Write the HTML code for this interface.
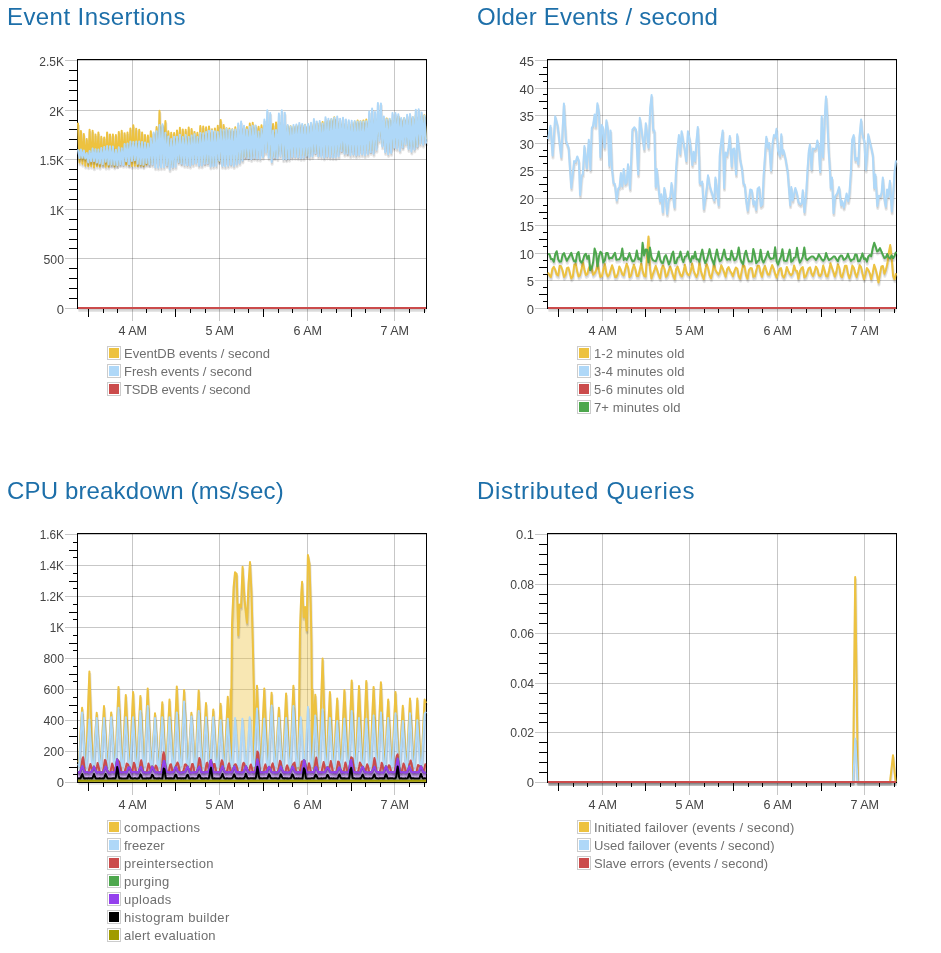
<!DOCTYPE html>
<html lang="en">
<head>
<meta charset="utf-8">
<title>Dashboard</title>
<style>
html,body{margin:0;padding:0;background:#fff}
body{position:relative;width:941px;height:953px;overflow:hidden;font-family:"Liberation Sans",sans-serif}
.panel{position:absolute;width:470px;height:474px;will-change:transform}
h2{position:absolute;left:7px;top:0;margin:0;font-weight:normal;font-size:24px;line-height:33px;color:#1d6fa9;white-space:nowrap}
svg.plot{position:absolute;left:0;top:0;overflow:visible}
svg.plot text{font-family:"Liberation Sans",sans-serif;font-size:13px;fill:#444}
.legend{position:absolute;left:107px;top:346px;font-size:13px;color:#6f6f6f}
.lr{height:18px;white-space:nowrap;position:relative}
.sw{position:absolute;left:0;top:0;width:10px;height:10px;padding:1px;border:1px solid #ccc;background:#fff}
.sw i{display:block;width:10px;height:10px}
.ll{position:absolute;left:17px;top:0;line-height:16px}
</style>
</head>
<body>
<section class="panel" style="left:0px;top:0px">
<h2 style="letter-spacing:0.42px">Event Insertions</h2>
<svg class="plot" width="470" height="345" viewBox="0 0 470 345">
<g shape-rendering="crispEdges" fill="none">
<path d="M65 308.5 H426" stroke="#000" stroke-opacity="0.22"/>
<path d="M65 258.5 H426" stroke="#000" stroke-opacity="0.22"/>
<path d="M65 209.5 H426" stroke="#000" stroke-opacity="0.22"/>
<path d="M65 159.5 H426" stroke="#000" stroke-opacity="0.22"/>
<path d="M65 110.5 H426" stroke="#000" stroke-opacity="0.22"/>
<path d="M65 60.5 H426" stroke="#000" stroke-opacity="0.22"/>
<path d="M132.5 60 V321" stroke="#000" stroke-opacity="0.22"/>
<path d="M219.5 60 V321" stroke="#000" stroke-opacity="0.22"/>
<path d="M307.5 60 V321" stroke="#000" stroke-opacity="0.22"/>
<path d="M394.5 60 V321" stroke="#000" stroke-opacity="0.22"/>
<rect x="77.5" y="59.5" width="349" height="249" stroke="#000"/>
<path d="M69 298.5 H77" stroke="#000"/>
<path d="M69 288.5 H77" stroke="#000"/>
<path d="M69 278.5 H77" stroke="#000"/>
<path d="M69 268.5 H77" stroke="#000"/>
<path d="M69 248.5 H77" stroke="#000"/>
<path d="M69 239.5 H77" stroke="#000"/>
<path d="M69 229.5 H77" stroke="#000"/>
<path d="M69 219.5 H77" stroke="#000"/>
<path d="M69 199.5 H77" stroke="#000"/>
<path d="M69 189.5 H77" stroke="#000"/>
<path d="M69 179.5 H77" stroke="#000"/>
<path d="M69 169.5 H77" stroke="#000"/>
<path d="M69 149.5 H77" stroke="#000"/>
<path d="M69 139.5 H77" stroke="#000"/>
<path d="M69 129.5 H77" stroke="#000"/>
<path d="M69 120.5 H77" stroke="#000"/>
<path d="M69 100.5 H77" stroke="#000"/>
<path d="M69 90.5 H77" stroke="#000"/>
<path d="M69 80.5 H77" stroke="#000"/>
<path d="M69 70.5 H77" stroke="#000"/>
<path d="M88.5 309 V317" stroke="#000"/>
<path d="M103.5 309 V313" stroke="#000"/>
<path d="M117.5 309 V313" stroke="#000"/>
<path d="M146.5 309 V313" stroke="#000"/>
<path d="M161.5 309 V313" stroke="#000"/>
<path d="M175.5 309 V317" stroke="#000"/>
<path d="M190.5 309 V313" stroke="#000"/>
<path d="M205.5 309 V313" stroke="#000"/>
<path d="M234.5 309 V313" stroke="#000"/>
<path d="M248.5 309 V313" stroke="#000"/>
<path d="M263.5 309 V317" stroke="#000"/>
<path d="M278.5 309 V313" stroke="#000"/>
<path d="M292.5 309 V313" stroke="#000"/>
<path d="M321.5 309 V313" stroke="#000"/>
<path d="M336.5 309 V313" stroke="#000"/>
<path d="M351.5 309 V317" stroke="#000"/>
<path d="M365.5 309 V313" stroke="#000"/>
<path d="M380.5 309 V313" stroke="#000"/>
<path d="M409.5 309 V313" stroke="#000"/>
<path d="M424.5 309 V313" stroke="#000"/>
</g>
<g fill="none" stroke-linejoin="round" stroke-linecap="butt">
<path d="M78 122.7L79.5 162.5L80.9 130.9L82.4 163.8L83.8 134L85.3 165.7L86.7 138.9L88.2 166.3L89.6 129.8L91.1 165.9L92.6 130.8L94 167.4L95.5 134.5L96.9 165.9L98.4 132.6L99.8 166.7L101.3 136.7L102.8 164.9L104.2 137.4L105.7 166.8L107.1 132.4L108.6 166.6L110 134.4L111.5 164.8L112.9 134.6L114.4 166.5L115.9 135.1L117.3 165.4L118.8 131.9L120.2 163.5L121.7 130.8L123.1 163.1L124.6 133.2L126.1 164.7L127.5 132.6L129 165.2L130.4 128.4L131.9 166L133.3 125.2L134.8 165.7L136.2 128.8L137.7 166.1L139.2 129.7L140.6 165.5L142.1 132.6L143.5 166.3L145 135.1L146.4 164.5L147.9 135.6L149.3 164.3L150.8 131.2L152.3 162.1L153.7 134.2L155.2 160.7L156.6 127L158.1 163L159.5 110.8L161 160.2L162.5 125.5L163.9 162.5L165.4 121.1L166.8 163.8L168.3 131.2L169.7 164.3L171.2 132.8L172.6 164.8L174.1 133.1L175.6 159.4L177 130.4L178.5 160.6L179.9 127.8L181.4 162.1L182.8 129.5L184.3 160.4L185.7 129.7L187.2 162.5L188.7 127.5L190.1 162.4L191.6 129.1L193 161.1L194.5 131.9L195.9 159.8L197.4 132.7L198.9 162.8L200.3 126L201.8 162.2L203.2 126.5L204.7 162.3L206.1 127.2L207.6 161.2L209 126.4L210.5 162.9L212 129.3L213.4 162.7L214.9 128.4L216.3 158.9L217.8 125.8L219.2 161.3L220.7 120.1L222.2 162.3L223.6 124.9L225.1 161.3L226.5 128.2L228 162.2L229.4 128.6L230.9 162.3L232.3 129.3L233.8 161.9L235.3 127.3L236.7 161L238.2 129.2L239.6 159.5L241.1 126.7L242.5 157.7L244 127.5L245.4 156.1L246.9 127.1L248.4 156.4L249.8 123.6L251.3 156.3L252.7 122.7L254.2 155.4L255.6 126L257.1 155.3L258.6 126.8L260 152.7L261.5 125.3L262.9 153.6L264.4 125.7L265.8 145.5L267.3 124.8L268.7 152.5L270.2 126.5L271.7 158.1L273.1 124L274.6 156.1L276 122.4L277.5 153.7L278.9 120.7L280.4 150.9L281.8 122.3L283.3 156.1L284.8 126.7L286.2 157.8L287.7 125.8L289.1 156.3L290.6 126.2L292 154.8L293.5 126.9L295 154.1L296.4 125.9L297.9 155L299.3 125.8L300.8 155.1L302.2 125.5L303.7 155.2L305.1 124.7L306.6 155.2L308.1 124.8L309.5 153.2L311 124.5L312.4 151.8L313.9 122.9L315.3 151.2L316.8 123.4L318.3 153.1L319.7 123L321.2 152.5L322.6 122L324.1 154.8L325.5 121.9L327 153.9L328.4 121.1L329.9 154.6L331.4 119.3L332.8 154.6L334.3 117.2L335.7 153.2L337.2 121.3L338.6 151.6L340.1 122.4L341.5 149.3L343 121.8L344.5 150.6L345.9 124.8L347.4 152.2L348.8 124.4L350.3 149.5L351.7 124.4L353.2 151.5L354.7 121.7L356.1 153L357.6 120.5L359 150.2L360.5 121.3L361.9 150.9L363.4 120.4L364.8 150.5L366.3 119.6L367.8 150.8L369.2 120L370.7 150.3L372.1 118.4L373.6 150.1L375 118.2L376.5 145L377.9 118.2L379.4 135.9L380.9 119.7L382.3 142.6L383.8 120.6L385.2 148.8L386.7 118.6L388.1 149.7L389.6 119L391.1 149.1L392.5 120.8L394 145.7L395.4 118.3L396.9 144.1L398.3 116.8L399.8 145.5L401.2 119.3L402.7 145.5L404.2 118.2L405.6 139.8L407.1 119L408.5 145.3L410 116.3L411.4 146L412.9 117.6L414.4 146.6L415.8 115.1L417.3 144.5L418.7 117.2L420.2 140.1L421.6 116.2L423.1 141.5L424.5 115.2L426 139.4" transform="translate(0.43,2.46)" stroke="#000" stroke-opacity="0.1" stroke-width="3"/>
<path d="M78 122.7L79.5 162.5L80.9 130.9L82.4 163.8L83.8 134L85.3 165.7L86.7 138.9L88.2 166.3L89.6 129.8L91.1 165.9L92.6 130.8L94 167.4L95.5 134.5L96.9 165.9L98.4 132.6L99.8 166.7L101.3 136.7L102.8 164.9L104.2 137.4L105.7 166.8L107.1 132.4L108.6 166.6L110 134.4L111.5 164.8L112.9 134.6L114.4 166.5L115.9 135.1L117.3 165.4L118.8 131.9L120.2 163.5L121.7 130.8L123.1 163.1L124.6 133.2L126.1 164.7L127.5 132.6L129 165.2L130.4 128.4L131.9 166L133.3 125.2L134.8 165.7L136.2 128.8L137.7 166.1L139.2 129.7L140.6 165.5L142.1 132.6L143.5 166.3L145 135.1L146.4 164.5L147.9 135.6L149.3 164.3L150.8 131.2L152.3 162.1L153.7 134.2L155.2 160.7L156.6 127L158.1 163L159.5 110.8L161 160.2L162.5 125.5L163.9 162.5L165.4 121.1L166.8 163.8L168.3 131.2L169.7 164.3L171.2 132.8L172.6 164.8L174.1 133.1L175.6 159.4L177 130.4L178.5 160.6L179.9 127.8L181.4 162.1L182.8 129.5L184.3 160.4L185.7 129.7L187.2 162.5L188.7 127.5L190.1 162.4L191.6 129.1L193 161.1L194.5 131.9L195.9 159.8L197.4 132.7L198.9 162.8L200.3 126L201.8 162.2L203.2 126.5L204.7 162.3L206.1 127.2L207.6 161.2L209 126.4L210.5 162.9L212 129.3L213.4 162.7L214.9 128.4L216.3 158.9L217.8 125.8L219.2 161.3L220.7 120.1L222.2 162.3L223.6 124.9L225.1 161.3L226.5 128.2L228 162.2L229.4 128.6L230.9 162.3L232.3 129.3L233.8 161.9L235.3 127.3L236.7 161L238.2 129.2L239.6 159.5L241.1 126.7L242.5 157.7L244 127.5L245.4 156.1L246.9 127.1L248.4 156.4L249.8 123.6L251.3 156.3L252.7 122.7L254.2 155.4L255.6 126L257.1 155.3L258.6 126.8L260 152.7L261.5 125.3L262.9 153.6L264.4 125.7L265.8 145.5L267.3 124.8L268.7 152.5L270.2 126.5L271.7 158.1L273.1 124L274.6 156.1L276 122.4L277.5 153.7L278.9 120.7L280.4 150.9L281.8 122.3L283.3 156.1L284.8 126.7L286.2 157.8L287.7 125.8L289.1 156.3L290.6 126.2L292 154.8L293.5 126.9L295 154.1L296.4 125.9L297.9 155L299.3 125.8L300.8 155.1L302.2 125.5L303.7 155.2L305.1 124.7L306.6 155.2L308.1 124.8L309.5 153.2L311 124.5L312.4 151.8L313.9 122.9L315.3 151.2L316.8 123.4L318.3 153.1L319.7 123L321.2 152.5L322.6 122L324.1 154.8L325.5 121.9L327 153.9L328.4 121.1L329.9 154.6L331.4 119.3L332.8 154.6L334.3 117.2L335.7 153.2L337.2 121.3L338.6 151.6L340.1 122.4L341.5 149.3L343 121.8L344.5 150.6L345.9 124.8L347.4 152.2L348.8 124.4L350.3 149.5L351.7 124.4L353.2 151.5L354.7 121.7L356.1 153L357.6 120.5L359 150.2L360.5 121.3L361.9 150.9L363.4 120.4L364.8 150.5L366.3 119.6L367.8 150.8L369.2 120L370.7 150.3L372.1 118.4L373.6 150.1L375 118.2L376.5 145L377.9 118.2L379.4 135.9L380.9 119.7L382.3 142.6L383.8 120.6L385.2 148.8L386.7 118.6L388.1 149.7L389.6 119L391.1 149.1L392.5 120.8L394 145.7L395.4 118.3L396.9 144.1L398.3 116.8L399.8 145.5L401.2 119.3L402.7 145.5L404.2 118.2L405.6 139.8L407.1 119L408.5 145.3L410 116.3L411.4 146L412.9 117.6L414.4 146.6L415.8 115.1L417.3 144.5L418.7 117.2L420.2 140.1L421.6 116.2L423.1 141.5L424.5 115.2L426 139.4" transform="translate(0.3,1.72)" stroke="#000" stroke-opacity="0.1" stroke-width="1.5"/>
<path d="M78 122.7L79.5 162.5L80.9 130.9L82.4 163.8L83.8 134L85.3 165.7L86.7 138.9L88.2 166.3L89.6 129.8L91.1 165.9L92.6 130.8L94 167.4L95.5 134.5L96.9 165.9L98.4 132.6L99.8 166.7L101.3 136.7L102.8 164.9L104.2 137.4L105.7 166.8L107.1 132.4L108.6 166.6L110 134.4L111.5 164.8L112.9 134.6L114.4 166.5L115.9 135.1L117.3 165.4L118.8 131.9L120.2 163.5L121.7 130.8L123.1 163.1L124.6 133.2L126.1 164.7L127.5 132.6L129 165.2L130.4 128.4L131.9 166L133.3 125.2L134.8 165.7L136.2 128.8L137.7 166.1L139.2 129.7L140.6 165.5L142.1 132.6L143.5 166.3L145 135.1L146.4 164.5L147.9 135.6L149.3 164.3L150.8 131.2L152.3 162.1L153.7 134.2L155.2 160.7L156.6 127L158.1 163L159.5 110.8L161 160.2L162.5 125.5L163.9 162.5L165.4 121.1L166.8 163.8L168.3 131.2L169.7 164.3L171.2 132.8L172.6 164.8L174.1 133.1L175.6 159.4L177 130.4L178.5 160.6L179.9 127.8L181.4 162.1L182.8 129.5L184.3 160.4L185.7 129.7L187.2 162.5L188.7 127.5L190.1 162.4L191.6 129.1L193 161.1L194.5 131.9L195.9 159.8L197.4 132.7L198.9 162.8L200.3 126L201.8 162.2L203.2 126.5L204.7 162.3L206.1 127.2L207.6 161.2L209 126.4L210.5 162.9L212 129.3L213.4 162.7L214.9 128.4L216.3 158.9L217.8 125.8L219.2 161.3L220.7 120.1L222.2 162.3L223.6 124.9L225.1 161.3L226.5 128.2L228 162.2L229.4 128.6L230.9 162.3L232.3 129.3L233.8 161.9L235.3 127.3L236.7 161L238.2 129.2L239.6 159.5L241.1 126.7L242.5 157.7L244 127.5L245.4 156.1L246.9 127.1L248.4 156.4L249.8 123.6L251.3 156.3L252.7 122.7L254.2 155.4L255.6 126L257.1 155.3L258.6 126.8L260 152.7L261.5 125.3L262.9 153.6L264.4 125.7L265.8 145.5L267.3 124.8L268.7 152.5L270.2 126.5L271.7 158.1L273.1 124L274.6 156.1L276 122.4L277.5 153.7L278.9 120.7L280.4 150.9L281.8 122.3L283.3 156.1L284.8 126.7L286.2 157.8L287.7 125.8L289.1 156.3L290.6 126.2L292 154.8L293.5 126.9L295 154.1L296.4 125.9L297.9 155L299.3 125.8L300.8 155.1L302.2 125.5L303.7 155.2L305.1 124.7L306.6 155.2L308.1 124.8L309.5 153.2L311 124.5L312.4 151.8L313.9 122.9L315.3 151.2L316.8 123.4L318.3 153.1L319.7 123L321.2 152.5L322.6 122L324.1 154.8L325.5 121.9L327 153.9L328.4 121.1L329.9 154.6L331.4 119.3L332.8 154.6L334.3 117.2L335.7 153.2L337.2 121.3L338.6 151.6L340.1 122.4L341.5 149.3L343 121.8L344.5 150.6L345.9 124.8L347.4 152.2L348.8 124.4L350.3 149.5L351.7 124.4L353.2 151.5L354.7 121.7L356.1 153L357.6 120.5L359 150.2L360.5 121.3L361.9 150.9L363.4 120.4L364.8 150.5L366.3 119.6L367.8 150.8L369.2 120L370.7 150.3L372.1 118.4L373.6 150.1L375 118.2L376.5 145L377.9 118.2L379.4 135.9L380.9 119.7L382.3 142.6L383.8 120.6L385.2 148.8L386.7 118.6L388.1 149.7L389.6 119L391.1 149.1L392.5 120.8L394 145.7L395.4 118.3L396.9 144.1L398.3 116.8L399.8 145.5L401.2 119.3L402.7 145.5L404.2 118.2L405.6 139.8L407.1 119L408.5 145.3L410 116.3L411.4 146L412.9 117.6L414.4 146.6L415.8 115.1L417.3 144.5L418.7 117.2L420.2 140.1L421.6 116.2L423.1 141.5L424.5 115.2L426 139.4" stroke="#edc240" stroke-width="2"/>
<path d="M78 149.3L79.5 158L80.9 149.4L82.4 157.8L83.8 150.4L85.3 158.6L86.7 153L88.2 162.4L89.6 151L91.1 161.3L92.6 148.6L94 161.2L95.5 149.2L96.9 162.6L98.4 149.5L99.8 163.4L101.3 148L102.8 164.5L104.2 147.1L105.7 161.7L107.1 146.1L108.6 164.4L110 146.3L111.5 164.5L112.9 146.6L114.4 164.7L115.9 149.7L117.3 165.3L118.8 147.3L120.2 164.2L121.7 148.2L123.1 164.9L124.6 144L126.1 161.3L127.5 143.4L129 164.4L130.4 141.5L131.9 160.9L133.3 141.9L134.8 160.2L136.2 141.5L137.7 163.7L139.2 141.6L140.6 164.2L142.1 142L143.5 164.8L145 142.5L146.4 162.9L147.9 143.5L149.3 164.4L150.8 138.3L152.3 164.5L153.7 132.4L155.2 167.2L156.6 131.3L158.1 167.6L159.5 125L161 167.3L162.5 124.3L163.9 167.1L165.4 132.8L166.8 165.3L168.3 136.4L169.7 169.3L171.2 139.1L172.6 167.3L174.1 136.8L175.6 166.8L177 136.7L178.5 162L179.9 134.7L181.4 163.6L182.8 137L184.3 164.9L185.7 135L187.2 165.1L188.7 136.9L190.1 165.8L191.6 135.6L193 164.3L194.5 134.3L195.9 163.3L197.4 137L198.9 165.6L200.3 132.9L201.8 165.5L203.2 133.3L204.7 163.8L206.1 131.9L207.6 163.2L209 130.8L210.5 166.6L212 130.4L213.4 166.1L214.9 131.3L216.3 165.7L217.8 131.9L219.2 160.7L220.7 129.2L222.2 165.9L223.6 130.1L225.1 166.3L226.5 128.7L228 165.8L229.4 130.1L230.9 164.8L232.3 129.6L233.8 166L235.3 129.5L236.7 164.6L238.2 123.4L239.6 162.9L241.1 121.6L242.5 160.5L244 125.7L245.4 156.8L246.9 129.4L248.4 158.1L249.8 126.8L251.3 159.1L252.7 125.8L254.2 157.7L255.6 125.6L257.1 158.5L258.6 131.5L260 158.7L261.5 129.1L262.9 156.9L264.4 119.6L265.8 152.5L267.3 110.3L268.7 157.6L270.2 112.9L271.7 161.9L273.1 130.6L274.6 157.3L276 130.1L277.5 158.3L278.9 113.6L280.4 155.9L281.8 110.2L283.3 159.3L284.8 112.8L286.2 159.3L287.7 125L289.1 158.7L290.6 126.5L292 157L293.5 125L295 156.9L296.4 124.4L297.9 157.3L299.3 122.9L300.8 158.1L302.2 123.9L303.7 157.7L305.1 124.9L306.6 155.8L308.1 124L309.5 157L311 122.8L312.4 156.3L313.9 119L315.3 153.1L316.8 121.6L318.3 156.1L319.7 121.1L321.2 156.6L322.6 123.6L324.1 157.6L325.5 117.3L327 156.5L328.4 118.7L329.9 157L331.4 119L332.8 157.3L334.3 117.8L335.7 157.3L337.2 116.6L338.6 156.2L340.1 118.8L341.5 150.9L343 117.8L344.5 153.8L345.9 119.4L347.4 153.5L348.8 120.2L350.3 155.2L351.7 120.8L353.2 154.5L354.7 121L356.1 155.5L357.6 121.5L359 154.8L360.5 121.4L361.9 154.2L363.4 121.4L364.8 155.3L366.3 121.3L367.8 154L369.2 111.5L370.7 152.1L372.1 108.5L373.6 153.7L375 112.1L376.5 149.7L377.9 103L379.4 140.7L380.9 103.4L382.3 146.4L383.8 116.4L385.2 152.1L386.7 119.3L388.1 154.1L389.6 118.8L391.1 152.9L392.5 113.1L394 147.7L395.4 113.1L396.9 148.5L398.3 114.2L399.8 150.6L401.2 118.1L402.7 147.4L404.2 118.1L405.6 143.9L407.1 114.7L408.5 149L410 114L411.4 151.6L412.9 117.1L414.4 149.5L415.8 109.7L417.3 146.6L418.7 109.3L420.2 143.8L421.6 112.4L423.1 144.7L424.5 115.8L426 143.6" transform="translate(0.43,2.46)" stroke="#000" stroke-opacity="0.1" stroke-width="3"/>
<path d="M78 149.3L79.5 158L80.9 149.4L82.4 157.8L83.8 150.4L85.3 158.6L86.7 153L88.2 162.4L89.6 151L91.1 161.3L92.6 148.6L94 161.2L95.5 149.2L96.9 162.6L98.4 149.5L99.8 163.4L101.3 148L102.8 164.5L104.2 147.1L105.7 161.7L107.1 146.1L108.6 164.4L110 146.3L111.5 164.5L112.9 146.6L114.4 164.7L115.9 149.7L117.3 165.3L118.8 147.3L120.2 164.2L121.7 148.2L123.1 164.9L124.6 144L126.1 161.3L127.5 143.4L129 164.4L130.4 141.5L131.9 160.9L133.3 141.9L134.8 160.2L136.2 141.5L137.7 163.7L139.2 141.6L140.6 164.2L142.1 142L143.5 164.8L145 142.5L146.4 162.9L147.9 143.5L149.3 164.4L150.8 138.3L152.3 164.5L153.7 132.4L155.2 167.2L156.6 131.3L158.1 167.6L159.5 125L161 167.3L162.5 124.3L163.9 167.1L165.4 132.8L166.8 165.3L168.3 136.4L169.7 169.3L171.2 139.1L172.6 167.3L174.1 136.8L175.6 166.8L177 136.7L178.5 162L179.9 134.7L181.4 163.6L182.8 137L184.3 164.9L185.7 135L187.2 165.1L188.7 136.9L190.1 165.8L191.6 135.6L193 164.3L194.5 134.3L195.9 163.3L197.4 137L198.9 165.6L200.3 132.9L201.8 165.5L203.2 133.3L204.7 163.8L206.1 131.9L207.6 163.2L209 130.8L210.5 166.6L212 130.4L213.4 166.1L214.9 131.3L216.3 165.7L217.8 131.9L219.2 160.7L220.7 129.2L222.2 165.9L223.6 130.1L225.1 166.3L226.5 128.7L228 165.8L229.4 130.1L230.9 164.8L232.3 129.6L233.8 166L235.3 129.5L236.7 164.6L238.2 123.4L239.6 162.9L241.1 121.6L242.5 160.5L244 125.7L245.4 156.8L246.9 129.4L248.4 158.1L249.8 126.8L251.3 159.1L252.7 125.8L254.2 157.7L255.6 125.6L257.1 158.5L258.6 131.5L260 158.7L261.5 129.1L262.9 156.9L264.4 119.6L265.8 152.5L267.3 110.3L268.7 157.6L270.2 112.9L271.7 161.9L273.1 130.6L274.6 157.3L276 130.1L277.5 158.3L278.9 113.6L280.4 155.9L281.8 110.2L283.3 159.3L284.8 112.8L286.2 159.3L287.7 125L289.1 158.7L290.6 126.5L292 157L293.5 125L295 156.9L296.4 124.4L297.9 157.3L299.3 122.9L300.8 158.1L302.2 123.9L303.7 157.7L305.1 124.9L306.6 155.8L308.1 124L309.5 157L311 122.8L312.4 156.3L313.9 119L315.3 153.1L316.8 121.6L318.3 156.1L319.7 121.1L321.2 156.6L322.6 123.6L324.1 157.6L325.5 117.3L327 156.5L328.4 118.7L329.9 157L331.4 119L332.8 157.3L334.3 117.8L335.7 157.3L337.2 116.6L338.6 156.2L340.1 118.8L341.5 150.9L343 117.8L344.5 153.8L345.9 119.4L347.4 153.5L348.8 120.2L350.3 155.2L351.7 120.8L353.2 154.5L354.7 121L356.1 155.5L357.6 121.5L359 154.8L360.5 121.4L361.9 154.2L363.4 121.4L364.8 155.3L366.3 121.3L367.8 154L369.2 111.5L370.7 152.1L372.1 108.5L373.6 153.7L375 112.1L376.5 149.7L377.9 103L379.4 140.7L380.9 103.4L382.3 146.4L383.8 116.4L385.2 152.1L386.7 119.3L388.1 154.1L389.6 118.8L391.1 152.9L392.5 113.1L394 147.7L395.4 113.1L396.9 148.5L398.3 114.2L399.8 150.6L401.2 118.1L402.7 147.4L404.2 118.1L405.6 143.9L407.1 114.7L408.5 149L410 114L411.4 151.6L412.9 117.1L414.4 149.5L415.8 109.7L417.3 146.6L418.7 109.3L420.2 143.8L421.6 112.4L423.1 144.7L424.5 115.8L426 143.6" transform="translate(0.3,1.72)" stroke="#000" stroke-opacity="0.1" stroke-width="1.5"/>
<path d="M78 149.3L79.5 158L80.9 149.4L82.4 157.8L83.8 150.4L85.3 158.6L86.7 153L88.2 162.4L89.6 151L91.1 161.3L92.6 148.6L94 161.2L95.5 149.2L96.9 162.6L98.4 149.5L99.8 163.4L101.3 148L102.8 164.5L104.2 147.1L105.7 161.7L107.1 146.1L108.6 164.4L110 146.3L111.5 164.5L112.9 146.6L114.4 164.7L115.9 149.7L117.3 165.3L118.8 147.3L120.2 164.2L121.7 148.2L123.1 164.9L124.6 144L126.1 161.3L127.5 143.4L129 164.4L130.4 141.5L131.9 160.9L133.3 141.9L134.8 160.2L136.2 141.5L137.7 163.7L139.2 141.6L140.6 164.2L142.1 142L143.5 164.8L145 142.5L146.4 162.9L147.9 143.5L149.3 164.4L150.8 138.3L152.3 164.5L153.7 132.4L155.2 167.2L156.6 131.3L158.1 167.6L159.5 125L161 167.3L162.5 124.3L163.9 167.1L165.4 132.8L166.8 165.3L168.3 136.4L169.7 169.3L171.2 139.1L172.6 167.3L174.1 136.8L175.6 166.8L177 136.7L178.5 162L179.9 134.7L181.4 163.6L182.8 137L184.3 164.9L185.7 135L187.2 165.1L188.7 136.9L190.1 165.8L191.6 135.6L193 164.3L194.5 134.3L195.9 163.3L197.4 137L198.9 165.6L200.3 132.9L201.8 165.5L203.2 133.3L204.7 163.8L206.1 131.9L207.6 163.2L209 130.8L210.5 166.6L212 130.4L213.4 166.1L214.9 131.3L216.3 165.7L217.8 131.9L219.2 160.7L220.7 129.2L222.2 165.9L223.6 130.1L225.1 166.3L226.5 128.7L228 165.8L229.4 130.1L230.9 164.8L232.3 129.6L233.8 166L235.3 129.5L236.7 164.6L238.2 123.4L239.6 162.9L241.1 121.6L242.5 160.5L244 125.7L245.4 156.8L246.9 129.4L248.4 158.1L249.8 126.8L251.3 159.1L252.7 125.8L254.2 157.7L255.6 125.6L257.1 158.5L258.6 131.5L260 158.7L261.5 129.1L262.9 156.9L264.4 119.6L265.8 152.5L267.3 110.3L268.7 157.6L270.2 112.9L271.7 161.9L273.1 130.6L274.6 157.3L276 130.1L277.5 158.3L278.9 113.6L280.4 155.9L281.8 110.2L283.3 159.3L284.8 112.8L286.2 159.3L287.7 125L289.1 158.7L290.6 126.5L292 157L293.5 125L295 156.9L296.4 124.4L297.9 157.3L299.3 122.9L300.8 158.1L302.2 123.9L303.7 157.7L305.1 124.9L306.6 155.8L308.1 124L309.5 157L311 122.8L312.4 156.3L313.9 119L315.3 153.1L316.8 121.6L318.3 156.1L319.7 121.1L321.2 156.6L322.6 123.6L324.1 157.6L325.5 117.3L327 156.5L328.4 118.7L329.9 157L331.4 119L332.8 157.3L334.3 117.8L335.7 157.3L337.2 116.6L338.6 156.2L340.1 118.8L341.5 150.9L343 117.8L344.5 153.8L345.9 119.4L347.4 153.5L348.8 120.2L350.3 155.2L351.7 120.8L353.2 154.5L354.7 121L356.1 155.5L357.6 121.5L359 154.8L360.5 121.4L361.9 154.2L363.4 121.4L364.8 155.3L366.3 121.3L367.8 154L369.2 111.5L370.7 152.1L372.1 108.5L373.6 153.7L375 112.1L376.5 149.7L377.9 103L379.4 140.7L380.9 103.4L382.3 146.4L383.8 116.4L385.2 152.1L386.7 119.3L388.1 154.1L389.6 118.8L391.1 152.9L392.5 113.1L394 147.7L395.4 113.1L396.9 148.5L398.3 114.2L399.8 150.6L401.2 118.1L402.7 147.4L404.2 118.1L405.6 143.9L407.1 114.7L408.5 149L410 114L411.4 151.6L412.9 117.1L414.4 149.5L415.8 109.7L417.3 146.6L418.7 109.3L420.2 143.8L421.6 112.4L423.1 144.7L424.5 115.8L426 143.6" stroke="#afd8f8" stroke-width="2"/>
<path d="M78 308L426 308" transform="translate(0.43,2.46)" stroke="#000" stroke-opacity="0.1" stroke-width="3"/>
<path d="M78 308L426 308" transform="translate(0.3,1.72)" stroke="#000" stroke-opacity="0.1" stroke-width="1.5"/>
<path d="M78 308L426 308" stroke="#cb4b4b" stroke-width="2"/>
</g>
<g class="tk">
<text x="64" y="314" text-anchor="end">0</text>
<text x="64" y="264" text-anchor="end" textLength="20.5" lengthAdjust="spacingAndGlyphs">500</text>
<text x="64" y="215" text-anchor="end" textLength="14.3" lengthAdjust="spacingAndGlyphs">1K</text>
<text x="64" y="165" text-anchor="end" textLength="24.3" lengthAdjust="spacingAndGlyphs">1.5K</text>
<text x="64" y="116" text-anchor="end" textLength="14.8" lengthAdjust="spacingAndGlyphs">2K</text>
<text x="64" y="66" text-anchor="end" textLength="24.7" lengthAdjust="spacingAndGlyphs">2.5K</text>
<text x="132.7" y="334.6" text-anchor="middle" textLength="28.6" lengthAdjust="spacingAndGlyphs">4 AM</text>
<text x="219.7" y="334.6" text-anchor="middle" textLength="28.6" lengthAdjust="spacingAndGlyphs">5 AM</text>
<text x="307.7" y="334.6" text-anchor="middle" textLength="28.6" lengthAdjust="spacingAndGlyphs">6 AM</text>
<text x="394.7" y="334.6" text-anchor="middle" textLength="28.6" lengthAdjust="spacingAndGlyphs">7 AM</text>
</g>
</svg>
<div class="legend">
<div class="lr"><span class="sw"><i style="background:#edc240"></i></span><span class="ll">EventDB events / second</span></div>
<div class="lr"><span class="sw"><i style="background:#afd8f8"></i></span><span class="ll">Fresh events / second</span></div>
<div class="lr"><span class="sw"><i style="background:#cb4b4b"></i></span><span class="ll" style="letter-spacing:-0.157px">TSDB events / second</span></div>
</div>
</section>
<section class="panel" style="left:470px;top:0px">
<h2 style="letter-spacing:0.24px">Older Events / second</h2>
<svg class="plot" width="470" height="345" viewBox="0 0 470 345">
<g shape-rendering="crispEdges" fill="none">
<path d="M65 308.5 H426" stroke="#000" stroke-opacity="0.22"/>
<path d="M65 280.5 H426" stroke="#000" stroke-opacity="0.22"/>
<path d="M65 253.5 H426" stroke="#000" stroke-opacity="0.22"/>
<path d="M65 225.5 H426" stroke="#000" stroke-opacity="0.22"/>
<path d="M65 198.5 H426" stroke="#000" stroke-opacity="0.22"/>
<path d="M65 170.5 H426" stroke="#000" stroke-opacity="0.22"/>
<path d="M65 143.5 H426" stroke="#000" stroke-opacity="0.22"/>
<path d="M65 115.5 H426" stroke="#000" stroke-opacity="0.22"/>
<path d="M65 88.5 H426" stroke="#000" stroke-opacity="0.22"/>
<path d="M65 60.5 H426" stroke="#000" stroke-opacity="0.22"/>
<path d="M132.5 60 V321" stroke="#000" stroke-opacity="0.22"/>
<path d="M219.5 60 V321" stroke="#000" stroke-opacity="0.22"/>
<path d="M307.5 60 V321" stroke="#000" stroke-opacity="0.22"/>
<path d="M394.5 60 V321" stroke="#000" stroke-opacity="0.22"/>
<rect x="77.5" y="59.5" width="349" height="249" stroke="#000"/>
<path d="M73 301.5 H77" stroke="#000"/>
<path d="M69 294.5 H77" stroke="#000"/>
<path d="M73 287.5 H77" stroke="#000"/>
<path d="M73 274.5 H77" stroke="#000"/>
<path d="M69 267.5 H77" stroke="#000"/>
<path d="M73 260.5 H77" stroke="#000"/>
<path d="M73 246.5 H77" stroke="#000"/>
<path d="M69 239.5 H77" stroke="#000"/>
<path d="M73 232.5 H77" stroke="#000"/>
<path d="M73 218.5 H77" stroke="#000"/>
<path d="M69 212.5 H77" stroke="#000"/>
<path d="M73 205.5 H77" stroke="#000"/>
<path d="M73 191.5 H77" stroke="#000"/>
<path d="M69 184.5 H77" stroke="#000"/>
<path d="M73 177.5 H77" stroke="#000"/>
<path d="M73 163.5 H77" stroke="#000"/>
<path d="M69 156.5 H77" stroke="#000"/>
<path d="M73 150.5 H77" stroke="#000"/>
<path d="M73 136.5 H77" stroke="#000"/>
<path d="M69 129.5 H77" stroke="#000"/>
<path d="M73 122.5 H77" stroke="#000"/>
<path d="M73 108.5 H77" stroke="#000"/>
<path d="M69 101.5 H77" stroke="#000"/>
<path d="M73 94.5 H77" stroke="#000"/>
<path d="M73 81.5 H77" stroke="#000"/>
<path d="M69 74.5 H77" stroke="#000"/>
<path d="M73 67.5 H77" stroke="#000"/>
<path d="M88.5 309 V317" stroke="#000"/>
<path d="M103.5 309 V313" stroke="#000"/>
<path d="M117.5 309 V313" stroke="#000"/>
<path d="M146.5 309 V313" stroke="#000"/>
<path d="M161.5 309 V313" stroke="#000"/>
<path d="M175.5 309 V317" stroke="#000"/>
<path d="M190.5 309 V313" stroke="#000"/>
<path d="M205.5 309 V313" stroke="#000"/>
<path d="M234.5 309 V313" stroke="#000"/>
<path d="M248.5 309 V313" stroke="#000"/>
<path d="M263.5 309 V317" stroke="#000"/>
<path d="M278.5 309 V313" stroke="#000"/>
<path d="M292.5 309 V313" stroke="#000"/>
<path d="M321.5 309 V313" stroke="#000"/>
<path d="M336.5 309 V313" stroke="#000"/>
<path d="M351.5 309 V317" stroke="#000"/>
<path d="M365.5 309 V313" stroke="#000"/>
<path d="M380.5 309 V313" stroke="#000"/>
<path d="M409.5 309 V313" stroke="#000"/>
<path d="M424.5 309 V313" stroke="#000"/>
</g>
<g fill="none" stroke-linejoin="round" stroke-linecap="butt">
<path d="M78 272.6L79.5 275.3L80.9 277L82.4 268.8L83.8 266.8L85.3 269.9L86.7 274.5L88.2 275.4L89.6 266L91.1 266.2L92.6 270.7L94 277L95.5 275L96.9 268.1L98.4 267.5L99.8 272.7L101.3 278.5L102.8 276.5L104.2 265.1L105.7 263.8L107.1 271.1L108.6 276.5L110 275.3L111.5 269L112.9 262.3L114.4 269.7L115.9 275L117.3 274.2L118.8 268.1L120.2 265.5L121.7 268.3L123.1 274.8L124.6 273.3L126.1 270.2L127.5 262.4L129 270.9L130.4 277L131.9 276.1L133.3 269.6L134.8 264L136.2 272.6L137.7 276.5L139.2 274.8L140.6 270.1L142.1 265.2L143.5 269.8L145 277L146.4 276.9L147.9 273.4L149.3 266.4L150.8 269.7L152.3 274.3L153.7 275.4L155.2 269.3L156.6 263.7L158.1 267.5L159.5 277.1L161 275.6L162.5 269.2L163.9 264.8L165.4 269.3L166.8 276.1L168.3 276.1L169.7 270L171.2 263.4L172.6 270.7L174.1 275.8L175.6 276.5L177 255.6L178.5 236.4L179.9 268L181.4 278.4L182.8 274.3L184.3 270.1L185.7 265.7L187.2 270.1L188.7 275.1L190.1 278.3L191.6 268.6L193 265.4L194.5 268.8L195.9 276.8L197.4 275.2L198.9 269.8L200.3 266.5L201.8 271.2L203.2 276L204.7 279.1L206.1 269L207.6 266.6L209 271.1L210.5 275.2L212 276.4L213.4 271.9L214.9 264.7L216.3 271.6L217.8 274.5L219.2 275.3L220.7 271.1L222.2 263.5L223.6 270.5L225.1 274.4L226.5 277L228 273L229.4 262.6L230.9 271L232.3 275.6L233.8 279.2L235.3 269.6L236.7 264.1L238.2 268.8L239.6 275.4L241.1 278.3L242.5 272.1L244 263.1L245.4 270L246.9 272.4L248.4 274.6L249.8 272L251.3 265.2L252.7 268.4L254.2 272.6L255.6 276.7L257.1 269.2L258.6 267.1L260 270.7L261.5 273L262.9 276.3L264.4 271L265.8 267.5L267.3 268.8L268.7 276.2L270.2 278.8L271.7 271.1L273.1 264.7L274.6 266.5L276 275.1L277.5 278.8L278.9 270.1L280.4 268.1L281.8 268.2L283.3 276.8L284.8 276.4L286.2 270.5L287.7 265.8L289.1 266L290.6 273.1L292 276.8L293.5 269.1L295 266L296.4 270.6L297.9 274.6L299.3 274.7L300.8 269.1L302.2 265.1L303.7 268.8L305.1 273.7L306.6 277.6L308.1 272.7L309.5 269.1L311 268L312.4 275.7L313.9 277.5L315.3 274.2L316.8 266.9L318.3 270.8L319.7 273.8L321.2 275.2L322.6 273.4L324.1 265.4L325.5 270.6L327 270.9L328.4 278.8L329.9 271.1L331.4 268.1L332.8 267.1L334.3 277.4L335.7 276.5L337.2 272.4L338.6 268.3L340.1 267.4L341.5 273.5L343 275.9L344.5 271.7L345.9 266.6L347.4 269L348.8 275.3L350.3 276L351.7 273.3L353.2 265.4L354.7 271.1L356.1 276L357.6 276.5L359 270.8L360.5 263.3L361.9 267.7L363.4 272L364.8 276.6L366.3 272.1L367.8 264.3L369.2 267.1L370.7 275.7L372.1 277.2L373.6 271.6L375 265.8L376.5 265.8L377.9 273.6L379.4 278.3L380.9 273.7L382.3 265.6L383.8 267.8L385.2 273.3L386.7 277.1L388.1 271.9L389.6 265.2L391.1 267.1L392.5 273.5L394 279.2L395.4 274.7L396.9 268L398.3 269.9L399.8 273.3L401.2 279.2L402.7 273L404.2 264.7L405.6 269.1L407.1 275.3L408.5 282.6L410 273.7L411.4 266.4L412.9 266.1L414.4 273.8L415.8 270L417.3 264.1L418.7 253L420.2 245.1L421.6 257.2L423.1 275.8L424.5 279.3L426 273.3" transform="translate(0.43,2.46)" stroke="#000" stroke-opacity="0.1" stroke-width="3"/>
<path d="M78 272.6L79.5 275.3L80.9 277L82.4 268.8L83.8 266.8L85.3 269.9L86.7 274.5L88.2 275.4L89.6 266L91.1 266.2L92.6 270.7L94 277L95.5 275L96.9 268.1L98.4 267.5L99.8 272.7L101.3 278.5L102.8 276.5L104.2 265.1L105.7 263.8L107.1 271.1L108.6 276.5L110 275.3L111.5 269L112.9 262.3L114.4 269.7L115.9 275L117.3 274.2L118.8 268.1L120.2 265.5L121.7 268.3L123.1 274.8L124.6 273.3L126.1 270.2L127.5 262.4L129 270.9L130.4 277L131.9 276.1L133.3 269.6L134.8 264L136.2 272.6L137.7 276.5L139.2 274.8L140.6 270.1L142.1 265.2L143.5 269.8L145 277L146.4 276.9L147.9 273.4L149.3 266.4L150.8 269.7L152.3 274.3L153.7 275.4L155.2 269.3L156.6 263.7L158.1 267.5L159.5 277.1L161 275.6L162.5 269.2L163.9 264.8L165.4 269.3L166.8 276.1L168.3 276.1L169.7 270L171.2 263.4L172.6 270.7L174.1 275.8L175.6 276.5L177 255.6L178.5 236.4L179.9 268L181.4 278.4L182.8 274.3L184.3 270.1L185.7 265.7L187.2 270.1L188.7 275.1L190.1 278.3L191.6 268.6L193 265.4L194.5 268.8L195.9 276.8L197.4 275.2L198.9 269.8L200.3 266.5L201.8 271.2L203.2 276L204.7 279.1L206.1 269L207.6 266.6L209 271.1L210.5 275.2L212 276.4L213.4 271.9L214.9 264.7L216.3 271.6L217.8 274.5L219.2 275.3L220.7 271.1L222.2 263.5L223.6 270.5L225.1 274.4L226.5 277L228 273L229.4 262.6L230.9 271L232.3 275.6L233.8 279.2L235.3 269.6L236.7 264.1L238.2 268.8L239.6 275.4L241.1 278.3L242.5 272.1L244 263.1L245.4 270L246.9 272.4L248.4 274.6L249.8 272L251.3 265.2L252.7 268.4L254.2 272.6L255.6 276.7L257.1 269.2L258.6 267.1L260 270.7L261.5 273L262.9 276.3L264.4 271L265.8 267.5L267.3 268.8L268.7 276.2L270.2 278.8L271.7 271.1L273.1 264.7L274.6 266.5L276 275.1L277.5 278.8L278.9 270.1L280.4 268.1L281.8 268.2L283.3 276.8L284.8 276.4L286.2 270.5L287.7 265.8L289.1 266L290.6 273.1L292 276.8L293.5 269.1L295 266L296.4 270.6L297.9 274.6L299.3 274.7L300.8 269.1L302.2 265.1L303.7 268.8L305.1 273.7L306.6 277.6L308.1 272.7L309.5 269.1L311 268L312.4 275.7L313.9 277.5L315.3 274.2L316.8 266.9L318.3 270.8L319.7 273.8L321.2 275.2L322.6 273.4L324.1 265.4L325.5 270.6L327 270.9L328.4 278.8L329.9 271.1L331.4 268.1L332.8 267.1L334.3 277.4L335.7 276.5L337.2 272.4L338.6 268.3L340.1 267.4L341.5 273.5L343 275.9L344.5 271.7L345.9 266.6L347.4 269L348.8 275.3L350.3 276L351.7 273.3L353.2 265.4L354.7 271.1L356.1 276L357.6 276.5L359 270.8L360.5 263.3L361.9 267.7L363.4 272L364.8 276.6L366.3 272.1L367.8 264.3L369.2 267.1L370.7 275.7L372.1 277.2L373.6 271.6L375 265.8L376.5 265.8L377.9 273.6L379.4 278.3L380.9 273.7L382.3 265.6L383.8 267.8L385.2 273.3L386.7 277.1L388.1 271.9L389.6 265.2L391.1 267.1L392.5 273.5L394 279.2L395.4 274.7L396.9 268L398.3 269.9L399.8 273.3L401.2 279.2L402.7 273L404.2 264.7L405.6 269.1L407.1 275.3L408.5 282.6L410 273.7L411.4 266.4L412.9 266.1L414.4 273.8L415.8 270L417.3 264.1L418.7 253L420.2 245.1L421.6 257.2L423.1 275.8L424.5 279.3L426 273.3" transform="translate(0.3,1.72)" stroke="#000" stroke-opacity="0.1" stroke-width="1.5"/>
<path d="M78 272.6L79.5 275.3L80.9 277L82.4 268.8L83.8 266.8L85.3 269.9L86.7 274.5L88.2 275.4L89.6 266L91.1 266.2L92.6 270.7L94 277L95.5 275L96.9 268.1L98.4 267.5L99.8 272.7L101.3 278.5L102.8 276.5L104.2 265.1L105.7 263.8L107.1 271.1L108.6 276.5L110 275.3L111.5 269L112.9 262.3L114.4 269.7L115.9 275L117.3 274.2L118.8 268.1L120.2 265.5L121.7 268.3L123.1 274.8L124.6 273.3L126.1 270.2L127.5 262.4L129 270.9L130.4 277L131.9 276.1L133.3 269.6L134.8 264L136.2 272.6L137.7 276.5L139.2 274.8L140.6 270.1L142.1 265.2L143.5 269.8L145 277L146.4 276.9L147.9 273.4L149.3 266.4L150.8 269.7L152.3 274.3L153.7 275.4L155.2 269.3L156.6 263.7L158.1 267.5L159.5 277.1L161 275.6L162.5 269.2L163.9 264.8L165.4 269.3L166.8 276.1L168.3 276.1L169.7 270L171.2 263.4L172.6 270.7L174.1 275.8L175.6 276.5L177 255.6L178.5 236.4L179.9 268L181.4 278.4L182.8 274.3L184.3 270.1L185.7 265.7L187.2 270.1L188.7 275.1L190.1 278.3L191.6 268.6L193 265.4L194.5 268.8L195.9 276.8L197.4 275.2L198.9 269.8L200.3 266.5L201.8 271.2L203.2 276L204.7 279.1L206.1 269L207.6 266.6L209 271.1L210.5 275.2L212 276.4L213.4 271.9L214.9 264.7L216.3 271.6L217.8 274.5L219.2 275.3L220.7 271.1L222.2 263.5L223.6 270.5L225.1 274.4L226.5 277L228 273L229.4 262.6L230.9 271L232.3 275.6L233.8 279.2L235.3 269.6L236.7 264.1L238.2 268.8L239.6 275.4L241.1 278.3L242.5 272.1L244 263.1L245.4 270L246.9 272.4L248.4 274.6L249.8 272L251.3 265.2L252.7 268.4L254.2 272.6L255.6 276.7L257.1 269.2L258.6 267.1L260 270.7L261.5 273L262.9 276.3L264.4 271L265.8 267.5L267.3 268.8L268.7 276.2L270.2 278.8L271.7 271.1L273.1 264.7L274.6 266.5L276 275.1L277.5 278.8L278.9 270.1L280.4 268.1L281.8 268.2L283.3 276.8L284.8 276.4L286.2 270.5L287.7 265.8L289.1 266L290.6 273.1L292 276.8L293.5 269.1L295 266L296.4 270.6L297.9 274.6L299.3 274.7L300.8 269.1L302.2 265.1L303.7 268.8L305.1 273.7L306.6 277.6L308.1 272.7L309.5 269.1L311 268L312.4 275.7L313.9 277.5L315.3 274.2L316.8 266.9L318.3 270.8L319.7 273.8L321.2 275.2L322.6 273.4L324.1 265.4L325.5 270.6L327 270.9L328.4 278.8L329.9 271.1L331.4 268.1L332.8 267.1L334.3 277.4L335.7 276.5L337.2 272.4L338.6 268.3L340.1 267.4L341.5 273.5L343 275.9L344.5 271.7L345.9 266.6L347.4 269L348.8 275.3L350.3 276L351.7 273.3L353.2 265.4L354.7 271.1L356.1 276L357.6 276.5L359 270.8L360.5 263.3L361.9 267.7L363.4 272L364.8 276.6L366.3 272.1L367.8 264.3L369.2 267.1L370.7 275.7L372.1 277.2L373.6 271.6L375 265.8L376.5 265.8L377.9 273.6L379.4 278.3L380.9 273.7L382.3 265.6L383.8 267.8L385.2 273.3L386.7 277.1L388.1 271.9L389.6 265.2L391.1 267.1L392.5 273.5L394 279.2L395.4 274.7L396.9 268L398.3 269.9L399.8 273.3L401.2 279.2L402.7 273L404.2 264.7L405.6 269.1L407.1 275.3L408.5 282.6L410 273.7L411.4 266.4L412.9 266.1L414.4 273.8L415.8 270L417.3 264.1L418.7 253L420.2 245.1L421.6 257.2L423.1 275.8L424.5 279.3L426 273.3" stroke="#edc240" stroke-width="2"/>
<path d="M78 139.1L80.5 125.7L82.6 155.6L85.2 116.2L87.6 125.7L91.2 157.2L93.9 103.6L95.9 140.6L98.6 147.7L101.3 187.9L104.1 161.1L105.7 161.9L107.3 156.4L108.9 161.1L110.1 195L111.7 175.3L112.8 174.5L114.4 146.1L116.7 168.2L118.8 139.8L120.4 169.8L121.8 128L123 125.7L124.6 114.6L125.7 126.5L127.4 103.3L129 113.1L130.4 157.2L131.7 124.9L132.8 127.2L134.5 147.7L136.4 120.2L138 130.4L139.3 165.8L140.5 130.4L141.9 168.2L143.5 183.1L144.8 183.9L146.7 200.5L148.2 188.7L149.5 187.1L150.9 172.9L152.2 186.3L153.7 169L155.3 183.9L156.6 182.4L158 164.3L160 188.7L162.4 129.6L164.4 127.2L166 129.6L168.2 174.5L169.8 117.8L171.9 132.8L174.2 149.3L175.8 123.3L178.5 147.7L180.2 107.6L181.6 95L183.2 130.4L184.4 130.4L185.7 187.1L186.8 169L188.4 187.1L190 201.3L191.3 194.2L192.8 212.3L194.3 187.9L195.5 195L197.1 213.9L198.7 198.9L200.2 197.3L201.5 183.1L203.1 196.5L204.5 207.6L206.1 168.2L207.6 147.7L208.9 135.1L210.2 154L211.6 131.2L213.1 140.6L214.7 149.3L216.3 161.1L217.9 131.2L219.6 139.1L221 150.9L222.3 165L223.5 151.7L225 161.1L226.5 140.6L227.8 126.9L229.1 155.6L229.7 183.1L230.9 183.9L232.2 181.6L233.8 209.1L235.4 198.1L236.8 187.1L238 175.3L239.6 185.5L242 193.4L244.3 200.5L245.4 177.6L247 190.2L248.6 205.2L249.8 154L251.4 139.8L252.7 130.4L254.1 187.9L255.4 152.4L256.9 155.6L258.5 147.7L259.8 135.9L261.7 166.6L262.8 149.3L264.3 148.5L266.1 174.5L267.2 134.3L268.7 146.1L270.3 160.3L271.9 168.2L273.5 183.9L274.7 184.7L276.3 201.3L277.7 210.7L280.2 189.4L281.8 190.2L283.4 204.4L284.5 201.3L286.1 209.9L287.6 188.7L289.2 187.1L290.8 206L292.4 204.4L293.6 176.1L295.2 152.4L296.3 136.7L297.9 147.7L299.1 143L301 170.6L302.6 143L303.9 135.1L305.3 136.7L306.5 128.8L308.1 150.9L310 156.4L311.3 134.3L312.4 154L313.5 150.1L315.5 158.7L317.6 171.3L319.1 190.2L320.2 205.2L321.3 187.1L322.6 200.5L323.9 195L325.3 187.9L326.9 193.4L328.6 202.8L330.5 204.4L331.7 202.8L332.8 190.2L334.4 212.3L336 196.5L337.6 168.2L338.8 150.9L339.9 144.6L341.5 169.8L342.8 148.5L344.6 149.3L346.2 147.7L347.3 140.6L348.6 146.1L350.2 172.1L351.7 116.2L353 157.2L354.6 119.4L356 96.5L357.2 114.6L358.5 147.7L360.1 172.9L360.7 187.9L362 177.6L363.5 213.1L365.1 196.5L367.2 193.4L369.1 187.1L371.1 205.2L372.2 201.3L373.8 207.6L375.4 199.7L376.6 193.4L378.2 201.3L379.3 195L380.9 171.3L382.1 139.8L383.7 135.1L385.3 160.3L386.9 158L388.3 164.3L389.5 136.7L391.1 119.4L392.4 134.3L394.3 140.6L395.8 169.8L397.1 154L398.2 134.3L399.8 141.4L401.3 147.7L402.9 155.6L404.2 187.9L405.4 174.5L407.3 206L408.9 195.7L410.5 196.5L411.6 192.6L412.8 177.6L414.3 198.1L415.8 206.8L417.1 189.4L418.3 196.5L419.9 180.8L421.8 211.5L423.4 190.2L424.6 171.3L426 160.3" transform="translate(0.43,2.46)" stroke="#000" stroke-opacity="0.1" stroke-width="3"/>
<path d="M78 139.1L80.5 125.7L82.6 155.6L85.2 116.2L87.6 125.7L91.2 157.2L93.9 103.6L95.9 140.6L98.6 147.7L101.3 187.9L104.1 161.1L105.7 161.9L107.3 156.4L108.9 161.1L110.1 195L111.7 175.3L112.8 174.5L114.4 146.1L116.7 168.2L118.8 139.8L120.4 169.8L121.8 128L123 125.7L124.6 114.6L125.7 126.5L127.4 103.3L129 113.1L130.4 157.2L131.7 124.9L132.8 127.2L134.5 147.7L136.4 120.2L138 130.4L139.3 165.8L140.5 130.4L141.9 168.2L143.5 183.1L144.8 183.9L146.7 200.5L148.2 188.7L149.5 187.1L150.9 172.9L152.2 186.3L153.7 169L155.3 183.9L156.6 182.4L158 164.3L160 188.7L162.4 129.6L164.4 127.2L166 129.6L168.2 174.5L169.8 117.8L171.9 132.8L174.2 149.3L175.8 123.3L178.5 147.7L180.2 107.6L181.6 95L183.2 130.4L184.4 130.4L185.7 187.1L186.8 169L188.4 187.1L190 201.3L191.3 194.2L192.8 212.3L194.3 187.9L195.5 195L197.1 213.9L198.7 198.9L200.2 197.3L201.5 183.1L203.1 196.5L204.5 207.6L206.1 168.2L207.6 147.7L208.9 135.1L210.2 154L211.6 131.2L213.1 140.6L214.7 149.3L216.3 161.1L217.9 131.2L219.6 139.1L221 150.9L222.3 165L223.5 151.7L225 161.1L226.5 140.6L227.8 126.9L229.1 155.6L229.7 183.1L230.9 183.9L232.2 181.6L233.8 209.1L235.4 198.1L236.8 187.1L238 175.3L239.6 185.5L242 193.4L244.3 200.5L245.4 177.6L247 190.2L248.6 205.2L249.8 154L251.4 139.8L252.7 130.4L254.1 187.9L255.4 152.4L256.9 155.6L258.5 147.7L259.8 135.9L261.7 166.6L262.8 149.3L264.3 148.5L266.1 174.5L267.2 134.3L268.7 146.1L270.3 160.3L271.9 168.2L273.5 183.9L274.7 184.7L276.3 201.3L277.7 210.7L280.2 189.4L281.8 190.2L283.4 204.4L284.5 201.3L286.1 209.9L287.6 188.7L289.2 187.1L290.8 206L292.4 204.4L293.6 176.1L295.2 152.4L296.3 136.7L297.9 147.7L299.1 143L301 170.6L302.6 143L303.9 135.1L305.3 136.7L306.5 128.8L308.1 150.9L310 156.4L311.3 134.3L312.4 154L313.5 150.1L315.5 158.7L317.6 171.3L319.1 190.2L320.2 205.2L321.3 187.1L322.6 200.5L323.9 195L325.3 187.9L326.9 193.4L328.6 202.8L330.5 204.4L331.7 202.8L332.8 190.2L334.4 212.3L336 196.5L337.6 168.2L338.8 150.9L339.9 144.6L341.5 169.8L342.8 148.5L344.6 149.3L346.2 147.7L347.3 140.6L348.6 146.1L350.2 172.1L351.7 116.2L353 157.2L354.6 119.4L356 96.5L357.2 114.6L358.5 147.7L360.1 172.9L360.7 187.9L362 177.6L363.5 213.1L365.1 196.5L367.2 193.4L369.1 187.1L371.1 205.2L372.2 201.3L373.8 207.6L375.4 199.7L376.6 193.4L378.2 201.3L379.3 195L380.9 171.3L382.1 139.8L383.7 135.1L385.3 160.3L386.9 158L388.3 164.3L389.5 136.7L391.1 119.4L392.4 134.3L394.3 140.6L395.8 169.8L397.1 154L398.2 134.3L399.8 141.4L401.3 147.7L402.9 155.6L404.2 187.9L405.4 174.5L407.3 206L408.9 195.7L410.5 196.5L411.6 192.6L412.8 177.6L414.3 198.1L415.8 206.8L417.1 189.4L418.3 196.5L419.9 180.8L421.8 211.5L423.4 190.2L424.6 171.3L426 160.3" transform="translate(0.3,1.72)" stroke="#000" stroke-opacity="0.1" stroke-width="1.5"/>
<path d="M78 139.1L80.5 125.7L82.6 155.6L85.2 116.2L87.6 125.7L91.2 157.2L93.9 103.6L95.9 140.6L98.6 147.7L101.3 187.9L104.1 161.1L105.7 161.9L107.3 156.4L108.9 161.1L110.1 195L111.7 175.3L112.8 174.5L114.4 146.1L116.7 168.2L118.8 139.8L120.4 169.8L121.8 128L123 125.7L124.6 114.6L125.7 126.5L127.4 103.3L129 113.1L130.4 157.2L131.7 124.9L132.8 127.2L134.5 147.7L136.4 120.2L138 130.4L139.3 165.8L140.5 130.4L141.9 168.2L143.5 183.1L144.8 183.9L146.7 200.5L148.2 188.7L149.5 187.1L150.9 172.9L152.2 186.3L153.7 169L155.3 183.9L156.6 182.4L158 164.3L160 188.7L162.4 129.6L164.4 127.2L166 129.6L168.2 174.5L169.8 117.8L171.9 132.8L174.2 149.3L175.8 123.3L178.5 147.7L180.2 107.6L181.6 95L183.2 130.4L184.4 130.4L185.7 187.1L186.8 169L188.4 187.1L190 201.3L191.3 194.2L192.8 212.3L194.3 187.9L195.5 195L197.1 213.9L198.7 198.9L200.2 197.3L201.5 183.1L203.1 196.5L204.5 207.6L206.1 168.2L207.6 147.7L208.9 135.1L210.2 154L211.6 131.2L213.1 140.6L214.7 149.3L216.3 161.1L217.9 131.2L219.6 139.1L221 150.9L222.3 165L223.5 151.7L225 161.1L226.5 140.6L227.8 126.9L229.1 155.6L229.7 183.1L230.9 183.9L232.2 181.6L233.8 209.1L235.4 198.1L236.8 187.1L238 175.3L239.6 185.5L242 193.4L244.3 200.5L245.4 177.6L247 190.2L248.6 205.2L249.8 154L251.4 139.8L252.7 130.4L254.1 187.9L255.4 152.4L256.9 155.6L258.5 147.7L259.8 135.9L261.7 166.6L262.8 149.3L264.3 148.5L266.1 174.5L267.2 134.3L268.7 146.1L270.3 160.3L271.9 168.2L273.5 183.9L274.7 184.7L276.3 201.3L277.7 210.7L280.2 189.4L281.8 190.2L283.4 204.4L284.5 201.3L286.1 209.9L287.6 188.7L289.2 187.1L290.8 206L292.4 204.4L293.6 176.1L295.2 152.4L296.3 136.7L297.9 147.7L299.1 143L301 170.6L302.6 143L303.9 135.1L305.3 136.7L306.5 128.8L308.1 150.9L310 156.4L311.3 134.3L312.4 154L313.5 150.1L315.5 158.7L317.6 171.3L319.1 190.2L320.2 205.2L321.3 187.1L322.6 200.5L323.9 195L325.3 187.9L326.9 193.4L328.6 202.8L330.5 204.4L331.7 202.8L332.8 190.2L334.4 212.3L336 196.5L337.6 168.2L338.8 150.9L339.9 144.6L341.5 169.8L342.8 148.5L344.6 149.3L346.2 147.7L347.3 140.6L348.6 146.1L350.2 172.1L351.7 116.2L353 157.2L354.6 119.4L356 96.5L357.2 114.6L358.5 147.7L360.1 172.9L360.7 187.9L362 177.6L363.5 213.1L365.1 196.5L367.2 193.4L369.1 187.1L371.1 205.2L372.2 201.3L373.8 207.6L375.4 199.7L376.6 193.4L378.2 201.3L379.3 195L380.9 171.3L382.1 139.8L383.7 135.1L385.3 160.3L386.9 158L388.3 164.3L389.5 136.7L391.1 119.4L392.4 134.3L394.3 140.6L395.8 169.8L397.1 154L398.2 134.3L399.8 141.4L401.3 147.7L402.9 155.6L404.2 187.9L405.4 174.5L407.3 206L408.9 195.7L410.5 196.5L411.6 192.6L412.8 177.6L414.3 198.1L415.8 206.8L417.1 189.4L418.3 196.5L419.9 180.8L421.8 211.5L423.4 190.2L424.6 171.3L426 160.3" stroke="#afd8f8" stroke-width="2"/>
<path d="M78 308L426 308" transform="translate(0.43,2.46)" stroke="#000" stroke-opacity="0.1" stroke-width="3"/>
<path d="M78 308L426 308" transform="translate(0.3,1.72)" stroke="#000" stroke-opacity="0.1" stroke-width="1.5"/>
<path d="M78 308L426 308" stroke="#cb4b4b" stroke-width="2"/>
<path d="M78 254L79.5 254.2L80.9 258.9L82.4 259.1L83.8 261.7L85.3 253.9L86.7 251.2L88.2 259.3L89.6 261.7L91.1 261.5L92.6 254.7L94 253.1L95.5 257.4L96.9 260.8L98.4 257.9L99.8 255.4L101.3 252.8L102.8 258.3L104.2 261.2L105.7 261.9L107.1 253.8L108.6 252L110 260.6L111.5 262.7L112.9 260.3L114.4 255.2L115.9 253.8L117.3 258.9L118.8 255.5L120.2 270.1L121.7 268.2L123.1 262.3L124.6 248.5L126.1 253.4L127.5 266.3L129 256.1L130.4 251.7L131.9 253.5L133.3 262.6L134.8 260.3L136.2 253.1L137.7 252.9L139.2 258.7L140.6 257.7L142.1 258L143.5 255.2L145 252.8L146.4 259.7L147.9 259.6L149.3 259.2L150.8 256.6L152.3 248.5L153.7 259.9L155.2 258L156.6 260L158.1 257L159.5 253.1L161 258.2L162.5 261.2L163.9 261L165.4 258.1L166.8 250.6L168.3 259.2L169.7 258.4L171.2 261.7L172.6 242.8L174.1 255.6L175.6 249.4L177 249.7L178.5 262.3L179.9 247.5L181.4 257.1L182.8 260L184.3 260.9L185.7 261.3L187.2 257.7L188.7 251.4L190.1 259.3L191.6 262.7L193 262.9L194.5 257L195.9 255L197.4 259.8L198.9 264.5L200.3 260.9L201.8 254.5L203.2 251.6L204.7 263L206.1 262.9L207.6 257.7L209 257.3L210.5 251.6L212 258.8L213.4 262L214.9 256.8L216.3 256.3L217.8 251.5L219.2 258.1L220.7 261.9L222.2 256.1L223.6 258.2L225.1 251.8L226.5 259.3L228 259.2L229.4 261.8L230.9 254.8L232.3 249.6L233.8 258.1L235.3 263.1L236.7 260.3L238.2 254.7L239.6 249.1L241.1 256.8L242.5 260.6L244 264.5L245.4 256.4L246.9 249.5L248.4 257.3L249.8 261.3L251.3 260.2L252.7 255.1L254.2 249.6L255.6 257L257.1 259.8L258.6 259L260 259.7L261.5 250.7L262.9 256L264.4 260.3L265.8 259.4L267.3 255.5L268.7 247.4L270.2 258.4L271.7 262.4L273.1 264L274.6 254.6L276 250.7L277.5 257.2L278.9 261.5L280.4 261.6L281.8 261.4L283.3 248.9L284.8 255L286.2 263L287.7 261.3L289.1 260.2L290.6 249.8L292 259.5L293.5 262.5L295 259.4L296.4 256.2L297.9 251.5L299.3 257.2L300.8 259L302.2 258.5L303.7 258.2L305.1 247.3L306.6 261.4L308.1 264.7L309.5 259.9L311 256.5L312.4 249.2L313.9 260.5L315.3 260.9L316.8 260.7L318.3 254.7L319.7 249.6L321.2 261.8L322.6 260.7L324.1 257.8L325.5 257.4L327 247.8L328.4 257.8L329.9 262.6L331.4 260L332.8 256.5L334.3 247.4L335.7 258.4L337.2 260.1L338.6 258.7L340.1 257.5L341.5 256.5L343 256.5L344.5 258L345.9 260L347.4 257.8L348.8 254.4L350.3 256.8L351.7 259.3L353.2 260.8L354.7 258.9L356.1 253L357.6 257.6L359 260L360.5 259.2L361.9 258.1L363.4 256.6L364.8 256.4L366.3 259.1L367.8 261.3L369.2 257.3L370.7 255.6L372.1 255.8L373.6 259.7L375 259.2L376.5 257.5L377.9 253.8L379.4 258.1L380.9 260.9L382.3 259.6L383.8 259.1L385.2 254.5L386.7 254.8L388.1 261.2L389.6 261L391.1 257.5L392.5 253.4L394 259.1L395.4 258.3L396.9 261.7L398.3 256.5L399.8 255L401.2 256.3L402.7 248.2L404.2 242.7L405.6 246.6L407.1 251.5L408.5 250.6L410 248L411.4 251.5L412.9 254.9L414.4 258.1L415.8 257.5L417.3 254L418.7 257.5L420.2 258.4L421.6 255.3L423.1 258.2L424.5 256L426 251.8" transform="translate(0.43,2.46)" stroke="#000" stroke-opacity="0.1" stroke-width="3"/>
<path d="M78 254L79.5 254.2L80.9 258.9L82.4 259.1L83.8 261.7L85.3 253.9L86.7 251.2L88.2 259.3L89.6 261.7L91.1 261.5L92.6 254.7L94 253.1L95.5 257.4L96.9 260.8L98.4 257.9L99.8 255.4L101.3 252.8L102.8 258.3L104.2 261.2L105.7 261.9L107.1 253.8L108.6 252L110 260.6L111.5 262.7L112.9 260.3L114.4 255.2L115.9 253.8L117.3 258.9L118.8 255.5L120.2 270.1L121.7 268.2L123.1 262.3L124.6 248.5L126.1 253.4L127.5 266.3L129 256.1L130.4 251.7L131.9 253.5L133.3 262.6L134.8 260.3L136.2 253.1L137.7 252.9L139.2 258.7L140.6 257.7L142.1 258L143.5 255.2L145 252.8L146.4 259.7L147.9 259.6L149.3 259.2L150.8 256.6L152.3 248.5L153.7 259.9L155.2 258L156.6 260L158.1 257L159.5 253.1L161 258.2L162.5 261.2L163.9 261L165.4 258.1L166.8 250.6L168.3 259.2L169.7 258.4L171.2 261.7L172.6 242.8L174.1 255.6L175.6 249.4L177 249.7L178.5 262.3L179.9 247.5L181.4 257.1L182.8 260L184.3 260.9L185.7 261.3L187.2 257.7L188.7 251.4L190.1 259.3L191.6 262.7L193 262.9L194.5 257L195.9 255L197.4 259.8L198.9 264.5L200.3 260.9L201.8 254.5L203.2 251.6L204.7 263L206.1 262.9L207.6 257.7L209 257.3L210.5 251.6L212 258.8L213.4 262L214.9 256.8L216.3 256.3L217.8 251.5L219.2 258.1L220.7 261.9L222.2 256.1L223.6 258.2L225.1 251.8L226.5 259.3L228 259.2L229.4 261.8L230.9 254.8L232.3 249.6L233.8 258.1L235.3 263.1L236.7 260.3L238.2 254.7L239.6 249.1L241.1 256.8L242.5 260.6L244 264.5L245.4 256.4L246.9 249.5L248.4 257.3L249.8 261.3L251.3 260.2L252.7 255.1L254.2 249.6L255.6 257L257.1 259.8L258.6 259L260 259.7L261.5 250.7L262.9 256L264.4 260.3L265.8 259.4L267.3 255.5L268.7 247.4L270.2 258.4L271.7 262.4L273.1 264L274.6 254.6L276 250.7L277.5 257.2L278.9 261.5L280.4 261.6L281.8 261.4L283.3 248.9L284.8 255L286.2 263L287.7 261.3L289.1 260.2L290.6 249.8L292 259.5L293.5 262.5L295 259.4L296.4 256.2L297.9 251.5L299.3 257.2L300.8 259L302.2 258.5L303.7 258.2L305.1 247.3L306.6 261.4L308.1 264.7L309.5 259.9L311 256.5L312.4 249.2L313.9 260.5L315.3 260.9L316.8 260.7L318.3 254.7L319.7 249.6L321.2 261.8L322.6 260.7L324.1 257.8L325.5 257.4L327 247.8L328.4 257.8L329.9 262.6L331.4 260L332.8 256.5L334.3 247.4L335.7 258.4L337.2 260.1L338.6 258.7L340.1 257.5L341.5 256.5L343 256.5L344.5 258L345.9 260L347.4 257.8L348.8 254.4L350.3 256.8L351.7 259.3L353.2 260.8L354.7 258.9L356.1 253L357.6 257.6L359 260L360.5 259.2L361.9 258.1L363.4 256.6L364.8 256.4L366.3 259.1L367.8 261.3L369.2 257.3L370.7 255.6L372.1 255.8L373.6 259.7L375 259.2L376.5 257.5L377.9 253.8L379.4 258.1L380.9 260.9L382.3 259.6L383.8 259.1L385.2 254.5L386.7 254.8L388.1 261.2L389.6 261L391.1 257.5L392.5 253.4L394 259.1L395.4 258.3L396.9 261.7L398.3 256.5L399.8 255L401.2 256.3L402.7 248.2L404.2 242.7L405.6 246.6L407.1 251.5L408.5 250.6L410 248L411.4 251.5L412.9 254.9L414.4 258.1L415.8 257.5L417.3 254L418.7 257.5L420.2 258.4L421.6 255.3L423.1 258.2L424.5 256L426 251.8" transform="translate(0.3,1.72)" stroke="#000" stroke-opacity="0.1" stroke-width="1.5"/>
<path d="M78 254L79.5 254.2L80.9 258.9L82.4 259.1L83.8 261.7L85.3 253.9L86.7 251.2L88.2 259.3L89.6 261.7L91.1 261.5L92.6 254.7L94 253.1L95.5 257.4L96.9 260.8L98.4 257.9L99.8 255.4L101.3 252.8L102.8 258.3L104.2 261.2L105.7 261.9L107.1 253.8L108.6 252L110 260.6L111.5 262.7L112.9 260.3L114.4 255.2L115.9 253.8L117.3 258.9L118.8 255.5L120.2 270.1L121.7 268.2L123.1 262.3L124.6 248.5L126.1 253.4L127.5 266.3L129 256.1L130.4 251.7L131.9 253.5L133.3 262.6L134.8 260.3L136.2 253.1L137.7 252.9L139.2 258.7L140.6 257.7L142.1 258L143.5 255.2L145 252.8L146.4 259.7L147.9 259.6L149.3 259.2L150.8 256.6L152.3 248.5L153.7 259.9L155.2 258L156.6 260L158.1 257L159.5 253.1L161 258.2L162.5 261.2L163.9 261L165.4 258.1L166.8 250.6L168.3 259.2L169.7 258.4L171.2 261.7L172.6 242.8L174.1 255.6L175.6 249.4L177 249.7L178.5 262.3L179.9 247.5L181.4 257.1L182.8 260L184.3 260.9L185.7 261.3L187.2 257.7L188.7 251.4L190.1 259.3L191.6 262.7L193 262.9L194.5 257L195.9 255L197.4 259.8L198.9 264.5L200.3 260.9L201.8 254.5L203.2 251.6L204.7 263L206.1 262.9L207.6 257.7L209 257.3L210.5 251.6L212 258.8L213.4 262L214.9 256.8L216.3 256.3L217.8 251.5L219.2 258.1L220.7 261.9L222.2 256.1L223.6 258.2L225.1 251.8L226.5 259.3L228 259.2L229.4 261.8L230.9 254.8L232.3 249.6L233.8 258.1L235.3 263.1L236.7 260.3L238.2 254.7L239.6 249.1L241.1 256.8L242.5 260.6L244 264.5L245.4 256.4L246.9 249.5L248.4 257.3L249.8 261.3L251.3 260.2L252.7 255.1L254.2 249.6L255.6 257L257.1 259.8L258.6 259L260 259.7L261.5 250.7L262.9 256L264.4 260.3L265.8 259.4L267.3 255.5L268.7 247.4L270.2 258.4L271.7 262.4L273.1 264L274.6 254.6L276 250.7L277.5 257.2L278.9 261.5L280.4 261.6L281.8 261.4L283.3 248.9L284.8 255L286.2 263L287.7 261.3L289.1 260.2L290.6 249.8L292 259.5L293.5 262.5L295 259.4L296.4 256.2L297.9 251.5L299.3 257.2L300.8 259L302.2 258.5L303.7 258.2L305.1 247.3L306.6 261.4L308.1 264.7L309.5 259.9L311 256.5L312.4 249.2L313.9 260.5L315.3 260.9L316.8 260.7L318.3 254.7L319.7 249.6L321.2 261.8L322.6 260.7L324.1 257.8L325.5 257.4L327 247.8L328.4 257.8L329.9 262.6L331.4 260L332.8 256.5L334.3 247.4L335.7 258.4L337.2 260.1L338.6 258.7L340.1 257.5L341.5 256.5L343 256.5L344.5 258L345.9 260L347.4 257.8L348.8 254.4L350.3 256.8L351.7 259.3L353.2 260.8L354.7 258.9L356.1 253L357.6 257.6L359 260L360.5 259.2L361.9 258.1L363.4 256.6L364.8 256.4L366.3 259.1L367.8 261.3L369.2 257.3L370.7 255.6L372.1 255.8L373.6 259.7L375 259.2L376.5 257.5L377.9 253.8L379.4 258.1L380.9 260.9L382.3 259.6L383.8 259.1L385.2 254.5L386.7 254.8L388.1 261.2L389.6 261L391.1 257.5L392.5 253.4L394 259.1L395.4 258.3L396.9 261.7L398.3 256.5L399.8 255L401.2 256.3L402.7 248.2L404.2 242.7L405.6 246.6L407.1 251.5L408.5 250.6L410 248L411.4 251.5L412.9 254.9L414.4 258.1L415.8 257.5L417.3 254L418.7 257.5L420.2 258.4L421.6 255.3L423.1 258.2L424.5 256L426 251.8" stroke="#4da74d" stroke-width="2"/>
</g>
<g class="tk">
<text x="64" y="314" text-anchor="end">0</text>
<text x="64" y="286" text-anchor="end">5</text>
<text x="64" y="259" text-anchor="end">10</text>
<text x="64" y="231" text-anchor="end">15</text>
<text x="64" y="204" text-anchor="end">20</text>
<text x="64" y="176" text-anchor="end">25</text>
<text x="64" y="149" text-anchor="end">30</text>
<text x="64" y="121" text-anchor="end">35</text>
<text x="64" y="94" text-anchor="end">40</text>
<text x="64" y="66" text-anchor="end">45</text>
<text x="132.7" y="334.6" text-anchor="middle" textLength="28.6" lengthAdjust="spacingAndGlyphs">4 AM</text>
<text x="219.7" y="334.6" text-anchor="middle" textLength="28.6" lengthAdjust="spacingAndGlyphs">5 AM</text>
<text x="307.7" y="334.6" text-anchor="middle" textLength="28.6" lengthAdjust="spacingAndGlyphs">6 AM</text>
<text x="394.7" y="334.6" text-anchor="middle" textLength="28.6" lengthAdjust="spacingAndGlyphs">7 AM</text>
</g>
</svg>
<div class="legend">
<div class="lr"><span class="sw"><i style="background:#edc240"></i></span><span class="ll" style="letter-spacing:0.107px">1-2 minutes old</span></div>
<div class="lr"><span class="sw"><i style="background:#afd8f8"></i></span><span class="ll" style="letter-spacing:0.107px">3-4 minutes old</span></div>
<div class="lr"><span class="sw"><i style="background:#cb4b4b"></i></span><span class="ll" style="letter-spacing:0.107px">5-6 minutes old</span></div>
<div class="lr"><span class="sw"><i style="background:#4da74d"></i></span><span class="ll" style="letter-spacing:0.113px">7+ minutes old</span></div>
</div>
</section>
<section class="panel" style="left:0px;top:474px">
<h2 style="letter-spacing:0.155px">CPU breakdown (ms/sec)</h2>
<svg class="plot" width="470" height="345" viewBox="0 0 470 345">
<g shape-rendering="crispEdges" fill="none">
<path d="M65 308.5 H426" stroke="#000" stroke-opacity="0.22"/>
<path d="M65 277.5 H426" stroke="#000" stroke-opacity="0.22"/>
<path d="M65 246.5 H426" stroke="#000" stroke-opacity="0.22"/>
<path d="M65 215.5 H426" stroke="#000" stroke-opacity="0.22"/>
<path d="M65 184.5 H426" stroke="#000" stroke-opacity="0.22"/>
<path d="M65 153.5 H426" stroke="#000" stroke-opacity="0.22"/>
<path d="M65 122.5 H426" stroke="#000" stroke-opacity="0.22"/>
<path d="M65 91.5 H426" stroke="#000" stroke-opacity="0.22"/>
<path d="M65 60.5 H426" stroke="#000" stroke-opacity="0.22"/>
<path d="M132.5 60 V321" stroke="#000" stroke-opacity="0.22"/>
<path d="M219.5 60 V321" stroke="#000" stroke-opacity="0.22"/>
<path d="M307.5 60 V321" stroke="#000" stroke-opacity="0.22"/>
<path d="M394.5 60 V321" stroke="#000" stroke-opacity="0.22"/>
<rect x="77.5" y="59.5" width="349" height="249" stroke="#000"/>
<path d="M73 300.5 H77" stroke="#000"/>
<path d="M69 293.5 H77" stroke="#000"/>
<path d="M73 285.5 H77" stroke="#000"/>
<path d="M73 269.5 H77" stroke="#000"/>
<path d="M69 262.5 H77" stroke="#000"/>
<path d="M73 254.5 H77" stroke="#000"/>
<path d="M73 238.5 H77" stroke="#000"/>
<path d="M69 231.5 H77" stroke="#000"/>
<path d="M73 223.5 H77" stroke="#000"/>
<path d="M73 207.5 H77" stroke="#000"/>
<path d="M69 200.5 H77" stroke="#000"/>
<path d="M73 192.5 H77" stroke="#000"/>
<path d="M73 176.5 H77" stroke="#000"/>
<path d="M69 169.5 H77" stroke="#000"/>
<path d="M73 161.5 H77" stroke="#000"/>
<path d="M73 145.5 H77" stroke="#000"/>
<path d="M69 138.5 H77" stroke="#000"/>
<path d="M73 130.5 H77" stroke="#000"/>
<path d="M73 114.5 H77" stroke="#000"/>
<path d="M69 107.5 H77" stroke="#000"/>
<path d="M73 99.5 H77" stroke="#000"/>
<path d="M73 83.5 H77" stroke="#000"/>
<path d="M69 76.5 H77" stroke="#000"/>
<path d="M73 68.5 H77" stroke="#000"/>
<path d="M88.5 309 V317" stroke="#000"/>
<path d="M103.5 309 V313" stroke="#000"/>
<path d="M117.5 309 V313" stroke="#000"/>
<path d="M146.5 309 V313" stroke="#000"/>
<path d="M161.5 309 V313" stroke="#000"/>
<path d="M175.5 309 V317" stroke="#000"/>
<path d="M190.5 309 V313" stroke="#000"/>
<path d="M205.5 309 V313" stroke="#000"/>
<path d="M234.5 309 V313" stroke="#000"/>
<path d="M248.5 309 V313" stroke="#000"/>
<path d="M263.5 309 V317" stroke="#000"/>
<path d="M278.5 309 V313" stroke="#000"/>
<path d="M292.5 309 V313" stroke="#000"/>
<path d="M321.5 309 V313" stroke="#000"/>
<path d="M336.5 309 V313" stroke="#000"/>
<path d="M351.5 309 V317" stroke="#000"/>
<path d="M365.5 309 V313" stroke="#000"/>
<path d="M380.5 309 V313" stroke="#000"/>
<path d="M409.5 309 V313" stroke="#000"/>
<path d="M424.5 309 V313" stroke="#000"/>
</g>
<g fill="none" stroke-linejoin="round" stroke-linecap="butt">
<path d="M78 286.5L79.2 288.4L80.6 258L82.1 233.7L83.6 258L85 288.4L86.5 284.8L87.9 236.3L89.4 197.5L90.8 236.3L92.3 284.8L93.8 288.9L95.2 261.1L96.7 238.8L98.1 261.1L99.6 288.9L101 288.3L102.5 257.1L104 232.1L105.4 257.1L106.9 288.3L108.3 288.9L109.8 260.9L111.2 238.4L112.7 260.9L114.2 288.9L115.6 286.3L117.1 245.6L118.5 212.9L120 245.6L121.5 286.3L122.9 287.2L124.4 250.5L125.8 221.1L127.3 250.5L128.7 287.2L130.2 286.8L131.7 248.6L133.1 218L134.6 248.6L136 286.8L137.5 287.2L138.9 250.9L140.4 221.9L141.9 250.9L143.3 287.2L144.8 286.5L146.2 246.5L147.7 214.5L149.1 246.5L150.6 286.5L152.1 289L153.5 261.3L155 239.2L156.4 261.3L157.9 289L159.3 287.9L160.8 254.7L162.3 228.2L163.7 254.7L165.2 287.9L166.6 287.6L168.1 253.1L169.5 225.5L171 253.1L172.5 287.6L173.9 286.3L175.4 245.3L176.8 212.5L178.3 245.3L179.8 286.3L181.2 286.7L182.7 247.4L184.1 216.1L185.6 247.4L187 286.7L188.5 288.9L190 261.1L191.4 238.8L192.9 261.1L194.3 288.9L195.8 286.7L197.2 247.6L198.7 216.4L200.2 247.6L201.6 286.7L203.1 287.9L204.5 255.2L206 229L207.4 255.2L208.9 287.9L210.4 288.6L211.8 259.2L213.3 235.6L214.7 259.2L216.2 288.6L217.6 288L219.1 255.7L220.6 229.8L222 255.7L223.5 288L224.9 287.3L226.4 251.4L227.8 222.7L229.3 251.4L229.8 294.5L230.7 215.6L230.8 287.3L232 151L233.6 113.2L235 98.3L236.7 99.9L238.3 161.3L239.4 130.6L241 132.9L242.6 92.8L244.6 125.8L247 148.7L248.5 110.1L250 88L251.5 118L252.8 166.8L253.9 215.6L254.1 286.2L254.8 294.5L255.5 244.8L257 211.7L258.5 244.8L259.9 286.2L261.4 286.5L262.8 246.5L264.3 214.5L265.7 246.5L267.2 286.5L268.7 286.9L270.1 249.1L271.6 218.8L273 249.1L274.5 286.9L275.9 288.4L277.4 258L278.9 233.7L280.3 258L281.8 288.4L283.2 287L284.7 249.5L286.1 219.5L287.6 249.5L289.1 287L290.5 286.2L292 244.8L293.4 211.7L294.9 244.8L296.4 286.2L298.4 294.5L299.3 215.6L300 154.2L301.3 119.5L302.1 107.7L303.7 143.2L305.1 132.9L306.7 156.6L307.9 81L309.5 89.6L310.7 129L311.5 168.4L312.4 287.1L312.6 215.6L313.5 294.5L313.8 250.3L315.3 220.8L316.8 250.3L318.2 287.1L319.7 283.5L321.1 228.5L322.6 184.6L324 228.5L325.5 283.5L327 286.8L328.4 248.6L329.9 218L331.3 248.6L332.8 286.8L334.2 287.5L335.7 252.5L337.2 224.6L338.6 252.5L340.1 287.5L341.5 286.7L343 247.4L344.4 216.1L345.9 247.4L347.4 286.7L348.8 285.7L350.3 241.8L351.7 206.6L353.2 241.8L354.7 285.7L356.1 286.2L357.6 245L359 212L360.5 245L361.9 286.2L363.4 285.7L364.9 242L366.3 206.9L367.8 242L369.2 285.7L370.7 286.3L372.1 245.6L373.6 212.9L375.1 245.6L376.5 286.3L378 285.9L379.4 242.7L380.9 208.2L382.3 242.7L383.8 285.9L385.3 287.6L386.7 253.1L388.2 225.5L389.6 253.1L391.1 287.6L392.5 286.8L394 248.6L395.5 218L396.9 248.6L398.4 286.8L399.8 288.2L401.3 256.9L402.8 231.8L404.2 256.9L405.7 288.2L407.1 287.5L408.6 252.5L410 224.6L411.5 252.5L413 287.5L414.4 287.5L415.9 252.5L417.3 224.6L418.8 252.5L420.2 287.5L421.7 287.6L423.2 253.1L424.6 225.5L426 229L426 237.7L424.6 240L423.2 265.2L421.7 292.1L420.2 292.5L418.8 268.7L417.3 246.3L415.9 268.7L414.4 292.5L413 292L411.5 264.8L410 239.2L408.6 264.8L407.1 292L405.7 292.6L404.2 269.1L402.8 247.1L401.3 269.1L399.8 292.6L398.4 292L396.9 264.8L395.5 239.2L394 264.8L392.5 292L391.1 292.4L389.6 267.4L388.2 244L386.7 267.4L385.3 292.4L383.8 292L382.3 264.3L380.9 238.4L379.4 264.3L378 292L376.5 292.2L375.1 266.1L373.6 241.6L372.1 266.1L370.7 292.2L369.2 292.4L367.8 267.8L366.3 244.7L364.9 267.8L363.4 292.4L361.9 292.4L360.5 267.4L359 244L357.6 267.4L356.1 292.4L354.7 291.9L353.2 263.5L351.7 236.9L350.3 263.5L348.8 291.9L347.4 292.4L345.9 267.8L344.4 244.7L343 267.8L341.5 292.4L340.1 292.6L338.6 269.1L337.2 247.1L335.7 269.1L334.2 292.6L332.8 292.4L331.3 267.4L329.9 244L328.4 267.4L327 292.4L325.5 291.8L324 262.6L322.6 235.3L321.1 262.6L319.7 291.8L318.2 292.2L316.8 266.1L315.3 241.6L313.8 266.1L313.5 272.2L312.6 288.3L312.4 292.2L311.5 291.8L310.7 286.9L309.5 261.9L307.9 235.1L306.7 258.5L305.1 291.5L303.7 292.3L302.1 265.6L301.3 252.5L300 255L299.3 266.4L298.4 282L296.4 291.5L294.9 260.9L293.4 232.1L292 260.9L290.5 291.5L289.1 292.4L287.6 267.4L286.1 244L284.7 267.4L283.2 292.4L281.8 292.4L280.3 267.4L278.9 244L277.4 267.4L275.9 292.4L274.5 291.5L273 260.4L271.6 231.4L270.1 260.4L268.7 291.5L267.2 292.4L265.7 267.8L264.3 244.7L262.8 267.8L261.4 292.4L259.9 291.7L258.5 262.2L257 234.5L255.5 262.2L254.8 277.2L254.1 291.7L253.9 291.8L252.8 292.2L251.5 272.7L250 247.9L248.5 262.9L247 288.8L244.6 279.9L242.6 247.5L241 267.3L239.4 292.4L238.3 292.4L236.7 269.2L235 246.2L233.6 268.7L232 292.4L230.8 292.4L230.7 291.3L229.8 276.1L229.3 267.8L227.8 244.7L226.4 267.8L224.9 292.4L223.5 292.5L222 268.7L220.6 246.3L219.1 268.7L217.6 292.5L216.2 292.3L214.7 266.9L213.3 243.2L211.8 266.9L210.4 292.3L208.9 292.3L207.4 266.9L206 243.2L204.5 266.9L203.1 292.3L201.6 291.9L200.2 263.5L198.7 236.9L197.2 263.5L195.8 291.9L194.3 292.2L192.9 266.5L191.4 242.4L190 266.5L188.5 292.2L187 291.2L185.6 258.3L184.1 227.4L182.7 258.3L181.2 291.2L179.8 292L178.3 264.3L176.8 238.4L175.4 264.3L173.9 292L172.5 292.3L171 266.9L169.5 243.2L168.1 266.9L166.6 292.3L165.2 292.3L163.7 266.9L162.3 243.2L160.8 266.9L159.3 292.3L157.9 292.4L156.4 267.4L155 244L153.5 267.4L152.1 292.4L150.6 291.5L149.1 260.9L147.7 232.1L146.2 260.9L144.8 291.5L143.3 291.9L141.9 263.5L140.4 236.9L138.9 263.5L137.5 291.9L136 292.3L134.6 266.9L133.1 243.2L131.7 266.9L130.2 292.3L128.7 292.3L127.3 266.9L125.8 243.2L124.4 266.9L122.9 292.3L121.5 291.6L120 261.7L118.5 233.7L117.1 261.7L115.6 291.6L114.2 292.3L112.7 266.9L111.2 243.2L109.8 266.9L108.3 292.3L106.9 292.4L105.4 267.4L104 244L102.5 267.4L101 292.4L99.6 292.4L98.1 267.4L96.7 244L95.2 267.4L93.8 292.4L92.3 292.5L90.8 268.2L89.4 245.5L87.9 268.2L86.5 292.5L85 292L83.6 264.3L82.1 238.4L80.6 264.3L79.2 292L78 290Z" fill="#edc240" fill-opacity="0.4" stroke="none"/>
<path d="M78 286.5L79.2 288.4L80.6 258L82.1 233.7L83.6 258L85 288.4L86.5 284.8L87.9 236.3L89.4 197.5L90.8 236.3L92.3 284.8L93.8 288.9L95.2 261.1L96.7 238.8L98.1 261.1L99.6 288.9L101 288.3L102.5 257.1L104 232.1L105.4 257.1L106.9 288.3L108.3 288.9L109.8 260.9L111.2 238.4L112.7 260.9L114.2 288.9L115.6 286.3L117.1 245.6L118.5 212.9L120 245.6L121.5 286.3L122.9 287.2L124.4 250.5L125.8 221.1L127.3 250.5L128.7 287.2L130.2 286.8L131.7 248.6L133.1 218L134.6 248.6L136 286.8L137.5 287.2L138.9 250.9L140.4 221.9L141.9 250.9L143.3 287.2L144.8 286.5L146.2 246.5L147.7 214.5L149.1 246.5L150.6 286.5L152.1 289L153.5 261.3L155 239.2L156.4 261.3L157.9 289L159.3 287.9L160.8 254.7L162.3 228.2L163.7 254.7L165.2 287.9L166.6 287.6L168.1 253.1L169.5 225.5L171 253.1L172.5 287.6L173.9 286.3L175.4 245.3L176.8 212.5L178.3 245.3L179.8 286.3L181.2 286.7L182.7 247.4L184.1 216.1L185.6 247.4L187 286.7L188.5 288.9L190 261.1L191.4 238.8L192.9 261.1L194.3 288.9L195.8 286.7L197.2 247.6L198.7 216.4L200.2 247.6L201.6 286.7L203.1 287.9L204.5 255.2L206 229L207.4 255.2L208.9 287.9L210.4 288.6L211.8 259.2L213.3 235.6L214.7 259.2L216.2 288.6L217.6 288L219.1 255.7L220.6 229.8L222 255.7L223.5 288L224.9 287.3L226.4 251.4L227.8 222.7L229.3 251.4L229.8 294.5L230.7 215.6L230.8 287.3L232 151L233.6 113.2L235 98.3L236.7 99.9L238.3 161.3L239.4 130.6L241 132.9L242.6 92.8L244.6 125.8L247 148.7L248.5 110.1L250 88L251.5 118L252.8 166.8L253.9 215.6L254.1 286.2L254.8 294.5L255.5 244.8L257 211.7L258.5 244.8L259.9 286.2L261.4 286.5L262.8 246.5L264.3 214.5L265.7 246.5L267.2 286.5L268.7 286.9L270.1 249.1L271.6 218.8L273 249.1L274.5 286.9L275.9 288.4L277.4 258L278.9 233.7L280.3 258L281.8 288.4L283.2 287L284.7 249.5L286.1 219.5L287.6 249.5L289.1 287L290.5 286.2L292 244.8L293.4 211.7L294.9 244.8L296.4 286.2L298.4 294.5L299.3 215.6L300 154.2L301.3 119.5L302.1 107.7L303.7 143.2L305.1 132.9L306.7 156.6L307.9 81L309.5 89.6L310.7 129L311.5 168.4L312.4 287.1L312.6 215.6L313.5 294.5L313.8 250.3L315.3 220.8L316.8 250.3L318.2 287.1L319.7 283.5L321.1 228.5L322.6 184.6L324 228.5L325.5 283.5L327 286.8L328.4 248.6L329.9 218L331.3 248.6L332.8 286.8L334.2 287.5L335.7 252.5L337.2 224.6L338.6 252.5L340.1 287.5L341.5 286.7L343 247.4L344.4 216.1L345.9 247.4L347.4 286.7L348.8 285.7L350.3 241.8L351.7 206.6L353.2 241.8L354.7 285.7L356.1 286.2L357.6 245L359 212L360.5 245L361.9 286.2L363.4 285.7L364.9 242L366.3 206.9L367.8 242L369.2 285.7L370.7 286.3L372.1 245.6L373.6 212.9L375.1 245.6L376.5 286.3L378 285.9L379.4 242.7L380.9 208.2L382.3 242.7L383.8 285.9L385.3 287.6L386.7 253.1L388.2 225.5L389.6 253.1L391.1 287.6L392.5 286.8L394 248.6L395.5 218L396.9 248.6L398.4 286.8L399.8 288.2L401.3 256.9L402.8 231.8L404.2 256.9L405.7 288.2L407.1 287.5L408.6 252.5L410 224.6L411.5 252.5L413 287.5L414.4 287.5L415.9 252.5L417.3 224.6L418.8 252.5L420.2 287.5L421.7 287.6L423.2 253.1L424.6 225.5L426 229" transform="translate(0.43,2.46)" stroke="#000" stroke-opacity="0.1" stroke-width="3"/>
<path d="M78 286.5L79.2 288.4L80.6 258L82.1 233.7L83.6 258L85 288.4L86.5 284.8L87.9 236.3L89.4 197.5L90.8 236.3L92.3 284.8L93.8 288.9L95.2 261.1L96.7 238.8L98.1 261.1L99.6 288.9L101 288.3L102.5 257.1L104 232.1L105.4 257.1L106.9 288.3L108.3 288.9L109.8 260.9L111.2 238.4L112.7 260.9L114.2 288.9L115.6 286.3L117.1 245.6L118.5 212.9L120 245.6L121.5 286.3L122.9 287.2L124.4 250.5L125.8 221.1L127.3 250.5L128.7 287.2L130.2 286.8L131.7 248.6L133.1 218L134.6 248.6L136 286.8L137.5 287.2L138.9 250.9L140.4 221.9L141.9 250.9L143.3 287.2L144.8 286.5L146.2 246.5L147.7 214.5L149.1 246.5L150.6 286.5L152.1 289L153.5 261.3L155 239.2L156.4 261.3L157.9 289L159.3 287.9L160.8 254.7L162.3 228.2L163.7 254.7L165.2 287.9L166.6 287.6L168.1 253.1L169.5 225.5L171 253.1L172.5 287.6L173.9 286.3L175.4 245.3L176.8 212.5L178.3 245.3L179.8 286.3L181.2 286.7L182.7 247.4L184.1 216.1L185.6 247.4L187 286.7L188.5 288.9L190 261.1L191.4 238.8L192.9 261.1L194.3 288.9L195.8 286.7L197.2 247.6L198.7 216.4L200.2 247.6L201.6 286.7L203.1 287.9L204.5 255.2L206 229L207.4 255.2L208.9 287.9L210.4 288.6L211.8 259.2L213.3 235.6L214.7 259.2L216.2 288.6L217.6 288L219.1 255.7L220.6 229.8L222 255.7L223.5 288L224.9 287.3L226.4 251.4L227.8 222.7L229.3 251.4L229.8 294.5L230.7 215.6L230.8 287.3L232 151L233.6 113.2L235 98.3L236.7 99.9L238.3 161.3L239.4 130.6L241 132.9L242.6 92.8L244.6 125.8L247 148.7L248.5 110.1L250 88L251.5 118L252.8 166.8L253.9 215.6L254.1 286.2L254.8 294.5L255.5 244.8L257 211.7L258.5 244.8L259.9 286.2L261.4 286.5L262.8 246.5L264.3 214.5L265.7 246.5L267.2 286.5L268.7 286.9L270.1 249.1L271.6 218.8L273 249.1L274.5 286.9L275.9 288.4L277.4 258L278.9 233.7L280.3 258L281.8 288.4L283.2 287L284.7 249.5L286.1 219.5L287.6 249.5L289.1 287L290.5 286.2L292 244.8L293.4 211.7L294.9 244.8L296.4 286.2L298.4 294.5L299.3 215.6L300 154.2L301.3 119.5L302.1 107.7L303.7 143.2L305.1 132.9L306.7 156.6L307.9 81L309.5 89.6L310.7 129L311.5 168.4L312.4 287.1L312.6 215.6L313.5 294.5L313.8 250.3L315.3 220.8L316.8 250.3L318.2 287.1L319.7 283.5L321.1 228.5L322.6 184.6L324 228.5L325.5 283.5L327 286.8L328.4 248.6L329.9 218L331.3 248.6L332.8 286.8L334.2 287.5L335.7 252.5L337.2 224.6L338.6 252.5L340.1 287.5L341.5 286.7L343 247.4L344.4 216.1L345.9 247.4L347.4 286.7L348.8 285.7L350.3 241.8L351.7 206.6L353.2 241.8L354.7 285.7L356.1 286.2L357.6 245L359 212L360.5 245L361.9 286.2L363.4 285.7L364.9 242L366.3 206.9L367.8 242L369.2 285.7L370.7 286.3L372.1 245.6L373.6 212.9L375.1 245.6L376.5 286.3L378 285.9L379.4 242.7L380.9 208.2L382.3 242.7L383.8 285.9L385.3 287.6L386.7 253.1L388.2 225.5L389.6 253.1L391.1 287.6L392.5 286.8L394 248.6L395.5 218L396.9 248.6L398.4 286.8L399.8 288.2L401.3 256.9L402.8 231.8L404.2 256.9L405.7 288.2L407.1 287.5L408.6 252.5L410 224.6L411.5 252.5L413 287.5L414.4 287.5L415.9 252.5L417.3 224.6L418.8 252.5L420.2 287.5L421.7 287.6L423.2 253.1L424.6 225.5L426 229" transform="translate(0.3,1.72)" stroke="#000" stroke-opacity="0.1" stroke-width="1.5"/>
<path d="M78 286.5L79.2 288.4L80.6 258L82.1 233.7L83.6 258L85 288.4L86.5 284.8L87.9 236.3L89.4 197.5L90.8 236.3L92.3 284.8L93.8 288.9L95.2 261.1L96.7 238.8L98.1 261.1L99.6 288.9L101 288.3L102.5 257.1L104 232.1L105.4 257.1L106.9 288.3L108.3 288.9L109.8 260.9L111.2 238.4L112.7 260.9L114.2 288.9L115.6 286.3L117.1 245.6L118.5 212.9L120 245.6L121.5 286.3L122.9 287.2L124.4 250.5L125.8 221.1L127.3 250.5L128.7 287.2L130.2 286.8L131.7 248.6L133.1 218L134.6 248.6L136 286.8L137.5 287.2L138.9 250.9L140.4 221.9L141.9 250.9L143.3 287.2L144.8 286.5L146.2 246.5L147.7 214.5L149.1 246.5L150.6 286.5L152.1 289L153.5 261.3L155 239.2L156.4 261.3L157.9 289L159.3 287.9L160.8 254.7L162.3 228.2L163.7 254.7L165.2 287.9L166.6 287.6L168.1 253.1L169.5 225.5L171 253.1L172.5 287.6L173.9 286.3L175.4 245.3L176.8 212.5L178.3 245.3L179.8 286.3L181.2 286.7L182.7 247.4L184.1 216.1L185.6 247.4L187 286.7L188.5 288.9L190 261.1L191.4 238.8L192.9 261.1L194.3 288.9L195.8 286.7L197.2 247.6L198.7 216.4L200.2 247.6L201.6 286.7L203.1 287.9L204.5 255.2L206 229L207.4 255.2L208.9 287.9L210.4 288.6L211.8 259.2L213.3 235.6L214.7 259.2L216.2 288.6L217.6 288L219.1 255.7L220.6 229.8L222 255.7L223.5 288L224.9 287.3L226.4 251.4L227.8 222.7L229.3 251.4L229.8 294.5L230.7 215.6L230.8 287.3L232 151L233.6 113.2L235 98.3L236.7 99.9L238.3 161.3L239.4 130.6L241 132.9L242.6 92.8L244.6 125.8L247 148.7L248.5 110.1L250 88L251.5 118L252.8 166.8L253.9 215.6L254.1 286.2L254.8 294.5L255.5 244.8L257 211.7L258.5 244.8L259.9 286.2L261.4 286.5L262.8 246.5L264.3 214.5L265.7 246.5L267.2 286.5L268.7 286.9L270.1 249.1L271.6 218.8L273 249.1L274.5 286.9L275.9 288.4L277.4 258L278.9 233.7L280.3 258L281.8 288.4L283.2 287L284.7 249.5L286.1 219.5L287.6 249.5L289.1 287L290.5 286.2L292 244.8L293.4 211.7L294.9 244.8L296.4 286.2L298.4 294.5L299.3 215.6L300 154.2L301.3 119.5L302.1 107.7L303.7 143.2L305.1 132.9L306.7 156.6L307.9 81L309.5 89.6L310.7 129L311.5 168.4L312.4 287.1L312.6 215.6L313.5 294.5L313.8 250.3L315.3 220.8L316.8 250.3L318.2 287.1L319.7 283.5L321.1 228.5L322.6 184.6L324 228.5L325.5 283.5L327 286.8L328.4 248.6L329.9 218L331.3 248.6L332.8 286.8L334.2 287.5L335.7 252.5L337.2 224.6L338.6 252.5L340.1 287.5L341.5 286.7L343 247.4L344.4 216.1L345.9 247.4L347.4 286.7L348.8 285.7L350.3 241.8L351.7 206.6L353.2 241.8L354.7 285.7L356.1 286.2L357.6 245L359 212L360.5 245L361.9 286.2L363.4 285.7L364.9 242L366.3 206.9L367.8 242L369.2 285.7L370.7 286.3L372.1 245.6L373.6 212.9L375.1 245.6L376.5 286.3L378 285.9L379.4 242.7L380.9 208.2L382.3 242.7L383.8 285.9L385.3 287.6L386.7 253.1L388.2 225.5L389.6 253.1L391.1 287.6L392.5 286.8L394 248.6L395.5 218L396.9 248.6L398.4 286.8L399.8 288.2L401.3 256.9L402.8 231.8L404.2 256.9L405.7 288.2L407.1 287.5L408.6 252.5L410 224.6L411.5 252.5L413 287.5L414.4 287.5L415.9 252.5L417.3 224.6L418.8 252.5L420.2 287.5L421.7 287.6L423.2 253.1L424.6 225.5L426 229" stroke="#edc240" stroke-width="2"/>
<path d="M78 290L79.2 292L80.6 264.3L82.1 238.4L83.6 264.3L85 292L86.5 292.5L87.9 268.2L89.4 245.5L90.8 268.2L92.3 292.5L93.8 292.4L95.2 267.4L96.7 244L98.1 267.4L99.6 292.4L101 292.4L102.5 267.4L104 244L105.4 267.4L106.9 292.4L108.3 292.3L109.8 266.9L111.2 243.2L112.7 266.9L114.2 292.3L115.6 291.6L117.1 261.7L118.5 233.7L120 261.7L121.5 291.6L122.9 292.3L124.4 266.9L125.8 243.2L127.3 266.9L128.7 292.3L130.2 292.3L131.7 266.9L133.1 243.2L134.6 266.9L136 292.3L137.5 291.9L138.9 263.5L140.4 236.9L141.9 263.5L143.3 291.9L144.8 291.5L146.2 260.9L147.7 232.1L149.1 260.9L150.6 291.5L152.1 292.4L153.5 267.4L155 244L156.4 267.4L157.9 292.4L159.3 292.3L160.8 266.9L162.3 243.2L163.7 266.9L165.2 292.3L166.6 292.3L168.1 266.9L169.5 243.2L171 266.9L172.5 292.3L173.9 292L175.4 264.3L176.8 238.4L178.3 264.3L179.8 292L181.2 291.2L182.7 258.3L184.1 227.4L185.6 258.3L187 291.2L188.5 292.2L190 266.5L191.4 242.4L192.9 266.5L194.3 292.2L195.8 291.9L197.2 263.5L198.7 236.9L200.2 263.5L201.6 291.9L203.1 292.3L204.5 266.9L206 243.2L207.4 266.9L208.9 292.3L210.4 292.3L211.8 266.9L213.3 243.2L214.7 266.9L216.2 292.3L217.6 292.5L219.1 268.7L220.6 246.3L222 268.7L223.5 292.5L224.9 292.4L226.4 267.8L227.8 244.7L229.3 267.8L230.8 292.4L232.2 292.4L233.7 267.4L235.1 244L236.6 267.4L238.1 292.4L239.5 292.4L241 267.8L242.4 244.7L243.9 267.8L245.3 292.4L246.8 292.3L248.3 266.9L249.7 243.2L251.2 266.9L252.6 292.3L254.1 291.7L255.5 262.2L257 234.5L258.5 262.2L259.9 291.7L261.4 292.4L262.8 267.8L264.3 244.7L265.7 267.8L267.2 292.4L268.7 291.5L270.1 260.4L271.6 231.4L273 260.4L274.5 291.5L275.9 292.4L277.4 267.4L278.9 244L280.3 267.4L281.8 292.4L283.2 292.4L284.7 267.4L286.1 244L287.6 267.4L289.1 292.4L290.5 291.5L292 260.9L293.4 232.1L294.9 260.9L296.4 291.5L297.8 292.3L299.3 266.9L300.7 243.2L302.2 266.9L303.6 292.3L305.1 291.6L306.6 261.3L308 232.9L309.5 261.3L310.9 291.6L312.4 292.2L313.8 266.1L315.3 241.6L316.8 266.1L318.2 292.2L319.7 291.8L321.1 262.6L322.6 235.3L324 262.6L325.5 291.8L327 292.4L328.4 267.4L329.9 244L331.3 267.4L332.8 292.4L334.2 292.6L335.7 269.1L337.2 247.1L338.6 269.1L340.1 292.6L341.5 292.4L343 267.8L344.4 244.7L345.9 267.8L347.4 292.4L348.8 291.9L350.3 263.5L351.7 236.9L353.2 263.5L354.7 291.9L356.1 292.4L357.6 267.4L359 244L360.5 267.4L361.9 292.4L363.4 292.4L364.9 267.8L366.3 244.7L367.8 267.8L369.2 292.4L370.7 292.2L372.1 266.1L373.6 241.6L375.1 266.1L376.5 292.2L378 292L379.4 264.3L380.9 238.4L382.3 264.3L383.8 292L385.3 292.4L386.7 267.4L388.2 244L389.6 267.4L391.1 292.4L392.5 292L394 264.8L395.5 239.2L396.9 264.8L398.4 292L399.8 292.6L401.3 269.1L402.8 247.1L404.2 269.1L405.7 292.6L407.1 292L408.6 264.8L410 239.2L411.5 264.8L413 292L414.4 292.5L415.9 268.7L417.3 246.3L418.8 268.7L420.2 292.5L421.7 292.1L423.2 265.2L424.6 240L426 237.7L426 290.2L424.6 293.1L423.2 297.5L421.7 293.6L420.2 293.1L418.8 291.7L417.3 293.5L415.9 298.3L414.4 298L413 297.5L411.5 289.6L410 288.7L408.6 294.6L407.1 298.1L405.7 297.8L404.2 290.9L402.8 292.8L401.3 298.6L399.8 297.3L398.4 288.1L396.9 281.6L395.5 292.6L394 297.9L392.5 298.4L391.1 297.2L389.6 291.9L388.2 293.3L386.7 293.8L385.3 294L383.8 296.7L382.3 290.3L380.9 293L379.4 298.1L378 297.9L376.5 296.9L375.1 287L373.6 289.5L372.1 297.4L370.7 298.1L369.2 297.5L367.8 291.6L366.3 293.4L364.9 298.1L363.4 294L361.9 292.8L360.5 289.5L359 293.1L357.6 298.5L356.1 298.5L354.7 297.1L353.2 289.1L351.7 283.7L350.3 288.5L348.8 296.1L347.4 297.6L345.9 290.4L344.4 293.3L343 297.9L341.5 298.1L340.1 293.9L338.6 287.8L337.2 292.7L335.7 298.5L334.2 298.5L332.8 297.1L331.3 289.6L329.9 291.6L328.4 294.3L327 293.8L325.5 295.9L324 290L322.6 292.9L321.1 298.3L319.7 298.1L318.2 296.9L316.8 287.1L315.3 288.7L313.8 297.5L312.4 297.9L310.9 297.1L309.5 291.3L308 293.7L306.6 297.5L305.1 289.8L303.6 286.9L302.2 287.4L300.7 293L299.3 298.3L297.8 298.4L296.4 297.1L294.9 291L293.4 289.8L292 293.7L290.5 297.3L289.1 297.2L287.6 292.6L286.1 294.2L284.7 298.3L283.2 297.6L281.8 293.7L280.3 287.2L278.9 292.9L277.4 298.2L275.9 298.5L274.5 297.1L273 290.8L271.6 292.6L270.1 294.5L268.7 293.5L267.2 296.2L265.7 291.6L264.3 294.2L262.8 298.2L261.4 298.3L259.9 296.1L258.5 282L257 282.2L255.5 295.7L254.1 298.4L252.6 296.8L251.2 291.5L249.7 293.9L248.3 297.5L246.8 294.4L245.3 292.3L243.9 289L242.4 292.9L241 298.2L239.5 298.5L238.1 297.3L236.6 292.3L235.1 290.4L233.7 293.5L232.2 297.4L230.8 296.8L229.3 290.3L227.8 293.2L226.4 298L224.9 297.8L223.5 293.8L222 286.6L220.6 292.5L219.1 298.3L217.6 298.1L216.2 296.8L214.7 290.8L213.3 293.2L211.8 290.7L210.4 287.4L208.9 294.3L207.4 289.3L206 292.1L204.5 298.2L203.1 298.4L201.6 297.1L200.2 286.5L198.7 288L197.2 296.8L195.8 298.1L194.3 297.2L192.9 290.4L191.4 293L190 298.5L188.5 294.9L187 292.7L185.6 290.4L184.1 293.7L182.7 298.3L181.2 298.5L179.8 297.8L178.3 290.3L176.8 289.9L175.4 293.3L173.9 297.2L172.5 297.1L171 290.4L169.5 293.2L168.1 297.9L166.6 298.1L165.2 290.5L163.7 278.3L162.3 289.3L160.8 298.6L159.3 298.3L157.9 297.6L156.4 292.3L155 294L153.5 295L152.1 292.6L150.6 296.1L149.1 291.3L147.7 293.5L146.2 298.5L144.8 298.3L143.3 297.5L141.9 289.2L140.4 289.3L138.9 296.9L137.5 298.6L136 297L134.6 290.3L133.1 292.8L131.7 298.5L130.2 294.8L128.7 292.5L127.3 289.8L125.8 293.7L124.4 298.1L122.9 298.4L121.5 297.7L120 291.4L118.5 286.9L117.1 286.1L115.6 294.2L114.2 297.6L112.7 291.2L111.2 293.7L109.8 298.8L108.3 298.2L106.9 294.7L105.4 286.2L104 291.6L102.5 298.4L101 298.4L99.6 297.1L98.1 291L96.7 293.4L95.2 295.4L93.8 293.2L92.3 295.3L90.8 291.4L89.4 294L87.9 298.5L86.5 298L85 297.1L83.6 286.6L82.1 287L80.6 296.3L79.2 298.5L78 298.5Z" fill="#afd8f8" fill-opacity="0.4" stroke="none"/>
<path d="M78 290L79.2 292L80.6 264.3L82.1 238.4L83.6 264.3L85 292L86.5 292.5L87.9 268.2L89.4 245.5L90.8 268.2L92.3 292.5L93.8 292.4L95.2 267.4L96.7 244L98.1 267.4L99.6 292.4L101 292.4L102.5 267.4L104 244L105.4 267.4L106.9 292.4L108.3 292.3L109.8 266.9L111.2 243.2L112.7 266.9L114.2 292.3L115.6 291.6L117.1 261.7L118.5 233.7L120 261.7L121.5 291.6L122.9 292.3L124.4 266.9L125.8 243.2L127.3 266.9L128.7 292.3L130.2 292.3L131.7 266.9L133.1 243.2L134.6 266.9L136 292.3L137.5 291.9L138.9 263.5L140.4 236.9L141.9 263.5L143.3 291.9L144.8 291.5L146.2 260.9L147.7 232.1L149.1 260.9L150.6 291.5L152.1 292.4L153.5 267.4L155 244L156.4 267.4L157.9 292.4L159.3 292.3L160.8 266.9L162.3 243.2L163.7 266.9L165.2 292.3L166.6 292.3L168.1 266.9L169.5 243.2L171 266.9L172.5 292.3L173.9 292L175.4 264.3L176.8 238.4L178.3 264.3L179.8 292L181.2 291.2L182.7 258.3L184.1 227.4L185.6 258.3L187 291.2L188.5 292.2L190 266.5L191.4 242.4L192.9 266.5L194.3 292.2L195.8 291.9L197.2 263.5L198.7 236.9L200.2 263.5L201.6 291.9L203.1 292.3L204.5 266.9L206 243.2L207.4 266.9L208.9 292.3L210.4 292.3L211.8 266.9L213.3 243.2L214.7 266.9L216.2 292.3L217.6 292.5L219.1 268.7L220.6 246.3L222 268.7L223.5 292.5L224.9 292.4L226.4 267.8L227.8 244.7L229.3 267.8L230.8 292.4L232.2 292.4L233.7 267.4L235.1 244L236.6 267.4L238.1 292.4L239.5 292.4L241 267.8L242.4 244.7L243.9 267.8L245.3 292.4L246.8 292.3L248.3 266.9L249.7 243.2L251.2 266.9L252.6 292.3L254.1 291.7L255.5 262.2L257 234.5L258.5 262.2L259.9 291.7L261.4 292.4L262.8 267.8L264.3 244.7L265.7 267.8L267.2 292.4L268.7 291.5L270.1 260.4L271.6 231.4L273 260.4L274.5 291.5L275.9 292.4L277.4 267.4L278.9 244L280.3 267.4L281.8 292.4L283.2 292.4L284.7 267.4L286.1 244L287.6 267.4L289.1 292.4L290.5 291.5L292 260.9L293.4 232.1L294.9 260.9L296.4 291.5L297.8 292.3L299.3 266.9L300.7 243.2L302.2 266.9L303.6 292.3L305.1 291.6L306.6 261.3L308 232.9L309.5 261.3L310.9 291.6L312.4 292.2L313.8 266.1L315.3 241.6L316.8 266.1L318.2 292.2L319.7 291.8L321.1 262.6L322.6 235.3L324 262.6L325.5 291.8L327 292.4L328.4 267.4L329.9 244L331.3 267.4L332.8 292.4L334.2 292.6L335.7 269.1L337.2 247.1L338.6 269.1L340.1 292.6L341.5 292.4L343 267.8L344.4 244.7L345.9 267.8L347.4 292.4L348.8 291.9L350.3 263.5L351.7 236.9L353.2 263.5L354.7 291.9L356.1 292.4L357.6 267.4L359 244L360.5 267.4L361.9 292.4L363.4 292.4L364.9 267.8L366.3 244.7L367.8 267.8L369.2 292.4L370.7 292.2L372.1 266.1L373.6 241.6L375.1 266.1L376.5 292.2L378 292L379.4 264.3L380.9 238.4L382.3 264.3L383.8 292L385.3 292.4L386.7 267.4L388.2 244L389.6 267.4L391.1 292.4L392.5 292L394 264.8L395.5 239.2L396.9 264.8L398.4 292L399.8 292.6L401.3 269.1L402.8 247.1L404.2 269.1L405.7 292.6L407.1 292L408.6 264.8L410 239.2L411.5 264.8L413 292L414.4 292.5L415.9 268.7L417.3 246.3L418.8 268.7L420.2 292.5L421.7 292.1L423.2 265.2L424.6 240L426 237.7" transform="translate(0.43,2.46)" stroke="#000" stroke-opacity="0.1" stroke-width="3"/>
<path d="M78 290L79.2 292L80.6 264.3L82.1 238.4L83.6 264.3L85 292L86.5 292.5L87.9 268.2L89.4 245.5L90.8 268.2L92.3 292.5L93.8 292.4L95.2 267.4L96.7 244L98.1 267.4L99.6 292.4L101 292.4L102.5 267.4L104 244L105.4 267.4L106.9 292.4L108.3 292.3L109.8 266.9L111.2 243.2L112.7 266.9L114.2 292.3L115.6 291.6L117.1 261.7L118.5 233.7L120 261.7L121.5 291.6L122.9 292.3L124.4 266.9L125.8 243.2L127.3 266.9L128.7 292.3L130.2 292.3L131.7 266.9L133.1 243.2L134.6 266.9L136 292.3L137.5 291.9L138.9 263.5L140.4 236.9L141.9 263.5L143.3 291.9L144.8 291.5L146.2 260.9L147.7 232.1L149.1 260.9L150.6 291.5L152.1 292.4L153.5 267.4L155 244L156.4 267.4L157.9 292.4L159.3 292.3L160.8 266.9L162.3 243.2L163.7 266.9L165.2 292.3L166.6 292.3L168.1 266.9L169.5 243.2L171 266.9L172.5 292.3L173.9 292L175.4 264.3L176.8 238.4L178.3 264.3L179.8 292L181.2 291.2L182.7 258.3L184.1 227.4L185.6 258.3L187 291.2L188.5 292.2L190 266.5L191.4 242.4L192.9 266.5L194.3 292.2L195.8 291.9L197.2 263.5L198.7 236.9L200.2 263.5L201.6 291.9L203.1 292.3L204.5 266.9L206 243.2L207.4 266.9L208.9 292.3L210.4 292.3L211.8 266.9L213.3 243.2L214.7 266.9L216.2 292.3L217.6 292.5L219.1 268.7L220.6 246.3L222 268.7L223.5 292.5L224.9 292.4L226.4 267.8L227.8 244.7L229.3 267.8L230.8 292.4L232.2 292.4L233.7 267.4L235.1 244L236.6 267.4L238.1 292.4L239.5 292.4L241 267.8L242.4 244.7L243.9 267.8L245.3 292.4L246.8 292.3L248.3 266.9L249.7 243.2L251.2 266.9L252.6 292.3L254.1 291.7L255.5 262.2L257 234.5L258.5 262.2L259.9 291.7L261.4 292.4L262.8 267.8L264.3 244.7L265.7 267.8L267.2 292.4L268.7 291.5L270.1 260.4L271.6 231.4L273 260.4L274.5 291.5L275.9 292.4L277.4 267.4L278.9 244L280.3 267.4L281.8 292.4L283.2 292.4L284.7 267.4L286.1 244L287.6 267.4L289.1 292.4L290.5 291.5L292 260.9L293.4 232.1L294.9 260.9L296.4 291.5L297.8 292.3L299.3 266.9L300.7 243.2L302.2 266.9L303.6 292.3L305.1 291.6L306.6 261.3L308 232.9L309.5 261.3L310.9 291.6L312.4 292.2L313.8 266.1L315.3 241.6L316.8 266.1L318.2 292.2L319.7 291.8L321.1 262.6L322.6 235.3L324 262.6L325.5 291.8L327 292.4L328.4 267.4L329.9 244L331.3 267.4L332.8 292.4L334.2 292.6L335.7 269.1L337.2 247.1L338.6 269.1L340.1 292.6L341.5 292.4L343 267.8L344.4 244.7L345.9 267.8L347.4 292.4L348.8 291.9L350.3 263.5L351.7 236.9L353.2 263.5L354.7 291.9L356.1 292.4L357.6 267.4L359 244L360.5 267.4L361.9 292.4L363.4 292.4L364.9 267.8L366.3 244.7L367.8 267.8L369.2 292.4L370.7 292.2L372.1 266.1L373.6 241.6L375.1 266.1L376.5 292.2L378 292L379.4 264.3L380.9 238.4L382.3 264.3L383.8 292L385.3 292.4L386.7 267.4L388.2 244L389.6 267.4L391.1 292.4L392.5 292L394 264.8L395.5 239.2L396.9 264.8L398.4 292L399.8 292.6L401.3 269.1L402.8 247.1L404.2 269.1L405.7 292.6L407.1 292L408.6 264.8L410 239.2L411.5 264.8L413 292L414.4 292.5L415.9 268.7L417.3 246.3L418.8 268.7L420.2 292.5L421.7 292.1L423.2 265.2L424.6 240L426 237.7" transform="translate(0.3,1.72)" stroke="#000" stroke-opacity="0.1" stroke-width="1.5"/>
<path d="M78 290L79.2 292L80.6 264.3L82.1 238.4L83.6 264.3L85 292L86.5 292.5L87.9 268.2L89.4 245.5L90.8 268.2L92.3 292.5L93.8 292.4L95.2 267.4L96.7 244L98.1 267.4L99.6 292.4L101 292.4L102.5 267.4L104 244L105.4 267.4L106.9 292.4L108.3 292.3L109.8 266.9L111.2 243.2L112.7 266.9L114.2 292.3L115.6 291.6L117.1 261.7L118.5 233.7L120 261.7L121.5 291.6L122.9 292.3L124.4 266.9L125.8 243.2L127.3 266.9L128.7 292.3L130.2 292.3L131.7 266.9L133.1 243.2L134.6 266.9L136 292.3L137.5 291.9L138.9 263.5L140.4 236.9L141.9 263.5L143.3 291.9L144.8 291.5L146.2 260.9L147.7 232.1L149.1 260.9L150.6 291.5L152.1 292.4L153.5 267.4L155 244L156.4 267.4L157.9 292.4L159.3 292.3L160.8 266.9L162.3 243.2L163.7 266.9L165.2 292.3L166.6 292.3L168.1 266.9L169.5 243.2L171 266.9L172.5 292.3L173.9 292L175.4 264.3L176.8 238.4L178.3 264.3L179.8 292L181.2 291.2L182.7 258.3L184.1 227.4L185.6 258.3L187 291.2L188.5 292.2L190 266.5L191.4 242.4L192.9 266.5L194.3 292.2L195.8 291.9L197.2 263.5L198.7 236.9L200.2 263.5L201.6 291.9L203.1 292.3L204.5 266.9L206 243.2L207.4 266.9L208.9 292.3L210.4 292.3L211.8 266.9L213.3 243.2L214.7 266.9L216.2 292.3L217.6 292.5L219.1 268.7L220.6 246.3L222 268.7L223.5 292.5L224.9 292.4L226.4 267.8L227.8 244.7L229.3 267.8L230.8 292.4L232.2 292.4L233.7 267.4L235.1 244L236.6 267.4L238.1 292.4L239.5 292.4L241 267.8L242.4 244.7L243.9 267.8L245.3 292.4L246.8 292.3L248.3 266.9L249.7 243.2L251.2 266.9L252.6 292.3L254.1 291.7L255.5 262.2L257 234.5L258.5 262.2L259.9 291.7L261.4 292.4L262.8 267.8L264.3 244.7L265.7 267.8L267.2 292.4L268.7 291.5L270.1 260.4L271.6 231.4L273 260.4L274.5 291.5L275.9 292.4L277.4 267.4L278.9 244L280.3 267.4L281.8 292.4L283.2 292.4L284.7 267.4L286.1 244L287.6 267.4L289.1 292.4L290.5 291.5L292 260.9L293.4 232.1L294.9 260.9L296.4 291.5L297.8 292.3L299.3 266.9L300.7 243.2L302.2 266.9L303.6 292.3L305.1 291.6L306.6 261.3L308 232.9L309.5 261.3L310.9 291.6L312.4 292.2L313.8 266.1L315.3 241.6L316.8 266.1L318.2 292.2L319.7 291.8L321.1 262.6L322.6 235.3L324 262.6L325.5 291.8L327 292.4L328.4 267.4L329.9 244L331.3 267.4L332.8 292.4L334.2 292.6L335.7 269.1L337.2 247.1L338.6 269.1L340.1 292.6L341.5 292.4L343 267.8L344.4 244.7L345.9 267.8L347.4 292.4L348.8 291.9L350.3 263.5L351.7 236.9L353.2 263.5L354.7 291.9L356.1 292.4L357.6 267.4L359 244L360.5 267.4L361.9 292.4L363.4 292.4L364.9 267.8L366.3 244.7L367.8 267.8L369.2 292.4L370.7 292.2L372.1 266.1L373.6 241.6L375.1 266.1L376.5 292.2L378 292L379.4 264.3L380.9 238.4L382.3 264.3L383.8 292L385.3 292.4L386.7 267.4L388.2 244L389.6 267.4L391.1 292.4L392.5 292L394 264.8L395.5 239.2L396.9 264.8L398.4 292L399.8 292.6L401.3 269.1L402.8 247.1L404.2 269.1L405.7 292.6L407.1 292L408.6 264.8L410 239.2L411.5 264.8L413 292L414.4 292.5L415.9 268.7L417.3 246.3L418.8 268.7L420.2 292.5L421.7 292.1L423.2 265.2L424.6 240L426 237.7" stroke="#afd8f8" stroke-width="2"/>
<path d="M78 298.5L78.7 298.3L79.5 298.6L80.2 297.6L80.9 295.5L81.6 290.6L82.4 285L83.1 283.2L83.8 288.5L84.5 294.7L85.3 298.4L86 298.1L86.7 297.9L87.4 298.2L88.2 298.6L88.9 296.3L89.6 293L90.4 290L91.1 292.1L91.8 294.7L92.5 295.6L93.3 294.5L94 292.6L94.7 294.4L95.4 295.9L96.2 294.8L96.9 292.8L97.6 289L98.3 291.7L99.1 295L99.8 297.9L100.5 298.8L101.2 298.3L102 298.5L102.7 298.4L103.4 295.6L104.2 290.2L104.9 286L105.6 286.3L106.3 290.5L107.1 296.1L107.8 297.5L108.5 298.5L109.2 298.8L110 298.8L110.7 296.1L111.4 292.9L112.1 289.6L112.9 291.7L113.6 295.4L114.3 298.2L115.1 297.2L115.8 293.4L116.5 289.2L117.2 285.2L118 286.5L118.7 287L119.4 288.5L120.1 292.1L120.9 294.7L121.6 298.4L122.3 298.4L123 298.4L123.8 298.1L124.5 298.1L125.2 295.6L125.9 293.3L126.7 289.5L127.4 289.9L128.1 290.7L128.9 292.9L129.6 293.3L130.3 295.1L131 297.3L131.8 298.7L132.5 295.6L133.2 292.3L133.9 288.7L134.7 290.5L135.4 294.6L136.1 297.4L136.8 298.7L137.6 298.6L138.3 298.3L139 296.7L139.8 293.2L140.5 288.8L141.2 286.2L141.9 289.5L142.7 294L143.4 297.9L144.1 297.9L144.8 298.3L145.6 298.8L146.3 298.5L147 296.4L147.7 293.3L148.5 289.5L149.2 291.5L149.9 293.9L150.7 296.3L151.4 294.8L152.1 292.5L152.8 293.4L153.6 295.1L154.3 295.2L155 293.9L155.7 291.4L156.5 292.4L157.2 294.7L157.9 297.7L158.6 298.8L159.4 298.3L160.1 298.5L160.8 298.6L161.5 296.5L162.3 289.2L163 281L163.7 278.2L164.5 282.2L165.2 290.6L165.9 294.7L166.6 298.1L167.4 297.9L168.1 297.9L168.8 297.1L169.5 293.2L170.3 290.4L171 290.3L171.7 294.1L172.4 297.1L173.2 298.1L173.9 297.2L174.6 295.3L175.4 293.4L176.1 291.4L176.8 289.9L177.5 288.5L178.3 290.1L179 293.6L179.7 297.7L180.4 298.6L181.2 298.5L181.9 298.3L182.6 298.4L183.3 296.7L184.1 294L184.8 290.7L185.5 290.3L186.3 290.8L187 292.7L187.7 292.6L188.4 294.7L189.2 296.4L189.9 298.6L190.6 297.2L191.3 293.4L192.1 290.1L192.8 290.1L193.5 293L194.2 297.1L195 298.3L195.7 298.1L196.4 298.2L197.1 297.3L197.9 293.6L198.6 288.6L199.3 284.1L200.1 285.6L200.8 291.5L201.5 297L202.2 297.9L203 298.3L203.7 298.5L204.4 298.3L205.1 297.3L205.9 292.6L206.6 289.3L207.3 288.6L208 292.8L208.8 294.8L209.5 292.4L210.2 287.6L211 286.2L211.7 290.3L212.4 292.8L213.1 294L213.9 289.9L214.6 290L215.3 293.6L216 296.4L216.8 298.3L217.5 298L218.2 298.4L218.9 298.5L219.7 297.3L220.4 293.5L221.1 288.9L221.8 286.3L222.6 287.7L223.3 293L224 296.4L224.8 297.6L225.5 298.3L226.2 298.3L226.9 297.2L227.7 294.1L228.4 290.7L229.1 289.3L229.8 292.9L230.6 296.2L231.3 298.3L232 297.9L232.7 296.1L233.5 294.2L234.2 291.7L234.9 290.5L235.7 290.2L236.4 291.6L237.1 293.9L237.8 297.1L238.6 297.9L239.3 298.6L240 298.3L240.7 298.4L241.5 297.8L242.2 294.2L242.9 290.1L243.6 288.7L244.4 289.9L245.1 292.4L245.8 292.1L246.6 293.8L247.3 295.7L248 297.6L248.7 297.5L249.5 295L250.2 292L250.9 290.5L251.6 293.1L252.4 296L253.1 298.2L253.8 298.7L254.5 297.8L255.3 297.4L256 292.8L256.7 285L257.4 277.6L258.2 278.9L258.9 286.9L259.6 294.5L260.4 298.6L261.1 298.4L261.8 298L262.5 298.4L263.3 298L264 295.5L264.7 292.3L265.4 290.4L266.2 293.3L266.9 296.5L267.6 295.8L268.3 294L269.1 292.8L269.8 294L270.5 295L271.3 293.9L272 290.9L272.7 289.3L273.4 292.6L274.2 295.7L274.9 298.7L275.6 298.6L276.3 298.3L277.1 298.6L277.8 297.9L278.5 294.8L279.2 290.8L280 286.8L280.7 287.6L281.4 291.8L282.2 295.8L282.9 297.1L283.6 298.1L284.3 298.6L285.1 298.1L285.8 295.8L286.5 292.7L287.2 291.3L288 293.8L288.7 296.2L289.4 298.2L290.1 298.3L290.9 296.3L291.6 295.1L292.3 292.5L293 290.4L293.8 289.4L294.5 288.6L295.2 292.9L296 296L296.7 298.1L297.4 298.6L298.1 298.3L298.9 298.7L299.6 297.9L300.3 295L301 291.4L301.8 287.4L302.5 287.4L303.2 287.8L303.9 286.2L304.7 287.1L305.4 291.7L306.1 295.8L306.9 298.7L307.6 295.8L308.3 292.3L309 289.3L309.8 292.6L310.5 295.8L311.2 297.9L311.9 297.9L312.7 297.9L313.4 298.6L314.1 296.9L314.8 292L315.6 286.8L316.3 283.6L317 289L317.7 293.8L318.5 298.6L319.2 298.1L319.9 298.1L320.7 298.6L321.4 298.1L322.1 295L322.8 291.8L323.6 288.1L324.3 291L325 294.7L325.7 296.4L326.5 294.8L327.2 293.3L327.9 293.5L328.6 294.6L329.4 293.1L330.1 290.9L330.8 286.9L331.6 290.9L332.3 294.8L333 298L333.7 298.1L334.5 298.7L335.2 297.9L335.9 298.7L336.6 296.2L337.4 291.4L338.1 287.5L338.8 287.9L339.5 290.3L340.3 295.2L341 296.7L341.7 298.6L342.5 297.8L343.2 297.9L343.9 295.7L344.6 292.5L345.4 288.4L346.1 291L346.8 294.6L347.5 298.5L348.3 298.1L349 295.5L349.7 292.1L350.4 287.5L351.2 283.2L351.9 283.8L352.6 284.3L353.3 290.3L354.1 294.2L354.8 297.9L355.5 298.5L356.3 298.6L357 298.1L357.7 298.5L358.4 296L359.2 292.4L359.9 288.5L360.6 289.7L361.3 291.1L362.1 293.2L362.8 292.7L363.5 294.3L364.2 296.7L365 298.3L365.7 296L366.4 292.9L367.2 290.3L367.9 291.9L368.6 295.2L369.3 297.9L370.1 298.5L370.8 298.1L371.5 298.2L372.2 297.2L373 293.3L373.7 289L374.4 284.1L375.1 287.4L375.9 292.9L376.6 297.4L377.3 298.1L378.1 297.9L378.8 298.8L379.5 298L380.2 296.4L381 292.7L381.7 288.8L382.4 290.5L383.1 294.4L383.9 296.9L384.6 295.9L385.3 293.9L386 292.4L386.8 293.9L387.5 294.5L388.2 293.2L388.9 291.2L389.7 292L390.4 294.8L391.1 297.3L391.9 297.9L392.6 298.5L393.3 298.6L394 297.9L394.8 296.4L395.5 292.4L396.2 284.4L396.9 281.6L397.7 280.4L398.4 288.3L399.1 293.3L399.8 297.4L400.6 298.4L401.3 298.6L402 296.3L402.8 292.8L403.5 289.5L404.2 290.9L404.9 293.8L405.7 297.8L406.4 298L407.1 298.2L407.8 295.8L408.6 294.7L409.3 290.4L410 288.8L410.7 286.4L411.5 289.4L412.2 293.1L412.9 297.5L413.6 298.3L414.4 298L415.1 298.3L415.8 298.3L416.6 297.4L417.3 293.7L418 291L418.7 291.7L419.5 292.2L420.2 293.2L420.9 292.2L421.6 293.4L422.4 295.8L423.1 297.6L423.8 296.6L424.5 293.4L425.3 290.3L426 290.2L426 298.5L425.3 298.8L424.5 298.4L423.8 298.1L423.1 297.6L422.4 295.8L421.6 293.4L420.9 292.2L420.2 294.2L419.5 296.1L418.7 298.5L418 298.2L417.3 297.9L416.6 298.7L415.8 298.3L415.1 298.3L414.4 298L413.6 298.3L412.9 298.6L412.2 298L411.5 298.1L410.7 295.8L410 294.4L409.3 292.2L408.6 294.7L407.8 295.8L407.1 298.2L406.4 298L405.7 298.7L404.9 298.2L404.2 298.7L403.5 298.2L402.8 298.1L402 298.1L401.3 298.6L400.6 298.4L399.8 297.4L399.1 293.3L398.4 289.1L397.7 284.4L396.9 288.9L396.2 292.7L395.5 297.5L394.8 298.2L394 297.9L393.3 298.6L392.6 298.5L391.9 297.9L391.1 297.9L390.4 298.3L389.7 298.5L388.9 298.8L388.2 297.9L387.5 296.2L386.8 293.9L386 292.4L385.3 293.9L384.6 295.9L383.9 297.6L383.1 298.8L382.4 298.5L381.7 298.4L381 298.6L380.2 298.6L379.5 298L378.8 298.8L378.1 297.9L377.3 298.1L376.6 297.9L375.9 296.6L375.1 294.4L374.4 292.7L373.7 294.3L373 295.3L372.2 297.2L371.5 298.2L370.8 298.1L370.1 298.5L369.3 298.2L368.6 298.6L367.9 298.4L367.2 298.5L366.4 298L365.7 298.1L365 298.3L364.2 296.7L363.5 294.3L362.8 292.7L362.1 293.4L361.3 295.1L360.6 297.3L359.9 298.5L359.2 298.7L358.4 298.6L357.7 298.5L357 298.1L356.3 298.6L355.5 298.5L354.8 298.1L354.1 298L353.3 297.9L352.6 294.3L351.9 290.2L351.2 285.9L350.4 287.5L349.7 292.1L349 295.5L348.3 298.1L347.5 298.5L346.8 298.2L346.1 298.2L345.4 298.2L344.6 298.8L343.9 298.4L343.2 297.9L342.5 297.8L341.7 298.6L341 296.7L340.3 295.2L339.5 293.2L338.8 293.8L338.1 295.7L337.4 296.7L336.6 298.5L335.9 298.7L335.2 297.9L334.5 298.7L333.7 298.1L333 298L332.3 298.5L331.6 298.6L330.8 298L330.1 298.1L329.4 296.4L328.6 294.6L327.9 293.5L327.2 293.3L326.5 294.8L325.7 296.4L325 298.1L324.3 298.1L323.6 298.6L322.8 298.6L322.1 298.2L321.4 298.1L320.7 298.6L319.9 298.1L319.2 298.1L318.5 298.6L317.7 296.8L317 295.3L316.3 293.2L315.6 293.1L314.8 295L314.1 296.9L313.4 298.6L312.7 297.9L311.9 297.9L311.2 297.9L310.5 298.5L309.8 298.5L309 298.3L308.3 298.3L307.6 298.6L306.9 298.7L306.1 295.8L305.4 291.7L304.7 287.1L303.9 286.2L303.2 290.9L302.5 294.3L301.8 298L301 298.8L300.3 298.6L299.6 297.9L298.9 298.7L298.1 298.3L297.4 298.6L296.7 298.1L296 298.3L295.2 298.3L294.5 296.9L293.8 295.2L293 293.3L292.3 292.5L291.6 295.1L290.9 296.3L290.1 298.3L289.4 298.2L288.7 298.3L288 298.5L287.2 298.7L286.5 298L285.8 298.5L285.1 298.1L284.3 298.6L283.6 298.1L282.9 297.1L282.2 295.8L281.4 293.9L280.7 292.5L280 294.6L279.2 296.6L278.5 297.7L277.8 298L277.1 298.6L276.3 298.3L275.6 298.6L274.9 298.7L274.2 298.1L273.4 298.5L272.7 298.6L272 298L271.3 297.6L270.5 295.3L269.8 294L269.1 292.8L268.3 294L267.6 295.8L266.9 298.4L266.2 298L265.4 297.8L264.7 298.1L264 298.6L263.3 298.3L262.5 298.4L261.8 298L261.1 298.4L260.4 298.6L259.6 296.8L258.9 292.8L258.2 288.4L257.4 285.2L256.7 289L256 293.3L255.3 297.4L254.5 297.8L253.8 298.7L253.1 298.2L252.4 297.9L251.6 298L250.9 298.4L250.2 298.5L249.5 298.5L248.7 298L248 297.6L247.3 295.7L246.6 293.8L245.8 292.1L245.1 294.5L244.4 295.6L243.6 298L242.9 298.1L242.2 298.6L241.5 298.5L240.7 298.4L240 298.3L239.3 298.6L238.6 297.9L237.8 298.6L237.1 298L236.4 298.4L235.7 296.2L234.9 293.8L234.2 292.3L233.5 294.2L232.7 296.1L232 297.9L231.3 298.3L230.6 298.1L229.8 298.2L229.1 298.1L228.4 298.6L227.7 298.4L226.9 298L226.2 298.3L225.5 298.3L224.8 297.6L224 296.4L223.3 294.5L222.6 292.1L221.8 293.7L221.1 295.7L220.4 297.4L219.7 298.2L218.9 298.5L218.2 298.4L217.5 298L216.8 298.3L216 298L215.3 298.6L214.6 298.4L213.9 297.8L213.1 298.5L212.4 293.8L211.7 290.3L211 286.2L210.2 287.6L209.5 292.4L208.8 296.4L208 298.3L207.3 298L206.6 298.3L205.9 297.8L205.1 298.6L204.4 298.3L203.7 298.5L203 298.3L202.2 297.9L201.5 298.5L200.8 296.5L200.1 294.2L199.3 292.6L198.6 293.6L197.9 294.9L197.1 297.3L196.4 298.2L195.7 298.1L195 298.3L194.2 298.4L193.5 297.9L192.8 298.6L192.1 298.7L191.3 298.4L190.6 298.7L189.9 298.6L189.2 296.4L188.4 294.7L187.7 292.6L187 293.7L186.3 294.9L185.5 297.4L184.8 298.1L184.1 298.3L183.3 298L182.6 298.4L181.9 298.3L181.2 298.5L180.4 298.6L179.7 298.8L179 298.1L178.3 298L177.5 296.9L176.8 294.9L176.1 293L175.4 293.4L174.6 295.3L173.9 297.2L173.2 298.1L172.4 298.1L171.7 298.4L171 298L170.3 298.8L169.5 298.3L168.8 298.7L168.1 297.9L167.4 297.9L166.6 298.1L165.9 294.7L165.2 291.6L164.5 287.1L163.7 287.1L163 290.9L162.3 295.2L161.5 298.6L160.8 298.6L160.1 298.5L159.4 298.3L158.6 298.8L157.9 298.3L157.2 298L156.5 298.5L155.7 298.5L155 298.2L154.3 296.8L153.6 295.1L152.8 293.4L152.1 292.5L151.4 294.8L150.7 296.9L149.9 297.9L149.2 298.8L148.5 298.2L147.7 298.6L147 298.4L146.3 298.5L145.6 298.8L144.8 298.3L144.1 297.9L143.4 298.3L142.7 297L141.9 295.2L141.2 293.1L140.5 293L139.8 294.9L139 296.7L138.3 298.3L137.6 298.6L136.8 298.7L136.1 297.8L135.4 298.5L134.7 298L133.9 298L133.2 298.1L132.5 297.9L131.8 298.7L131 297.3L130.3 295.1L129.6 293.3L128.9 293.2L128.1 294.3L127.4 296.7L126.7 298.3L125.9 298.8L125.2 297.8L124.5 298.1L123.8 298.1L123 298.4L122.3 298.4L121.6 298.6L120.9 298L120.1 298.5L119.4 296.9L118.7 292.3L118 288.8L117.2 285.2L116.5 289.2L115.8 293.4L115.1 297.2L114.3 298.3L113.6 298.6L112.9 298L112.1 298L111.4 298.3L110.7 298.4L110 298.8L109.2 298.8L108.5 298.5L107.8 297.5L107.1 296.1L106.3 293.6L105.6 292.5L104.9 294.7L104.2 295.7L103.4 298L102.7 298.4L102 298.5L101.2 298.3L100.5 298.8L99.8 297.9L99.1 298.2L98.3 298.2L97.6 298.2L96.9 298.7L96.2 297.5L95.4 295.9L94.7 294.4L94 292.6L93.3 294.5L92.5 295.6L91.8 297.5L91.1 297.8L90.4 298.3L89.6 298.4L88.9 298.7L88.2 298.6L87.4 298.2L86.7 297.9L86 298.1L85.3 298.4L84.5 298.1L83.8 295.6L83.1 294L82.4 292L81.6 293.8L80.9 295.5L80.2 297.6L79.5 298.6L78.7 298.3L78 298.5Z" fill="#cb4b4b" fill-opacity="0.4" stroke="none"/>
<path d="M78 298.5L78.7 298.3L79.5 298.6L80.2 297.6L80.9 295.5L81.6 290.6L82.4 285L83.1 283.2L83.8 288.5L84.5 294.7L85.3 298.4L86 298.1L86.7 297.9L87.4 298.2L88.2 298.6L88.9 296.3L89.6 293L90.4 290L91.1 292.1L91.8 294.7L92.5 295.6L93.3 294.5L94 292.6L94.7 294.4L95.4 295.9L96.2 294.8L96.9 292.8L97.6 289L98.3 291.7L99.1 295L99.8 297.9L100.5 298.8L101.2 298.3L102 298.5L102.7 298.4L103.4 295.6L104.2 290.2L104.9 286L105.6 286.3L106.3 290.5L107.1 296.1L107.8 297.5L108.5 298.5L109.2 298.8L110 298.8L110.7 296.1L111.4 292.9L112.1 289.6L112.9 291.7L113.6 295.4L114.3 298.2L115.1 297.2L115.8 293.4L116.5 289.2L117.2 285.2L118 286.5L118.7 287L119.4 288.5L120.1 292.1L120.9 294.7L121.6 298.4L122.3 298.4L123 298.4L123.8 298.1L124.5 298.1L125.2 295.6L125.9 293.3L126.7 289.5L127.4 289.9L128.1 290.7L128.9 292.9L129.6 293.3L130.3 295.1L131 297.3L131.8 298.7L132.5 295.6L133.2 292.3L133.9 288.7L134.7 290.5L135.4 294.6L136.1 297.4L136.8 298.7L137.6 298.6L138.3 298.3L139 296.7L139.8 293.2L140.5 288.8L141.2 286.2L141.9 289.5L142.7 294L143.4 297.9L144.1 297.9L144.8 298.3L145.6 298.8L146.3 298.5L147 296.4L147.7 293.3L148.5 289.5L149.2 291.5L149.9 293.9L150.7 296.3L151.4 294.8L152.1 292.5L152.8 293.4L153.6 295.1L154.3 295.2L155 293.9L155.7 291.4L156.5 292.4L157.2 294.7L157.9 297.7L158.6 298.8L159.4 298.3L160.1 298.5L160.8 298.6L161.5 296.5L162.3 289.2L163 281L163.7 278.2L164.5 282.2L165.2 290.6L165.9 294.7L166.6 298.1L167.4 297.9L168.1 297.9L168.8 297.1L169.5 293.2L170.3 290.4L171 290.3L171.7 294.1L172.4 297.1L173.2 298.1L173.9 297.2L174.6 295.3L175.4 293.4L176.1 291.4L176.8 289.9L177.5 288.5L178.3 290.1L179 293.6L179.7 297.7L180.4 298.6L181.2 298.5L181.9 298.3L182.6 298.4L183.3 296.7L184.1 294L184.8 290.7L185.5 290.3L186.3 290.8L187 292.7L187.7 292.6L188.4 294.7L189.2 296.4L189.9 298.6L190.6 297.2L191.3 293.4L192.1 290.1L192.8 290.1L193.5 293L194.2 297.1L195 298.3L195.7 298.1L196.4 298.2L197.1 297.3L197.9 293.6L198.6 288.6L199.3 284.1L200.1 285.6L200.8 291.5L201.5 297L202.2 297.9L203 298.3L203.7 298.5L204.4 298.3L205.1 297.3L205.9 292.6L206.6 289.3L207.3 288.6L208 292.8L208.8 294.8L209.5 292.4L210.2 287.6L211 286.2L211.7 290.3L212.4 292.8L213.1 294L213.9 289.9L214.6 290L215.3 293.6L216 296.4L216.8 298.3L217.5 298L218.2 298.4L218.9 298.5L219.7 297.3L220.4 293.5L221.1 288.9L221.8 286.3L222.6 287.7L223.3 293L224 296.4L224.8 297.6L225.5 298.3L226.2 298.3L226.9 297.2L227.7 294.1L228.4 290.7L229.1 289.3L229.8 292.9L230.6 296.2L231.3 298.3L232 297.9L232.7 296.1L233.5 294.2L234.2 291.7L234.9 290.5L235.7 290.2L236.4 291.6L237.1 293.9L237.8 297.1L238.6 297.9L239.3 298.6L240 298.3L240.7 298.4L241.5 297.8L242.2 294.2L242.9 290.1L243.6 288.7L244.4 289.9L245.1 292.4L245.8 292.1L246.6 293.8L247.3 295.7L248 297.6L248.7 297.5L249.5 295L250.2 292L250.9 290.5L251.6 293.1L252.4 296L253.1 298.2L253.8 298.7L254.5 297.8L255.3 297.4L256 292.8L256.7 285L257.4 277.6L258.2 278.9L258.9 286.9L259.6 294.5L260.4 298.6L261.1 298.4L261.8 298L262.5 298.4L263.3 298L264 295.5L264.7 292.3L265.4 290.4L266.2 293.3L266.9 296.5L267.6 295.8L268.3 294L269.1 292.8L269.8 294L270.5 295L271.3 293.9L272 290.9L272.7 289.3L273.4 292.6L274.2 295.7L274.9 298.7L275.6 298.6L276.3 298.3L277.1 298.6L277.8 297.9L278.5 294.8L279.2 290.8L280 286.8L280.7 287.6L281.4 291.8L282.2 295.8L282.9 297.1L283.6 298.1L284.3 298.6L285.1 298.1L285.8 295.8L286.5 292.7L287.2 291.3L288 293.8L288.7 296.2L289.4 298.2L290.1 298.3L290.9 296.3L291.6 295.1L292.3 292.5L293 290.4L293.8 289.4L294.5 288.6L295.2 292.9L296 296L296.7 298.1L297.4 298.6L298.1 298.3L298.9 298.7L299.6 297.9L300.3 295L301 291.4L301.8 287.4L302.5 287.4L303.2 287.8L303.9 286.2L304.7 287.1L305.4 291.7L306.1 295.8L306.9 298.7L307.6 295.8L308.3 292.3L309 289.3L309.8 292.6L310.5 295.8L311.2 297.9L311.9 297.9L312.7 297.9L313.4 298.6L314.1 296.9L314.8 292L315.6 286.8L316.3 283.6L317 289L317.7 293.8L318.5 298.6L319.2 298.1L319.9 298.1L320.7 298.6L321.4 298.1L322.1 295L322.8 291.8L323.6 288.1L324.3 291L325 294.7L325.7 296.4L326.5 294.8L327.2 293.3L327.9 293.5L328.6 294.6L329.4 293.1L330.1 290.9L330.8 286.9L331.6 290.9L332.3 294.8L333 298L333.7 298.1L334.5 298.7L335.2 297.9L335.9 298.7L336.6 296.2L337.4 291.4L338.1 287.5L338.8 287.9L339.5 290.3L340.3 295.2L341 296.7L341.7 298.6L342.5 297.8L343.2 297.9L343.9 295.7L344.6 292.5L345.4 288.4L346.1 291L346.8 294.6L347.5 298.5L348.3 298.1L349 295.5L349.7 292.1L350.4 287.5L351.2 283.2L351.9 283.8L352.6 284.3L353.3 290.3L354.1 294.2L354.8 297.9L355.5 298.5L356.3 298.6L357 298.1L357.7 298.5L358.4 296L359.2 292.4L359.9 288.5L360.6 289.7L361.3 291.1L362.1 293.2L362.8 292.7L363.5 294.3L364.2 296.7L365 298.3L365.7 296L366.4 292.9L367.2 290.3L367.9 291.9L368.6 295.2L369.3 297.9L370.1 298.5L370.8 298.1L371.5 298.2L372.2 297.2L373 293.3L373.7 289L374.4 284.1L375.1 287.4L375.9 292.9L376.6 297.4L377.3 298.1L378.1 297.9L378.8 298.8L379.5 298L380.2 296.4L381 292.7L381.7 288.8L382.4 290.5L383.1 294.4L383.9 296.9L384.6 295.9L385.3 293.9L386 292.4L386.8 293.9L387.5 294.5L388.2 293.2L388.9 291.2L389.7 292L390.4 294.8L391.1 297.3L391.9 297.9L392.6 298.5L393.3 298.6L394 297.9L394.8 296.4L395.5 292.4L396.2 284.4L396.9 281.6L397.7 280.4L398.4 288.3L399.1 293.3L399.8 297.4L400.6 298.4L401.3 298.6L402 296.3L402.8 292.8L403.5 289.5L404.2 290.9L404.9 293.8L405.7 297.8L406.4 298L407.1 298.2L407.8 295.8L408.6 294.7L409.3 290.4L410 288.8L410.7 286.4L411.5 289.4L412.2 293.1L412.9 297.5L413.6 298.3L414.4 298L415.1 298.3L415.8 298.3L416.6 297.4L417.3 293.7L418 291L418.7 291.7L419.5 292.2L420.2 293.2L420.9 292.2L421.6 293.4L422.4 295.8L423.1 297.6L423.8 296.6L424.5 293.4L425.3 290.3L426 290.2" transform="translate(0.43,2.46)" stroke="#000" stroke-opacity="0.1" stroke-width="3"/>
<path d="M78 298.5L78.7 298.3L79.5 298.6L80.2 297.6L80.9 295.5L81.6 290.6L82.4 285L83.1 283.2L83.8 288.5L84.5 294.7L85.3 298.4L86 298.1L86.7 297.9L87.4 298.2L88.2 298.6L88.9 296.3L89.6 293L90.4 290L91.1 292.1L91.8 294.7L92.5 295.6L93.3 294.5L94 292.6L94.7 294.4L95.4 295.9L96.2 294.8L96.9 292.8L97.6 289L98.3 291.7L99.1 295L99.8 297.9L100.5 298.8L101.2 298.3L102 298.5L102.7 298.4L103.4 295.6L104.2 290.2L104.9 286L105.6 286.3L106.3 290.5L107.1 296.1L107.8 297.5L108.5 298.5L109.2 298.8L110 298.8L110.7 296.1L111.4 292.9L112.1 289.6L112.9 291.7L113.6 295.4L114.3 298.2L115.1 297.2L115.8 293.4L116.5 289.2L117.2 285.2L118 286.5L118.7 287L119.4 288.5L120.1 292.1L120.9 294.7L121.6 298.4L122.3 298.4L123 298.4L123.8 298.1L124.5 298.1L125.2 295.6L125.9 293.3L126.7 289.5L127.4 289.9L128.1 290.7L128.9 292.9L129.6 293.3L130.3 295.1L131 297.3L131.8 298.7L132.5 295.6L133.2 292.3L133.9 288.7L134.7 290.5L135.4 294.6L136.1 297.4L136.8 298.7L137.6 298.6L138.3 298.3L139 296.7L139.8 293.2L140.5 288.8L141.2 286.2L141.9 289.5L142.7 294L143.4 297.9L144.1 297.9L144.8 298.3L145.6 298.8L146.3 298.5L147 296.4L147.7 293.3L148.5 289.5L149.2 291.5L149.9 293.9L150.7 296.3L151.4 294.8L152.1 292.5L152.8 293.4L153.6 295.1L154.3 295.2L155 293.9L155.7 291.4L156.5 292.4L157.2 294.7L157.9 297.7L158.6 298.8L159.4 298.3L160.1 298.5L160.8 298.6L161.5 296.5L162.3 289.2L163 281L163.7 278.2L164.5 282.2L165.2 290.6L165.9 294.7L166.6 298.1L167.4 297.9L168.1 297.9L168.8 297.1L169.5 293.2L170.3 290.4L171 290.3L171.7 294.1L172.4 297.1L173.2 298.1L173.9 297.2L174.6 295.3L175.4 293.4L176.1 291.4L176.8 289.9L177.5 288.5L178.3 290.1L179 293.6L179.7 297.7L180.4 298.6L181.2 298.5L181.9 298.3L182.6 298.4L183.3 296.7L184.1 294L184.8 290.7L185.5 290.3L186.3 290.8L187 292.7L187.7 292.6L188.4 294.7L189.2 296.4L189.9 298.6L190.6 297.2L191.3 293.4L192.1 290.1L192.8 290.1L193.5 293L194.2 297.1L195 298.3L195.7 298.1L196.4 298.2L197.1 297.3L197.9 293.6L198.6 288.6L199.3 284.1L200.1 285.6L200.8 291.5L201.5 297L202.2 297.9L203 298.3L203.7 298.5L204.4 298.3L205.1 297.3L205.9 292.6L206.6 289.3L207.3 288.6L208 292.8L208.8 294.8L209.5 292.4L210.2 287.6L211 286.2L211.7 290.3L212.4 292.8L213.1 294L213.9 289.9L214.6 290L215.3 293.6L216 296.4L216.8 298.3L217.5 298L218.2 298.4L218.9 298.5L219.7 297.3L220.4 293.5L221.1 288.9L221.8 286.3L222.6 287.7L223.3 293L224 296.4L224.8 297.6L225.5 298.3L226.2 298.3L226.9 297.2L227.7 294.1L228.4 290.7L229.1 289.3L229.8 292.9L230.6 296.2L231.3 298.3L232 297.9L232.7 296.1L233.5 294.2L234.2 291.7L234.9 290.5L235.7 290.2L236.4 291.6L237.1 293.9L237.8 297.1L238.6 297.9L239.3 298.6L240 298.3L240.7 298.4L241.5 297.8L242.2 294.2L242.9 290.1L243.6 288.7L244.4 289.9L245.1 292.4L245.8 292.1L246.6 293.8L247.3 295.7L248 297.6L248.7 297.5L249.5 295L250.2 292L250.9 290.5L251.6 293.1L252.4 296L253.1 298.2L253.8 298.7L254.5 297.8L255.3 297.4L256 292.8L256.7 285L257.4 277.6L258.2 278.9L258.9 286.9L259.6 294.5L260.4 298.6L261.1 298.4L261.8 298L262.5 298.4L263.3 298L264 295.5L264.7 292.3L265.4 290.4L266.2 293.3L266.9 296.5L267.6 295.8L268.3 294L269.1 292.8L269.8 294L270.5 295L271.3 293.9L272 290.9L272.7 289.3L273.4 292.6L274.2 295.7L274.9 298.7L275.6 298.6L276.3 298.3L277.1 298.6L277.8 297.9L278.5 294.8L279.2 290.8L280 286.8L280.7 287.6L281.4 291.8L282.2 295.8L282.9 297.1L283.6 298.1L284.3 298.6L285.1 298.1L285.8 295.8L286.5 292.7L287.2 291.3L288 293.8L288.7 296.2L289.4 298.2L290.1 298.3L290.9 296.3L291.6 295.1L292.3 292.5L293 290.4L293.8 289.4L294.5 288.6L295.2 292.9L296 296L296.7 298.1L297.4 298.6L298.1 298.3L298.9 298.7L299.6 297.9L300.3 295L301 291.4L301.8 287.4L302.5 287.4L303.2 287.8L303.9 286.2L304.7 287.1L305.4 291.7L306.1 295.8L306.9 298.7L307.6 295.8L308.3 292.3L309 289.3L309.8 292.6L310.5 295.8L311.2 297.9L311.9 297.9L312.7 297.9L313.4 298.6L314.1 296.9L314.8 292L315.6 286.8L316.3 283.6L317 289L317.7 293.8L318.5 298.6L319.2 298.1L319.9 298.1L320.7 298.6L321.4 298.1L322.1 295L322.8 291.8L323.6 288.1L324.3 291L325 294.7L325.7 296.4L326.5 294.8L327.2 293.3L327.9 293.5L328.6 294.6L329.4 293.1L330.1 290.9L330.8 286.9L331.6 290.9L332.3 294.8L333 298L333.7 298.1L334.5 298.7L335.2 297.9L335.9 298.7L336.6 296.2L337.4 291.4L338.1 287.5L338.8 287.9L339.5 290.3L340.3 295.2L341 296.7L341.7 298.6L342.5 297.8L343.2 297.9L343.9 295.7L344.6 292.5L345.4 288.4L346.1 291L346.8 294.6L347.5 298.5L348.3 298.1L349 295.5L349.7 292.1L350.4 287.5L351.2 283.2L351.9 283.8L352.6 284.3L353.3 290.3L354.1 294.2L354.8 297.9L355.5 298.5L356.3 298.6L357 298.1L357.7 298.5L358.4 296L359.2 292.4L359.9 288.5L360.6 289.7L361.3 291.1L362.1 293.2L362.8 292.7L363.5 294.3L364.2 296.7L365 298.3L365.7 296L366.4 292.9L367.2 290.3L367.9 291.9L368.6 295.2L369.3 297.9L370.1 298.5L370.8 298.1L371.5 298.2L372.2 297.2L373 293.3L373.7 289L374.4 284.1L375.1 287.4L375.9 292.9L376.6 297.4L377.3 298.1L378.1 297.9L378.8 298.8L379.5 298L380.2 296.4L381 292.7L381.7 288.8L382.4 290.5L383.1 294.4L383.9 296.9L384.6 295.9L385.3 293.9L386 292.4L386.8 293.9L387.5 294.5L388.2 293.2L388.9 291.2L389.7 292L390.4 294.8L391.1 297.3L391.9 297.9L392.6 298.5L393.3 298.6L394 297.9L394.8 296.4L395.5 292.4L396.2 284.4L396.9 281.6L397.7 280.4L398.4 288.3L399.1 293.3L399.8 297.4L400.6 298.4L401.3 298.6L402 296.3L402.8 292.8L403.5 289.5L404.2 290.9L404.9 293.8L405.7 297.8L406.4 298L407.1 298.2L407.8 295.8L408.6 294.7L409.3 290.4L410 288.8L410.7 286.4L411.5 289.4L412.2 293.1L412.9 297.5L413.6 298.3L414.4 298L415.1 298.3L415.8 298.3L416.6 297.4L417.3 293.7L418 291L418.7 291.7L419.5 292.2L420.2 293.2L420.9 292.2L421.6 293.4L422.4 295.8L423.1 297.6L423.8 296.6L424.5 293.4L425.3 290.3L426 290.2" transform="translate(0.3,1.72)" stroke="#000" stroke-opacity="0.1" stroke-width="1.5"/>
<path d="M78 298.5L78.7 298.3L79.5 298.6L80.2 297.6L80.9 295.5L81.6 290.6L82.4 285L83.1 283.2L83.8 288.5L84.5 294.7L85.3 298.4L86 298.1L86.7 297.9L87.4 298.2L88.2 298.6L88.9 296.3L89.6 293L90.4 290L91.1 292.1L91.8 294.7L92.5 295.6L93.3 294.5L94 292.6L94.7 294.4L95.4 295.9L96.2 294.8L96.9 292.8L97.6 289L98.3 291.7L99.1 295L99.8 297.9L100.5 298.8L101.2 298.3L102 298.5L102.7 298.4L103.4 295.6L104.2 290.2L104.9 286L105.6 286.3L106.3 290.5L107.1 296.1L107.8 297.5L108.5 298.5L109.2 298.8L110 298.8L110.7 296.1L111.4 292.9L112.1 289.6L112.9 291.7L113.6 295.4L114.3 298.2L115.1 297.2L115.8 293.4L116.5 289.2L117.2 285.2L118 286.5L118.7 287L119.4 288.5L120.1 292.1L120.9 294.7L121.6 298.4L122.3 298.4L123 298.4L123.8 298.1L124.5 298.1L125.2 295.6L125.9 293.3L126.7 289.5L127.4 289.9L128.1 290.7L128.9 292.9L129.6 293.3L130.3 295.1L131 297.3L131.8 298.7L132.5 295.6L133.2 292.3L133.9 288.7L134.7 290.5L135.4 294.6L136.1 297.4L136.8 298.7L137.6 298.6L138.3 298.3L139 296.7L139.8 293.2L140.5 288.8L141.2 286.2L141.9 289.5L142.7 294L143.4 297.9L144.1 297.9L144.8 298.3L145.6 298.8L146.3 298.5L147 296.4L147.7 293.3L148.5 289.5L149.2 291.5L149.9 293.9L150.7 296.3L151.4 294.8L152.1 292.5L152.8 293.4L153.6 295.1L154.3 295.2L155 293.9L155.7 291.4L156.5 292.4L157.2 294.7L157.9 297.7L158.6 298.8L159.4 298.3L160.1 298.5L160.8 298.6L161.5 296.5L162.3 289.2L163 281L163.7 278.2L164.5 282.2L165.2 290.6L165.9 294.7L166.6 298.1L167.4 297.9L168.1 297.9L168.8 297.1L169.5 293.2L170.3 290.4L171 290.3L171.7 294.1L172.4 297.1L173.2 298.1L173.9 297.2L174.6 295.3L175.4 293.4L176.1 291.4L176.8 289.9L177.5 288.5L178.3 290.1L179 293.6L179.7 297.7L180.4 298.6L181.2 298.5L181.9 298.3L182.6 298.4L183.3 296.7L184.1 294L184.8 290.7L185.5 290.3L186.3 290.8L187 292.7L187.7 292.6L188.4 294.7L189.2 296.4L189.9 298.6L190.6 297.2L191.3 293.4L192.1 290.1L192.8 290.1L193.5 293L194.2 297.1L195 298.3L195.7 298.1L196.4 298.2L197.1 297.3L197.9 293.6L198.6 288.6L199.3 284.1L200.1 285.6L200.8 291.5L201.5 297L202.2 297.9L203 298.3L203.7 298.5L204.4 298.3L205.1 297.3L205.9 292.6L206.6 289.3L207.3 288.6L208 292.8L208.8 294.8L209.5 292.4L210.2 287.6L211 286.2L211.7 290.3L212.4 292.8L213.1 294L213.9 289.9L214.6 290L215.3 293.6L216 296.4L216.8 298.3L217.5 298L218.2 298.4L218.9 298.5L219.7 297.3L220.4 293.5L221.1 288.9L221.8 286.3L222.6 287.7L223.3 293L224 296.4L224.8 297.6L225.5 298.3L226.2 298.3L226.9 297.2L227.7 294.1L228.4 290.7L229.1 289.3L229.8 292.9L230.6 296.2L231.3 298.3L232 297.9L232.7 296.1L233.5 294.2L234.2 291.7L234.9 290.5L235.7 290.2L236.4 291.6L237.1 293.9L237.8 297.1L238.6 297.9L239.3 298.6L240 298.3L240.7 298.4L241.5 297.8L242.2 294.2L242.9 290.1L243.6 288.7L244.4 289.9L245.1 292.4L245.8 292.1L246.6 293.8L247.3 295.7L248 297.6L248.7 297.5L249.5 295L250.2 292L250.9 290.5L251.6 293.1L252.4 296L253.1 298.2L253.8 298.7L254.5 297.8L255.3 297.4L256 292.8L256.7 285L257.4 277.6L258.2 278.9L258.9 286.9L259.6 294.5L260.4 298.6L261.1 298.4L261.8 298L262.5 298.4L263.3 298L264 295.5L264.7 292.3L265.4 290.4L266.2 293.3L266.9 296.5L267.6 295.8L268.3 294L269.1 292.8L269.8 294L270.5 295L271.3 293.9L272 290.9L272.7 289.3L273.4 292.6L274.2 295.7L274.9 298.7L275.6 298.6L276.3 298.3L277.1 298.6L277.8 297.9L278.5 294.8L279.2 290.8L280 286.8L280.7 287.6L281.4 291.8L282.2 295.8L282.9 297.1L283.6 298.1L284.3 298.6L285.1 298.1L285.8 295.8L286.5 292.7L287.2 291.3L288 293.8L288.7 296.2L289.4 298.2L290.1 298.3L290.9 296.3L291.6 295.1L292.3 292.5L293 290.4L293.8 289.4L294.5 288.6L295.2 292.9L296 296L296.7 298.1L297.4 298.6L298.1 298.3L298.9 298.7L299.6 297.9L300.3 295L301 291.4L301.8 287.4L302.5 287.4L303.2 287.8L303.9 286.2L304.7 287.1L305.4 291.7L306.1 295.8L306.9 298.7L307.6 295.8L308.3 292.3L309 289.3L309.8 292.6L310.5 295.8L311.2 297.9L311.9 297.9L312.7 297.9L313.4 298.6L314.1 296.9L314.8 292L315.6 286.8L316.3 283.6L317 289L317.7 293.8L318.5 298.6L319.2 298.1L319.9 298.1L320.7 298.6L321.4 298.1L322.1 295L322.8 291.8L323.6 288.1L324.3 291L325 294.7L325.7 296.4L326.5 294.8L327.2 293.3L327.9 293.5L328.6 294.6L329.4 293.1L330.1 290.9L330.8 286.9L331.6 290.9L332.3 294.8L333 298L333.7 298.1L334.5 298.7L335.2 297.9L335.9 298.7L336.6 296.2L337.4 291.4L338.1 287.5L338.8 287.9L339.5 290.3L340.3 295.2L341 296.7L341.7 298.6L342.5 297.8L343.2 297.9L343.9 295.7L344.6 292.5L345.4 288.4L346.1 291L346.8 294.6L347.5 298.5L348.3 298.1L349 295.5L349.7 292.1L350.4 287.5L351.2 283.2L351.9 283.8L352.6 284.3L353.3 290.3L354.1 294.2L354.8 297.9L355.5 298.5L356.3 298.6L357 298.1L357.7 298.5L358.4 296L359.2 292.4L359.9 288.5L360.6 289.7L361.3 291.1L362.1 293.2L362.8 292.7L363.5 294.3L364.2 296.7L365 298.3L365.7 296L366.4 292.9L367.2 290.3L367.9 291.9L368.6 295.2L369.3 297.9L370.1 298.5L370.8 298.1L371.5 298.2L372.2 297.2L373 293.3L373.7 289L374.4 284.1L375.1 287.4L375.9 292.9L376.6 297.4L377.3 298.1L378.1 297.9L378.8 298.8L379.5 298L380.2 296.4L381 292.7L381.7 288.8L382.4 290.5L383.1 294.4L383.9 296.9L384.6 295.9L385.3 293.9L386 292.4L386.8 293.9L387.5 294.5L388.2 293.2L388.9 291.2L389.7 292L390.4 294.8L391.1 297.3L391.9 297.9L392.6 298.5L393.3 298.6L394 297.9L394.8 296.4L395.5 292.4L396.2 284.4L396.9 281.6L397.7 280.4L398.4 288.3L399.1 293.3L399.8 297.4L400.6 298.4L401.3 298.6L402 296.3L402.8 292.8L403.5 289.5L404.2 290.9L404.9 293.8L405.7 297.8L406.4 298L407.1 298.2L407.8 295.8L408.6 294.7L409.3 290.4L410 288.8L410.7 286.4L411.5 289.4L412.2 293.1L412.9 297.5L413.6 298.3L414.4 298L415.1 298.3L415.8 298.3L416.6 297.4L417.3 293.7L418 291L418.7 291.7L419.5 292.2L420.2 293.2L420.9 292.2L421.6 293.4L422.4 295.8L423.1 297.6L423.8 296.6L424.5 293.4L425.3 290.3L426 290.2" stroke="#cb4b4b" stroke-width="2"/>
<path d="M78 298.5L78.7 298.3L79.5 298.6L80.2 297.6L80.9 295.5L81.6 293.8L82.4 292L83.1 294L83.8 295.6L84.5 298.1L85.3 298.4L86 298.1L86.7 297.9L87.4 298.2L88.2 298.6L88.9 298.7L89.6 298.4L90.4 298.3L91.1 297.8L91.8 297.5L92.5 295.6L93.3 294.5L94 292.6L94.7 294.4L95.4 295.9L96.2 297.5L96.9 298.7L97.6 298.2L98.3 298.2L99.1 298.2L99.8 297.9L100.5 298.8L101.2 298.3L102 298.5L102.7 298.4L103.4 298L104.2 295.7L104.9 294.7L105.6 292.5L106.3 293.6L107.1 296.1L107.8 297.5L108.5 298.5L109.2 298.8L110 298.8L110.7 298.4L111.4 298.3L112.1 298L112.9 298L113.6 298.6L114.3 298.3L115.1 297.2L115.8 293.4L116.5 289.2L117.2 285.2L118 288.8L118.7 292.3L119.4 296.9L120.1 298.5L120.9 298L121.6 298.6L122.3 298.4L123 298.4L123.8 298.1L124.5 298.1L125.2 297.8L125.9 298.8L126.7 298.3L127.4 296.7L128.1 294.3L128.9 293.2L129.6 293.3L130.3 295.1L131 297.3L131.8 298.7L132.5 297.9L133.2 298.1L133.9 298L134.7 298L135.4 298.5L136.1 297.8L136.8 298.7L137.6 298.6L138.3 298.3L139 296.7L139.8 294.9L140.5 293L141.2 293.1L141.9 295.2L142.7 297L143.4 298.3L144.1 297.9L144.8 298.3L145.6 298.8L146.3 298.5L147 298.4L147.7 298.6L148.5 298.2L149.2 298.8L149.9 297.9L150.7 296.9L151.4 294.8L152.1 292.5L152.8 293.4L153.6 295.1L154.3 296.8L155 298.2L155.7 298.5L156.5 298.5L157.2 298L157.9 298.3L158.6 298.8L159.4 298.3L160.1 298.5L160.8 298.6L161.5 298.6L162.3 295.2L163 290.9L163.7 287.1L164.5 287.1L165.2 291.6L165.9 294.7L166.6 298.1L167.4 297.9L168.1 297.9L168.8 298.7L169.5 298.3L170.3 298.8L171 298L171.7 298.4L172.4 298.1L173.2 298.1L173.9 297.2L174.6 295.3L175.4 293.4L176.1 293L176.8 294.9L177.5 296.9L178.3 298L179 298.1L179.7 298.8L180.4 298.6L181.2 298.5L181.9 298.3L182.6 298.4L183.3 298L184.1 298.3L184.8 298.1L185.5 297.4L186.3 294.9L187 293.7L187.7 292.6L188.4 294.7L189.2 296.4L189.9 298.6L190.6 298.7L191.3 298.4L192.1 298.7L192.8 298.6L193.5 297.9L194.2 298.4L195 298.3L195.7 298.1L196.4 298.2L197.1 297.3L197.9 294.9L198.6 293.6L199.3 292.6L200.1 294.2L200.8 296.5L201.5 298.5L202.2 297.9L203 298.3L203.7 298.5L204.4 298.3L205.1 298.6L205.9 297.8L206.6 298.3L207.3 298L208 298.3L208.8 296.4L209.5 292.4L210.2 287.6L211 286.2L211.7 290.3L212.4 293.8L213.1 298.5L213.9 297.8L214.6 298.4L215.3 298.6L216 298L216.8 298.3L217.5 298L218.2 298.4L218.9 298.5L219.7 298.2L220.4 297.4L221.1 295.7L221.8 293.7L222.6 292.1L223.3 294.5L224 296.4L224.8 297.6L225.5 298.3L226.2 298.3L226.9 298L227.7 298.4L228.4 298.6L229.1 298.1L229.8 298.2L230.6 298.1L231.3 298.3L232 297.9L232.7 296.1L233.5 294.2L234.2 292.3L234.9 293.8L235.7 296.2L236.4 298.4L237.1 298L237.8 298.6L238.6 297.9L239.3 298.6L240 298.3L240.7 298.4L241.5 298.5L242.2 298.6L242.9 298.1L243.6 298L244.4 295.6L245.1 294.5L245.8 292.1L246.6 293.8L247.3 295.7L248 297.6L248.7 298L249.5 298.5L250.2 298.5L250.9 298.4L251.6 298L252.4 297.9L253.1 298.2L253.8 298.7L254.5 297.8L255.3 297.4L256 293.3L256.7 289L257.4 285.2L258.2 288.4L258.9 292.8L259.6 296.8L260.4 298.6L261.1 298.4L261.8 298L262.5 298.4L263.3 298.3L264 298.6L264.7 298.1L265.4 297.8L266.2 298L266.9 298.4L267.6 295.8L268.3 294L269.1 292.8L269.8 294L270.5 295.3L271.3 297.6L272 298L272.7 298.6L273.4 298.5L274.2 298.1L274.9 298.7L275.6 298.6L276.3 298.3L277.1 298.6L277.8 298L278.5 297.7L279.2 296.6L280 294.6L280.7 292.5L281.4 293.9L282.2 295.8L282.9 297.1L283.6 298.1L284.3 298.6L285.1 298.1L285.8 298.5L286.5 298L287.2 298.7L288 298.5L288.7 298.3L289.4 298.2L290.1 298.3L290.9 296.3L291.6 295.1L292.3 292.5L293 293.3L293.8 295.2L294.5 296.9L295.2 298.3L296 298.3L296.7 298.1L297.4 298.6L298.1 298.3L298.9 298.7L299.6 297.9L300.3 298.6L301 298.8L301.8 298L302.5 294.3L303.2 290.9L303.9 286.2L304.7 287.1L305.4 291.7L306.1 295.8L306.9 298.7L307.6 298.6L308.3 298.3L309 298.3L309.8 298.5L310.5 298.5L311.2 297.9L311.9 297.9L312.7 297.9L313.4 298.6L314.1 296.9L314.8 295L315.6 293.1L316.3 293.2L317 295.3L317.7 296.8L318.5 298.6L319.2 298.1L319.9 298.1L320.7 298.6L321.4 298.1L322.1 298.2L322.8 298.6L323.6 298.6L324.3 298.1L325 298.1L325.7 296.4L326.5 294.8L327.2 293.3L327.9 293.5L328.6 294.6L329.4 296.4L330.1 298.1L330.8 298L331.6 298.6L332.3 298.5L333 298L333.7 298.1L334.5 298.7L335.2 297.9L335.9 298.7L336.6 298.5L337.4 296.7L338.1 295.7L338.8 293.8L339.5 293.2L340.3 295.2L341 296.7L341.7 298.6L342.5 297.8L343.2 297.9L343.9 298.4L344.6 298.8L345.4 298.2L346.1 298.2L346.8 298.2L347.5 298.5L348.3 298.1L349 295.5L349.7 292.1L350.4 287.5L351.2 285.9L351.9 290.2L352.6 294.3L353.3 297.9L354.1 298L354.8 298.1L355.5 298.5L356.3 298.6L357 298.1L357.7 298.5L358.4 298.6L359.2 298.7L359.9 298.5L360.6 297.3L361.3 295.1L362.1 293.4L362.8 292.7L363.5 294.3L364.2 296.7L365 298.3L365.7 298.1L366.4 298L367.2 298.5L367.9 298.4L368.6 298.6L369.3 298.2L370.1 298.5L370.8 298.1L371.5 298.2L372.2 297.2L373 295.3L373.7 294.3L374.4 292.7L375.1 294.4L375.9 296.6L376.6 297.9L377.3 298.1L378.1 297.9L378.8 298.8L379.5 298L380.2 298.6L381 298.6L381.7 298.4L382.4 298.5L383.1 298.8L383.9 297.6L384.6 295.9L385.3 293.9L386 292.4L386.8 293.9L387.5 296.2L388.2 297.9L388.9 298.8L389.7 298.5L390.4 298.3L391.1 297.9L391.9 297.9L392.6 298.5L393.3 298.6L394 297.9L394.8 298.2L395.5 297.5L396.2 292.7L396.9 288.9L397.7 284.4L398.4 289.1L399.1 293.3L399.8 297.4L400.6 298.4L401.3 298.6L402 298.1L402.8 298.1L403.5 298.2L404.2 298.7L404.9 298.2L405.7 298.7L406.4 298L407.1 298.2L407.8 295.8L408.6 294.7L409.3 292.2L410 294.4L410.7 295.8L411.5 298.1L412.2 298L412.9 298.6L413.6 298.3L414.4 298L415.1 298.3L415.8 298.3L416.6 298.7L417.3 297.9L418 298.2L418.7 298.5L419.5 296.1L420.2 294.2L420.9 292.2L421.6 293.4L422.4 295.8L423.1 297.6L423.8 298.1L424.5 298.4L425.3 298.8L426 298.5" transform="translate(0.43,2.46)" stroke="#000" stroke-opacity="0.1" stroke-width="3"/>
<path d="M78 298.5L78.7 298.3L79.5 298.6L80.2 297.6L80.9 295.5L81.6 293.8L82.4 292L83.1 294L83.8 295.6L84.5 298.1L85.3 298.4L86 298.1L86.7 297.9L87.4 298.2L88.2 298.6L88.9 298.7L89.6 298.4L90.4 298.3L91.1 297.8L91.8 297.5L92.5 295.6L93.3 294.5L94 292.6L94.7 294.4L95.4 295.9L96.2 297.5L96.9 298.7L97.6 298.2L98.3 298.2L99.1 298.2L99.8 297.9L100.5 298.8L101.2 298.3L102 298.5L102.7 298.4L103.4 298L104.2 295.7L104.9 294.7L105.6 292.5L106.3 293.6L107.1 296.1L107.8 297.5L108.5 298.5L109.2 298.8L110 298.8L110.7 298.4L111.4 298.3L112.1 298L112.9 298L113.6 298.6L114.3 298.3L115.1 297.2L115.8 293.4L116.5 289.2L117.2 285.2L118 288.8L118.7 292.3L119.4 296.9L120.1 298.5L120.9 298L121.6 298.6L122.3 298.4L123 298.4L123.8 298.1L124.5 298.1L125.2 297.8L125.9 298.8L126.7 298.3L127.4 296.7L128.1 294.3L128.9 293.2L129.6 293.3L130.3 295.1L131 297.3L131.8 298.7L132.5 297.9L133.2 298.1L133.9 298L134.7 298L135.4 298.5L136.1 297.8L136.8 298.7L137.6 298.6L138.3 298.3L139 296.7L139.8 294.9L140.5 293L141.2 293.1L141.9 295.2L142.7 297L143.4 298.3L144.1 297.9L144.8 298.3L145.6 298.8L146.3 298.5L147 298.4L147.7 298.6L148.5 298.2L149.2 298.8L149.9 297.9L150.7 296.9L151.4 294.8L152.1 292.5L152.8 293.4L153.6 295.1L154.3 296.8L155 298.2L155.7 298.5L156.5 298.5L157.2 298L157.9 298.3L158.6 298.8L159.4 298.3L160.1 298.5L160.8 298.6L161.5 298.6L162.3 295.2L163 290.9L163.7 287.1L164.5 287.1L165.2 291.6L165.9 294.7L166.6 298.1L167.4 297.9L168.1 297.9L168.8 298.7L169.5 298.3L170.3 298.8L171 298L171.7 298.4L172.4 298.1L173.2 298.1L173.9 297.2L174.6 295.3L175.4 293.4L176.1 293L176.8 294.9L177.5 296.9L178.3 298L179 298.1L179.7 298.8L180.4 298.6L181.2 298.5L181.9 298.3L182.6 298.4L183.3 298L184.1 298.3L184.8 298.1L185.5 297.4L186.3 294.9L187 293.7L187.7 292.6L188.4 294.7L189.2 296.4L189.9 298.6L190.6 298.7L191.3 298.4L192.1 298.7L192.8 298.6L193.5 297.9L194.2 298.4L195 298.3L195.7 298.1L196.4 298.2L197.1 297.3L197.9 294.9L198.6 293.6L199.3 292.6L200.1 294.2L200.8 296.5L201.5 298.5L202.2 297.9L203 298.3L203.7 298.5L204.4 298.3L205.1 298.6L205.9 297.8L206.6 298.3L207.3 298L208 298.3L208.8 296.4L209.5 292.4L210.2 287.6L211 286.2L211.7 290.3L212.4 293.8L213.1 298.5L213.9 297.8L214.6 298.4L215.3 298.6L216 298L216.8 298.3L217.5 298L218.2 298.4L218.9 298.5L219.7 298.2L220.4 297.4L221.1 295.7L221.8 293.7L222.6 292.1L223.3 294.5L224 296.4L224.8 297.6L225.5 298.3L226.2 298.3L226.9 298L227.7 298.4L228.4 298.6L229.1 298.1L229.8 298.2L230.6 298.1L231.3 298.3L232 297.9L232.7 296.1L233.5 294.2L234.2 292.3L234.9 293.8L235.7 296.2L236.4 298.4L237.1 298L237.8 298.6L238.6 297.9L239.3 298.6L240 298.3L240.7 298.4L241.5 298.5L242.2 298.6L242.9 298.1L243.6 298L244.4 295.6L245.1 294.5L245.8 292.1L246.6 293.8L247.3 295.7L248 297.6L248.7 298L249.5 298.5L250.2 298.5L250.9 298.4L251.6 298L252.4 297.9L253.1 298.2L253.8 298.7L254.5 297.8L255.3 297.4L256 293.3L256.7 289L257.4 285.2L258.2 288.4L258.9 292.8L259.6 296.8L260.4 298.6L261.1 298.4L261.8 298L262.5 298.4L263.3 298.3L264 298.6L264.7 298.1L265.4 297.8L266.2 298L266.9 298.4L267.6 295.8L268.3 294L269.1 292.8L269.8 294L270.5 295.3L271.3 297.6L272 298L272.7 298.6L273.4 298.5L274.2 298.1L274.9 298.7L275.6 298.6L276.3 298.3L277.1 298.6L277.8 298L278.5 297.7L279.2 296.6L280 294.6L280.7 292.5L281.4 293.9L282.2 295.8L282.9 297.1L283.6 298.1L284.3 298.6L285.1 298.1L285.8 298.5L286.5 298L287.2 298.7L288 298.5L288.7 298.3L289.4 298.2L290.1 298.3L290.9 296.3L291.6 295.1L292.3 292.5L293 293.3L293.8 295.2L294.5 296.9L295.2 298.3L296 298.3L296.7 298.1L297.4 298.6L298.1 298.3L298.9 298.7L299.6 297.9L300.3 298.6L301 298.8L301.8 298L302.5 294.3L303.2 290.9L303.9 286.2L304.7 287.1L305.4 291.7L306.1 295.8L306.9 298.7L307.6 298.6L308.3 298.3L309 298.3L309.8 298.5L310.5 298.5L311.2 297.9L311.9 297.9L312.7 297.9L313.4 298.6L314.1 296.9L314.8 295L315.6 293.1L316.3 293.2L317 295.3L317.7 296.8L318.5 298.6L319.2 298.1L319.9 298.1L320.7 298.6L321.4 298.1L322.1 298.2L322.8 298.6L323.6 298.6L324.3 298.1L325 298.1L325.7 296.4L326.5 294.8L327.2 293.3L327.9 293.5L328.6 294.6L329.4 296.4L330.1 298.1L330.8 298L331.6 298.6L332.3 298.5L333 298L333.7 298.1L334.5 298.7L335.2 297.9L335.9 298.7L336.6 298.5L337.4 296.7L338.1 295.7L338.8 293.8L339.5 293.2L340.3 295.2L341 296.7L341.7 298.6L342.5 297.8L343.2 297.9L343.9 298.4L344.6 298.8L345.4 298.2L346.1 298.2L346.8 298.2L347.5 298.5L348.3 298.1L349 295.5L349.7 292.1L350.4 287.5L351.2 285.9L351.9 290.2L352.6 294.3L353.3 297.9L354.1 298L354.8 298.1L355.5 298.5L356.3 298.6L357 298.1L357.7 298.5L358.4 298.6L359.2 298.7L359.9 298.5L360.6 297.3L361.3 295.1L362.1 293.4L362.8 292.7L363.5 294.3L364.2 296.7L365 298.3L365.7 298.1L366.4 298L367.2 298.5L367.9 298.4L368.6 298.6L369.3 298.2L370.1 298.5L370.8 298.1L371.5 298.2L372.2 297.2L373 295.3L373.7 294.3L374.4 292.7L375.1 294.4L375.9 296.6L376.6 297.9L377.3 298.1L378.1 297.9L378.8 298.8L379.5 298L380.2 298.6L381 298.6L381.7 298.4L382.4 298.5L383.1 298.8L383.9 297.6L384.6 295.9L385.3 293.9L386 292.4L386.8 293.9L387.5 296.2L388.2 297.9L388.9 298.8L389.7 298.5L390.4 298.3L391.1 297.9L391.9 297.9L392.6 298.5L393.3 298.6L394 297.9L394.8 298.2L395.5 297.5L396.2 292.7L396.9 288.9L397.7 284.4L398.4 289.1L399.1 293.3L399.8 297.4L400.6 298.4L401.3 298.6L402 298.1L402.8 298.1L403.5 298.2L404.2 298.7L404.9 298.2L405.7 298.7L406.4 298L407.1 298.2L407.8 295.8L408.6 294.7L409.3 292.2L410 294.4L410.7 295.8L411.5 298.1L412.2 298L412.9 298.6L413.6 298.3L414.4 298L415.1 298.3L415.8 298.3L416.6 298.7L417.3 297.9L418 298.2L418.7 298.5L419.5 296.1L420.2 294.2L420.9 292.2L421.6 293.4L422.4 295.8L423.1 297.6L423.8 298.1L424.5 298.4L425.3 298.8L426 298.5" transform="translate(0.3,1.72)" stroke="#000" stroke-opacity="0.1" stroke-width="1.5"/>
<path d="M78 298.5L78.7 298.3L79.5 298.6L80.2 297.6L80.9 295.5L81.6 293.8L82.4 292L83.1 294L83.8 295.6L84.5 298.1L85.3 298.4L86 298.1L86.7 297.9L87.4 298.2L88.2 298.6L88.9 298.7L89.6 298.4L90.4 298.3L91.1 297.8L91.8 297.5L92.5 295.6L93.3 294.5L94 292.6L94.7 294.4L95.4 295.9L96.2 297.5L96.9 298.7L97.6 298.2L98.3 298.2L99.1 298.2L99.8 297.9L100.5 298.8L101.2 298.3L102 298.5L102.7 298.4L103.4 298L104.2 295.7L104.9 294.7L105.6 292.5L106.3 293.6L107.1 296.1L107.8 297.5L108.5 298.5L109.2 298.8L110 298.8L110.7 298.4L111.4 298.3L112.1 298L112.9 298L113.6 298.6L114.3 298.3L115.1 297.2L115.8 293.4L116.5 289.2L117.2 285.2L118 288.8L118.7 292.3L119.4 296.9L120.1 298.5L120.9 298L121.6 298.6L122.3 298.4L123 298.4L123.8 298.1L124.5 298.1L125.2 297.8L125.9 298.8L126.7 298.3L127.4 296.7L128.1 294.3L128.9 293.2L129.6 293.3L130.3 295.1L131 297.3L131.8 298.7L132.5 297.9L133.2 298.1L133.9 298L134.7 298L135.4 298.5L136.1 297.8L136.8 298.7L137.6 298.6L138.3 298.3L139 296.7L139.8 294.9L140.5 293L141.2 293.1L141.9 295.2L142.7 297L143.4 298.3L144.1 297.9L144.8 298.3L145.6 298.8L146.3 298.5L147 298.4L147.7 298.6L148.5 298.2L149.2 298.8L149.9 297.9L150.7 296.9L151.4 294.8L152.1 292.5L152.8 293.4L153.6 295.1L154.3 296.8L155 298.2L155.7 298.5L156.5 298.5L157.2 298L157.9 298.3L158.6 298.8L159.4 298.3L160.1 298.5L160.8 298.6L161.5 298.6L162.3 295.2L163 290.9L163.7 287.1L164.5 287.1L165.2 291.6L165.9 294.7L166.6 298.1L167.4 297.9L168.1 297.9L168.8 298.7L169.5 298.3L170.3 298.8L171 298L171.7 298.4L172.4 298.1L173.2 298.1L173.9 297.2L174.6 295.3L175.4 293.4L176.1 293L176.8 294.9L177.5 296.9L178.3 298L179 298.1L179.7 298.8L180.4 298.6L181.2 298.5L181.9 298.3L182.6 298.4L183.3 298L184.1 298.3L184.8 298.1L185.5 297.4L186.3 294.9L187 293.7L187.7 292.6L188.4 294.7L189.2 296.4L189.9 298.6L190.6 298.7L191.3 298.4L192.1 298.7L192.8 298.6L193.5 297.9L194.2 298.4L195 298.3L195.7 298.1L196.4 298.2L197.1 297.3L197.9 294.9L198.6 293.6L199.3 292.6L200.1 294.2L200.8 296.5L201.5 298.5L202.2 297.9L203 298.3L203.7 298.5L204.4 298.3L205.1 298.6L205.9 297.8L206.6 298.3L207.3 298L208 298.3L208.8 296.4L209.5 292.4L210.2 287.6L211 286.2L211.7 290.3L212.4 293.8L213.1 298.5L213.9 297.8L214.6 298.4L215.3 298.6L216 298L216.8 298.3L217.5 298L218.2 298.4L218.9 298.5L219.7 298.2L220.4 297.4L221.1 295.7L221.8 293.7L222.6 292.1L223.3 294.5L224 296.4L224.8 297.6L225.5 298.3L226.2 298.3L226.9 298L227.7 298.4L228.4 298.6L229.1 298.1L229.8 298.2L230.6 298.1L231.3 298.3L232 297.9L232.7 296.1L233.5 294.2L234.2 292.3L234.9 293.8L235.7 296.2L236.4 298.4L237.1 298L237.8 298.6L238.6 297.9L239.3 298.6L240 298.3L240.7 298.4L241.5 298.5L242.2 298.6L242.9 298.1L243.6 298L244.4 295.6L245.1 294.5L245.8 292.1L246.6 293.8L247.3 295.7L248 297.6L248.7 298L249.5 298.5L250.2 298.5L250.9 298.4L251.6 298L252.4 297.9L253.1 298.2L253.8 298.7L254.5 297.8L255.3 297.4L256 293.3L256.7 289L257.4 285.2L258.2 288.4L258.9 292.8L259.6 296.8L260.4 298.6L261.1 298.4L261.8 298L262.5 298.4L263.3 298.3L264 298.6L264.7 298.1L265.4 297.8L266.2 298L266.9 298.4L267.6 295.8L268.3 294L269.1 292.8L269.8 294L270.5 295.3L271.3 297.6L272 298L272.7 298.6L273.4 298.5L274.2 298.1L274.9 298.7L275.6 298.6L276.3 298.3L277.1 298.6L277.8 298L278.5 297.7L279.2 296.6L280 294.6L280.7 292.5L281.4 293.9L282.2 295.8L282.9 297.1L283.6 298.1L284.3 298.6L285.1 298.1L285.8 298.5L286.5 298L287.2 298.7L288 298.5L288.7 298.3L289.4 298.2L290.1 298.3L290.9 296.3L291.6 295.1L292.3 292.5L293 293.3L293.8 295.2L294.5 296.9L295.2 298.3L296 298.3L296.7 298.1L297.4 298.6L298.1 298.3L298.9 298.7L299.6 297.9L300.3 298.6L301 298.8L301.8 298L302.5 294.3L303.2 290.9L303.9 286.2L304.7 287.1L305.4 291.7L306.1 295.8L306.9 298.7L307.6 298.6L308.3 298.3L309 298.3L309.8 298.5L310.5 298.5L311.2 297.9L311.9 297.9L312.7 297.9L313.4 298.6L314.1 296.9L314.8 295L315.6 293.1L316.3 293.2L317 295.3L317.7 296.8L318.5 298.6L319.2 298.1L319.9 298.1L320.7 298.6L321.4 298.1L322.1 298.2L322.8 298.6L323.6 298.6L324.3 298.1L325 298.1L325.7 296.4L326.5 294.8L327.2 293.3L327.9 293.5L328.6 294.6L329.4 296.4L330.1 298.1L330.8 298L331.6 298.6L332.3 298.5L333 298L333.7 298.1L334.5 298.7L335.2 297.9L335.9 298.7L336.6 298.5L337.4 296.7L338.1 295.7L338.8 293.8L339.5 293.2L340.3 295.2L341 296.7L341.7 298.6L342.5 297.8L343.2 297.9L343.9 298.4L344.6 298.8L345.4 298.2L346.1 298.2L346.8 298.2L347.5 298.5L348.3 298.1L349 295.5L349.7 292.1L350.4 287.5L351.2 285.9L351.9 290.2L352.6 294.3L353.3 297.9L354.1 298L354.8 298.1L355.5 298.5L356.3 298.6L357 298.1L357.7 298.5L358.4 298.6L359.2 298.7L359.9 298.5L360.6 297.3L361.3 295.1L362.1 293.4L362.8 292.7L363.5 294.3L364.2 296.7L365 298.3L365.7 298.1L366.4 298L367.2 298.5L367.9 298.4L368.6 298.6L369.3 298.2L370.1 298.5L370.8 298.1L371.5 298.2L372.2 297.2L373 295.3L373.7 294.3L374.4 292.7L375.1 294.4L375.9 296.6L376.6 297.9L377.3 298.1L378.1 297.9L378.8 298.8L379.5 298L380.2 298.6L381 298.6L381.7 298.4L382.4 298.5L383.1 298.8L383.9 297.6L384.6 295.9L385.3 293.9L386 292.4L386.8 293.9L387.5 296.2L388.2 297.9L388.9 298.8L389.7 298.5L390.4 298.3L391.1 297.9L391.9 297.9L392.6 298.5L393.3 298.6L394 297.9L394.8 298.2L395.5 297.5L396.2 292.7L396.9 288.9L397.7 284.4L398.4 289.1L399.1 293.3L399.8 297.4L400.6 298.4L401.3 298.6L402 298.1L402.8 298.1L403.5 298.2L404.2 298.7L404.9 298.2L405.7 298.7L406.4 298L407.1 298.2L407.8 295.8L408.6 294.7L409.3 292.2L410 294.4L410.7 295.8L411.5 298.1L412.2 298L412.9 298.6L413.6 298.3L414.4 298L415.1 298.3L415.8 298.3L416.6 298.7L417.3 297.9L418 298.2L418.7 298.5L419.5 296.1L420.2 294.2L420.9 292.2L421.6 293.4L422.4 295.8L423.1 297.6L423.8 298.1L424.5 298.4L425.3 298.8L426 298.5" stroke="#4da74d" stroke-width="2"/>
<path d="M78 298.5L78.7 298.3L79.5 298.6L80.2 297.6L80.9 295.5L81.6 293.8L82.4 292L83.1 294L83.8 295.6L84.5 298.1L85.3 298.4L86 298.1L86.7 297.9L87.4 298.2L88.2 298.6L88.9 298.7L89.6 298.4L90.4 298.3L91.1 297.8L91.8 297.5L92.5 295.6L93.3 294.5L94 292.6L94.7 294.4L95.4 295.9L96.2 297.5L96.9 298.7L97.6 298.2L98.3 298.2L99.1 298.2L99.8 297.9L100.5 298.8L101.2 298.3L102 298.5L102.7 298.4L103.4 298L104.2 295.7L104.9 294.7L105.6 292.5L106.3 293.6L107.1 296.1L107.8 297.5L108.5 298.5L109.2 298.8L110 298.8L110.7 298.4L111.4 298.3L112.1 298L112.9 298L113.6 298.6L114.3 298.3L115.1 297.2L115.8 293.4L116.5 289.2L117.2 285.2L118 288.8L118.7 292.3L119.4 296.9L120.1 298.5L120.9 298L121.6 298.6L122.3 298.4L123 298.4L123.8 298.1L124.5 298.1L125.2 297.8L125.9 298.8L126.7 298.3L127.4 296.7L128.1 294.3L128.9 293.2L129.6 293.3L130.3 295.1L131 297.3L131.8 298.7L132.5 297.9L133.2 298.1L133.9 298L134.7 298L135.4 298.5L136.1 297.8L136.8 298.7L137.6 298.6L138.3 298.3L139 296.7L139.8 294.9L140.5 293L141.2 293.1L141.9 295.2L142.7 297L143.4 298.3L144.1 297.9L144.8 298.3L145.6 298.8L146.3 298.5L147 298.4L147.7 298.6L148.5 298.2L149.2 298.8L149.9 297.9L150.7 296.9L151.4 294.8L152.1 292.5L152.8 293.4L153.6 295.1L154.3 296.8L155 298.2L155.7 298.5L156.5 298.5L157.2 298L157.9 298.3L158.6 298.8L159.4 298.3L160.1 298.5L160.8 298.6L161.5 298.6L162.3 295.2L163 290.9L163.7 287.1L164.5 287.1L165.2 291.6L165.9 294.7L166.6 298.1L167.4 297.9L168.1 297.9L168.8 298.7L169.5 298.3L170.3 298.8L171 298L171.7 298.4L172.4 298.1L173.2 298.1L173.9 297.2L174.6 295.3L175.4 293.4L176.1 293L176.8 294.9L177.5 296.9L178.3 298L179 298.1L179.7 298.8L180.4 298.6L181.2 298.5L181.9 298.3L182.6 298.4L183.3 298L184.1 298.3L184.8 298.1L185.5 297.4L186.3 294.9L187 293.7L187.7 292.6L188.4 294.7L189.2 296.4L189.9 298.6L190.6 298.7L191.3 298.4L192.1 298.7L192.8 298.6L193.5 297.9L194.2 298.4L195 298.3L195.7 298.1L196.4 298.2L197.1 297.3L197.9 294.9L198.6 293.6L199.3 292.6L200.1 294.2L200.8 296.5L201.5 298.5L202.2 297.9L203 298.3L203.7 298.5L204.4 298.3L205.1 298.6L205.9 297.8L206.6 298.3L207.3 298L208 298.3L208.8 296.4L209.5 292.4L210.2 287.6L211 286.2L211.7 290.3L212.4 293.8L213.1 298.5L213.9 297.8L214.6 298.4L215.3 298.6L216 298L216.8 298.3L217.5 298L218.2 298.4L218.9 298.5L219.7 298.2L220.4 297.4L221.1 295.7L221.8 293.7L222.6 292.1L223.3 294.5L224 296.4L224.8 297.6L225.5 298.3L226.2 298.3L226.9 298L227.7 298.4L228.4 298.6L229.1 298.1L229.8 298.2L230.6 298.1L231.3 298.3L232 297.9L232.7 296.1L233.5 294.2L234.2 292.3L234.9 293.8L235.7 296.2L236.4 298.4L237.1 298L237.8 298.6L238.6 297.9L239.3 298.6L240 298.3L240.7 298.4L241.5 298.5L242.2 298.6L242.9 298.1L243.6 298L244.4 295.6L245.1 294.5L245.8 292.1L246.6 293.8L247.3 295.7L248 297.6L248.7 298L249.5 298.5L250.2 298.5L250.9 298.4L251.6 298L252.4 297.9L253.1 298.2L253.8 298.7L254.5 297.8L255.3 297.4L256 293.3L256.7 289L257.4 285.2L258.2 288.4L258.9 292.8L259.6 296.8L260.4 298.6L261.1 298.4L261.8 298L262.5 298.4L263.3 298.3L264 298.6L264.7 298.1L265.4 297.8L266.2 298L266.9 298.4L267.6 295.8L268.3 294L269.1 292.8L269.8 294L270.5 295.3L271.3 297.6L272 298L272.7 298.6L273.4 298.5L274.2 298.1L274.9 298.7L275.6 298.6L276.3 298.3L277.1 298.6L277.8 298L278.5 297.7L279.2 296.6L280 294.6L280.7 292.5L281.4 293.9L282.2 295.8L282.9 297.1L283.6 298.1L284.3 298.6L285.1 298.1L285.8 298.5L286.5 298L287.2 298.7L288 298.5L288.7 298.3L289.4 298.2L290.1 298.3L290.9 296.3L291.6 295.1L292.3 292.5L293 293.3L293.8 295.2L294.5 296.9L295.2 298.3L296 298.3L296.7 298.1L297.4 298.6L298.1 298.3L298.9 298.7L299.6 297.9L300.3 298.6L301 298.8L301.8 298L302.5 294.3L303.2 290.9L303.9 286.2L304.7 287.1L305.4 291.7L306.1 295.8L306.9 298.7L307.6 298.6L308.3 298.3L309 298.3L309.8 298.5L310.5 298.5L311.2 297.9L311.9 297.9L312.7 297.9L313.4 298.6L314.1 296.9L314.8 295L315.6 293.1L316.3 293.2L317 295.3L317.7 296.8L318.5 298.6L319.2 298.1L319.9 298.1L320.7 298.6L321.4 298.1L322.1 298.2L322.8 298.6L323.6 298.6L324.3 298.1L325 298.1L325.7 296.4L326.5 294.8L327.2 293.3L327.9 293.5L328.6 294.6L329.4 296.4L330.1 298.1L330.8 298L331.6 298.6L332.3 298.5L333 298L333.7 298.1L334.5 298.7L335.2 297.9L335.9 298.7L336.6 298.5L337.4 296.7L338.1 295.7L338.8 293.8L339.5 293.2L340.3 295.2L341 296.7L341.7 298.6L342.5 297.8L343.2 297.9L343.9 298.4L344.6 298.8L345.4 298.2L346.1 298.2L346.8 298.2L347.5 298.5L348.3 298.1L349 295.5L349.7 292.1L350.4 287.5L351.2 285.9L351.9 290.2L352.6 294.3L353.3 297.9L354.1 298L354.8 298.1L355.5 298.5L356.3 298.6L357 298.1L357.7 298.5L358.4 298.6L359.2 298.7L359.9 298.5L360.6 297.3L361.3 295.1L362.1 293.4L362.8 292.7L363.5 294.3L364.2 296.7L365 298.3L365.7 298.1L366.4 298L367.2 298.5L367.9 298.4L368.6 298.6L369.3 298.2L370.1 298.5L370.8 298.1L371.5 298.2L372.2 297.2L373 295.3L373.7 294.3L374.4 292.7L375.1 294.4L375.9 296.6L376.6 297.9L377.3 298.1L378.1 297.9L378.8 298.8L379.5 298L380.2 298.6L381 298.6L381.7 298.4L382.4 298.5L383.1 298.8L383.9 297.6L384.6 295.9L385.3 293.9L386 292.4L386.8 293.9L387.5 296.2L388.2 297.9L388.9 298.8L389.7 298.5L390.4 298.3L391.1 297.9L391.9 297.9L392.6 298.5L393.3 298.6L394 297.9L394.8 298.2L395.5 297.5L396.2 292.7L396.9 288.9L397.7 284.4L398.4 289.1L399.1 293.3L399.8 297.4L400.6 298.4L401.3 298.6L402 298.1L402.8 298.1L403.5 298.2L404.2 298.7L404.9 298.2L405.7 298.7L406.4 298L407.1 298.2L407.8 295.8L408.6 294.7L409.3 292.2L410 294.4L410.7 295.8L411.5 298.1L412.2 298L412.9 298.6L413.6 298.3L414.4 298L415.1 298.3L415.8 298.3L416.6 298.7L417.3 297.9L418 298.2L418.7 298.5L419.5 296.1L420.2 294.2L420.9 292.2L421.6 293.4L422.4 295.8L423.1 297.6L423.8 298.1L424.5 298.4L425.3 298.8L426 298.5L426 304.6L425.3 304.3L424.5 304.2L423.8 304.6L423.1 304.5L422.4 303.5L421.6 301.7L420.9 300L420.2 302L419.5 304L418.7 304.6L418 304.6L417.3 304.5L416.6 304.4L415.8 304.6L415.1 304.5L414.4 304.6L413.6 304.2L412.9 304.3L412.2 304.3L411.5 304.5L410.7 303.8L410 301.8L409.3 299.8L408.6 301.9L407.8 304L407.1 304.3L406.4 304.6L405.7 304.3L404.9 304.5L404.2 304.5L403.5 304.5L402.8 304.4L402 304.5L401.3 304.2L400.6 304.4L399.8 304.6L399.1 302.9L398.4 297.5L397.7 292.4L396.9 297.4L396.2 302.6L395.5 304.5L394.8 304.5L394 304.4L393.3 304.4L392.6 304.3L391.9 304.3L391.1 304.2L390.4 304.3L389.7 304.3L388.9 304.4L388.2 304.5L387.5 303.8L386.8 301.8L386 300.2L385.3 301.5L384.6 303.8L383.9 304.6L383.1 304.2L382.4 304.5L381.7 304.2L381 304.3L380.2 304.3L379.5 304.3L378.8 304.5L378.1 304.4L377.3 304.3L376.6 304.2L375.9 304.1L375.1 302.3L374.4 300.4L373.7 301.6L373 303.4L372.2 304.2L371.5 304.5L370.8 304.5L370.1 304.4L369.3 304.3L368.6 304.6L367.9 304.4L367.2 304.4L366.4 304.6L365.7 304.2L365 304.5L364.2 304.1L363.5 302.3L362.8 300.5L362.1 301.5L361.3 303.5L360.6 304.6L359.9 304.3L359.2 304.5L358.4 304.4L357.7 304.5L357 304.5L356.3 304.4L355.5 304.6L354.8 304.3L354.1 304.3L353.3 304.2L352.6 304.1L351.9 299.1L351.2 293.9L350.4 295.7L349.7 300.8L349 304.5L348.3 304.2L347.5 304.4L346.8 304.5L346.1 304.4L345.4 304.6L344.6 304.2L343.9 304.5L343.2 304.3L342.5 304.5L341.7 304.2L341 304.2L340.3 302.6L339.5 300.4L338.8 301.3L338.1 303.1L337.4 304.5L336.6 304.4L335.9 304.6L335.2 304.6L334.5 304.4L333.7 304.3L333 304.5L332.3 304.6L331.6 304.3L330.8 304.3L330.1 304.6L329.4 304.5L328.6 302.8L327.9 301L327.2 301L326.5 303L325.7 304.3L325 304.2L324.3 304.2L323.6 304.3L322.8 304.5L322.1 304.6L321.4 304.2L320.7 304.5L319.9 304.5L319.2 304.6L318.5 304.5L317.7 304.2L317 302.8L316.3 301.1L315.6 300.7L314.8 302.5L314.1 304.2L313.4 304.4L312.7 304.2L311.9 304.3L311.2 304.3L310.5 304.4L309.8 304.6L309 304.5L308.3 304.6L307.6 304.6L306.9 304.5L306.1 304.5L305.4 300.6L304.7 295.7L303.9 294.2L303.2 299.4L302.5 304.6L301.8 304.6L301 304.5L300.3 304.5L299.6 304.6L298.9 304.3L298.1 304.5L297.4 304.4L296.7 304.3L296 304.5L295.2 304.5L294.5 304.5L293.8 303.4L293 301L292.3 300.4L291.6 302.2L290.9 304.2L290.1 304.2L289.4 304.4L288.7 304.5L288 304.4L287.2 304.3L286.5 304.4L285.8 304.2L285.1 304.2L284.3 304.5L283.6 304.2L282.9 304.2L282.2 303.3L281.4 301.5L280.7 300.2L280 302.4L279.2 304.4L278.5 304.6L277.8 304.4L277.1 304.6L276.3 304.2L275.6 304.3L274.9 304.3L274.2 304.2L273.4 304.4L272.7 304.4L272 304.2L271.3 304.3L270.5 303.5L269.8 301.4L269.1 300.1L268.3 302.1L267.6 303.9L266.9 304.5L266.2 304.2L265.4 304.3L264.7 304.3L264 304.2L263.3 304.2L262.5 304.4L261.8 304.4L261.1 304.2L260.4 304.3L259.6 304.4L258.9 302.4L258.2 297.1L257.4 292.8L256.7 298.1L256 303L255.3 304.5L254.5 304.5L253.8 304.2L253.1 304.5L252.4 304.2L251.6 304.3L250.9 304.3L250.2 304.3L249.5 304.4L248.7 304.3L248 304.5L247.3 303.9L246.6 301.9L245.8 299.7L245.1 302L244.4 303.9L243.6 304.5L242.9 304.3L242.2 304.6L241.5 304.4L240.7 304.3L240 304.4L239.3 304.3L238.6 304.4L237.8 304.5L237.1 304.2L236.4 304.4L235.7 304L234.9 301.9L234.2 300.3L233.5 301.8L232.7 303.6L232 304.2L231.3 304.4L230.6 304.4L229.8 304.4L229.1 304.5L228.4 304.5L227.7 304.4L226.9 304.2L226.2 304.6L225.5 304.6L224.8 304.3L224 303.8L223.3 302.1L222.6 300L221.8 301.7L221.1 303.3L220.4 304.2L219.7 304.6L218.9 304.5L218.2 304.6L217.5 304.6L216.8 304.6L216 304.5L215.3 304.5L214.6 304.3L213.9 304.5L213.1 304.6L212.4 304.1L211.7 298.8L211 293.8L210.2 296.4L209.5 301.6L208.8 304.2L208 304.5L207.3 304.5L206.6 304.3L205.9 304.3L205.1 304.2L204.4 304.5L203.7 304.4L203 304.6L202.2 304.2L201.5 304.5L200.8 304.1L200.1 302.3L199.3 300.6L198.6 301L197.9 303.3L197.1 304.3L196.4 304.3L195.7 304.6L195 304.5L194.2 304.6L193.5 304.2L192.8 304.5L192.1 304.2L191.3 304.2L190.6 304.6L189.9 304.6L189.2 304.4L188.4 302.4L187.7 300.7L187 301.2L186.3 302.9L185.5 304.4L184.8 304.2L184.1 304.2L183.3 304.5L182.6 304.2L181.9 304.2L181.2 304.6L180.4 304.2L179.7 304.2L179 304.3L178.3 304.3L177.5 304.4L176.8 302.9L176.1 300.7L175.4 300.8L174.6 302.7L173.9 304.3L173.2 304.6L172.4 304.5L171.7 304.3L171 304.5L170.3 304.2L169.5 304.5L168.8 304.3L168.1 304.4L167.4 304.3L166.6 304.3L165.9 304.6L165.2 300.5L164.5 295.1L163.7 294.6L163 300L162.3 304.5L161.5 304.5L160.8 304.6L160.1 304.4L159.4 304.2L158.6 304.5L157.9 304.3L157.2 304.4L156.5 304.6L155.7 304.3L155 304.2L154.3 304.4L153.6 303L152.8 301.2L152.1 300.7L151.4 302.7L150.7 304.2L149.9 304.2L149.2 304.3L148.5 304.6L147.7 304.2L147 304.4L146.3 304.3L145.6 304.5L144.8 304.5L144.1 304.6L143.4 304.4L142.7 304.6L141.9 303.1L141.2 301.1L140.5 300.4L139.8 302.2L139 304.1L138.3 304.2L137.6 304.5L136.8 304.5L136.1 304.4L135.4 304.3L134.7 304.2L133.9 304.4L133.2 304.4L132.5 304.5L131.8 304.2L131 304.2L130.3 303.1L129.6 301.6L128.9 300.3L128.1 302.3L127.4 304.3L126.7 304.2L125.9 304.5L125.2 304.5L124.5 304.4L123.8 304.6L123 304.4L122.3 304.6L121.6 304.6L120.9 304.2L120.1 304.4L119.4 304.3L118.7 302L118 297L117.2 292.9L116.5 298.3L115.8 303.3L115.1 304.6L114.3 304.5L113.6 304.2L112.9 304.6L112.1 304.3L111.4 304.6L110.7 304.6L110 304.4L109.2 304.6L108.5 304.5L107.8 304.5L107.1 303.4L106.3 301.6L105.6 300L104.9 301.9L104.2 303.7L103.4 304.4L102.7 304.3L102 304.4L101.2 304.4L100.5 304.5L99.8 304.2L99.1 304.6L98.3 304.4L97.6 304.4L96.9 304.6L96.2 304.6L95.4 303.6L94.7 301.9L94 300L93.3 302L92.5 303.9L91.8 304.6L91.1 304.2L90.4 304.3L89.6 304.4L88.9 304.2L88.2 304.2L87.4 304.6L86.7 304.4L86 304.2L85.3 304.6L84.5 304.6L83.8 303.8L83.1 302.1L82.4 300.1L81.6 301.4L80.9 303.6L80.2 304.6L79.5 304.3L78.7 304.5L78 304.2Z" fill="#9440ed" fill-opacity="0.4" stroke="none"/>
<path d="M78 298.5L78.7 298.3L79.5 298.6L80.2 297.6L80.9 295.5L81.6 293.8L82.4 292L83.1 294L83.8 295.6L84.5 298.1L85.3 298.4L86 298.1L86.7 297.9L87.4 298.2L88.2 298.6L88.9 298.7L89.6 298.4L90.4 298.3L91.1 297.8L91.8 297.5L92.5 295.6L93.3 294.5L94 292.6L94.7 294.4L95.4 295.9L96.2 297.5L96.9 298.7L97.6 298.2L98.3 298.2L99.1 298.2L99.8 297.9L100.5 298.8L101.2 298.3L102 298.5L102.7 298.4L103.4 298L104.2 295.7L104.9 294.7L105.6 292.5L106.3 293.6L107.1 296.1L107.8 297.5L108.5 298.5L109.2 298.8L110 298.8L110.7 298.4L111.4 298.3L112.1 298L112.9 298L113.6 298.6L114.3 298.3L115.1 297.2L115.8 293.4L116.5 289.2L117.2 285.2L118 288.8L118.7 292.3L119.4 296.9L120.1 298.5L120.9 298L121.6 298.6L122.3 298.4L123 298.4L123.8 298.1L124.5 298.1L125.2 297.8L125.9 298.8L126.7 298.3L127.4 296.7L128.1 294.3L128.9 293.2L129.6 293.3L130.3 295.1L131 297.3L131.8 298.7L132.5 297.9L133.2 298.1L133.9 298L134.7 298L135.4 298.5L136.1 297.8L136.8 298.7L137.6 298.6L138.3 298.3L139 296.7L139.8 294.9L140.5 293L141.2 293.1L141.9 295.2L142.7 297L143.4 298.3L144.1 297.9L144.8 298.3L145.6 298.8L146.3 298.5L147 298.4L147.7 298.6L148.5 298.2L149.2 298.8L149.9 297.9L150.7 296.9L151.4 294.8L152.1 292.5L152.8 293.4L153.6 295.1L154.3 296.8L155 298.2L155.7 298.5L156.5 298.5L157.2 298L157.9 298.3L158.6 298.8L159.4 298.3L160.1 298.5L160.8 298.6L161.5 298.6L162.3 295.2L163 290.9L163.7 287.1L164.5 287.1L165.2 291.6L165.9 294.7L166.6 298.1L167.4 297.9L168.1 297.9L168.8 298.7L169.5 298.3L170.3 298.8L171 298L171.7 298.4L172.4 298.1L173.2 298.1L173.9 297.2L174.6 295.3L175.4 293.4L176.1 293L176.8 294.9L177.5 296.9L178.3 298L179 298.1L179.7 298.8L180.4 298.6L181.2 298.5L181.9 298.3L182.6 298.4L183.3 298L184.1 298.3L184.8 298.1L185.5 297.4L186.3 294.9L187 293.7L187.7 292.6L188.4 294.7L189.2 296.4L189.9 298.6L190.6 298.7L191.3 298.4L192.1 298.7L192.8 298.6L193.5 297.9L194.2 298.4L195 298.3L195.7 298.1L196.4 298.2L197.1 297.3L197.9 294.9L198.6 293.6L199.3 292.6L200.1 294.2L200.8 296.5L201.5 298.5L202.2 297.9L203 298.3L203.7 298.5L204.4 298.3L205.1 298.6L205.9 297.8L206.6 298.3L207.3 298L208 298.3L208.8 296.4L209.5 292.4L210.2 287.6L211 286.2L211.7 290.3L212.4 293.8L213.1 298.5L213.9 297.8L214.6 298.4L215.3 298.6L216 298L216.8 298.3L217.5 298L218.2 298.4L218.9 298.5L219.7 298.2L220.4 297.4L221.1 295.7L221.8 293.7L222.6 292.1L223.3 294.5L224 296.4L224.8 297.6L225.5 298.3L226.2 298.3L226.9 298L227.7 298.4L228.4 298.6L229.1 298.1L229.8 298.2L230.6 298.1L231.3 298.3L232 297.9L232.7 296.1L233.5 294.2L234.2 292.3L234.9 293.8L235.7 296.2L236.4 298.4L237.1 298L237.8 298.6L238.6 297.9L239.3 298.6L240 298.3L240.7 298.4L241.5 298.5L242.2 298.6L242.9 298.1L243.6 298L244.4 295.6L245.1 294.5L245.8 292.1L246.6 293.8L247.3 295.7L248 297.6L248.7 298L249.5 298.5L250.2 298.5L250.9 298.4L251.6 298L252.4 297.9L253.1 298.2L253.8 298.7L254.5 297.8L255.3 297.4L256 293.3L256.7 289L257.4 285.2L258.2 288.4L258.9 292.8L259.6 296.8L260.4 298.6L261.1 298.4L261.8 298L262.5 298.4L263.3 298.3L264 298.6L264.7 298.1L265.4 297.8L266.2 298L266.9 298.4L267.6 295.8L268.3 294L269.1 292.8L269.8 294L270.5 295.3L271.3 297.6L272 298L272.7 298.6L273.4 298.5L274.2 298.1L274.9 298.7L275.6 298.6L276.3 298.3L277.1 298.6L277.8 298L278.5 297.7L279.2 296.6L280 294.6L280.7 292.5L281.4 293.9L282.2 295.8L282.9 297.1L283.6 298.1L284.3 298.6L285.1 298.1L285.8 298.5L286.5 298L287.2 298.7L288 298.5L288.7 298.3L289.4 298.2L290.1 298.3L290.9 296.3L291.6 295.1L292.3 292.5L293 293.3L293.8 295.2L294.5 296.9L295.2 298.3L296 298.3L296.7 298.1L297.4 298.6L298.1 298.3L298.9 298.7L299.6 297.9L300.3 298.6L301 298.8L301.8 298L302.5 294.3L303.2 290.9L303.9 286.2L304.7 287.1L305.4 291.7L306.1 295.8L306.9 298.7L307.6 298.6L308.3 298.3L309 298.3L309.8 298.5L310.5 298.5L311.2 297.9L311.9 297.9L312.7 297.9L313.4 298.6L314.1 296.9L314.8 295L315.6 293.1L316.3 293.2L317 295.3L317.7 296.8L318.5 298.6L319.2 298.1L319.9 298.1L320.7 298.6L321.4 298.1L322.1 298.2L322.8 298.6L323.6 298.6L324.3 298.1L325 298.1L325.7 296.4L326.5 294.8L327.2 293.3L327.9 293.5L328.6 294.6L329.4 296.4L330.1 298.1L330.8 298L331.6 298.6L332.3 298.5L333 298L333.7 298.1L334.5 298.7L335.2 297.9L335.9 298.7L336.6 298.5L337.4 296.7L338.1 295.7L338.8 293.8L339.5 293.2L340.3 295.2L341 296.7L341.7 298.6L342.5 297.8L343.2 297.9L343.9 298.4L344.6 298.8L345.4 298.2L346.1 298.2L346.8 298.2L347.5 298.5L348.3 298.1L349 295.5L349.7 292.1L350.4 287.5L351.2 285.9L351.9 290.2L352.6 294.3L353.3 297.9L354.1 298L354.8 298.1L355.5 298.5L356.3 298.6L357 298.1L357.7 298.5L358.4 298.6L359.2 298.7L359.9 298.5L360.6 297.3L361.3 295.1L362.1 293.4L362.8 292.7L363.5 294.3L364.2 296.7L365 298.3L365.7 298.1L366.4 298L367.2 298.5L367.9 298.4L368.6 298.6L369.3 298.2L370.1 298.5L370.8 298.1L371.5 298.2L372.2 297.2L373 295.3L373.7 294.3L374.4 292.7L375.1 294.4L375.9 296.6L376.6 297.9L377.3 298.1L378.1 297.9L378.8 298.8L379.5 298L380.2 298.6L381 298.6L381.7 298.4L382.4 298.5L383.1 298.8L383.9 297.6L384.6 295.9L385.3 293.9L386 292.4L386.8 293.9L387.5 296.2L388.2 297.9L388.9 298.8L389.7 298.5L390.4 298.3L391.1 297.9L391.9 297.9L392.6 298.5L393.3 298.6L394 297.9L394.8 298.2L395.5 297.5L396.2 292.7L396.9 288.9L397.7 284.4L398.4 289.1L399.1 293.3L399.8 297.4L400.6 298.4L401.3 298.6L402 298.1L402.8 298.1L403.5 298.2L404.2 298.7L404.9 298.2L405.7 298.7L406.4 298L407.1 298.2L407.8 295.8L408.6 294.7L409.3 292.2L410 294.4L410.7 295.8L411.5 298.1L412.2 298L412.9 298.6L413.6 298.3L414.4 298L415.1 298.3L415.8 298.3L416.6 298.7L417.3 297.9L418 298.2L418.7 298.5L419.5 296.1L420.2 294.2L420.9 292.2L421.6 293.4L422.4 295.8L423.1 297.6L423.8 298.1L424.5 298.4L425.3 298.8L426 298.5" transform="translate(0.43,2.46)" stroke="#000" stroke-opacity="0.1" stroke-width="3"/>
<path d="M78 298.5L78.7 298.3L79.5 298.6L80.2 297.6L80.9 295.5L81.6 293.8L82.4 292L83.1 294L83.8 295.6L84.5 298.1L85.3 298.4L86 298.1L86.7 297.9L87.4 298.2L88.2 298.6L88.9 298.7L89.6 298.4L90.4 298.3L91.1 297.8L91.8 297.5L92.5 295.6L93.3 294.5L94 292.6L94.7 294.4L95.4 295.9L96.2 297.5L96.9 298.7L97.6 298.2L98.3 298.2L99.1 298.2L99.8 297.9L100.5 298.8L101.2 298.3L102 298.5L102.7 298.4L103.4 298L104.2 295.7L104.9 294.7L105.6 292.5L106.3 293.6L107.1 296.1L107.8 297.5L108.5 298.5L109.2 298.8L110 298.8L110.7 298.4L111.4 298.3L112.1 298L112.9 298L113.6 298.6L114.3 298.3L115.1 297.2L115.8 293.4L116.5 289.2L117.2 285.2L118 288.8L118.7 292.3L119.4 296.9L120.1 298.5L120.9 298L121.6 298.6L122.3 298.4L123 298.4L123.8 298.1L124.5 298.1L125.2 297.8L125.9 298.8L126.7 298.3L127.4 296.7L128.1 294.3L128.9 293.2L129.6 293.3L130.3 295.1L131 297.3L131.8 298.7L132.5 297.9L133.2 298.1L133.9 298L134.7 298L135.4 298.5L136.1 297.8L136.8 298.7L137.6 298.6L138.3 298.3L139 296.7L139.8 294.9L140.5 293L141.2 293.1L141.9 295.2L142.7 297L143.4 298.3L144.1 297.9L144.8 298.3L145.6 298.8L146.3 298.5L147 298.4L147.7 298.6L148.5 298.2L149.2 298.8L149.9 297.9L150.7 296.9L151.4 294.8L152.1 292.5L152.8 293.4L153.6 295.1L154.3 296.8L155 298.2L155.7 298.5L156.5 298.5L157.2 298L157.9 298.3L158.6 298.8L159.4 298.3L160.1 298.5L160.8 298.6L161.5 298.6L162.3 295.2L163 290.9L163.7 287.1L164.5 287.1L165.2 291.6L165.9 294.7L166.6 298.1L167.4 297.9L168.1 297.9L168.8 298.7L169.5 298.3L170.3 298.8L171 298L171.7 298.4L172.4 298.1L173.2 298.1L173.9 297.2L174.6 295.3L175.4 293.4L176.1 293L176.8 294.9L177.5 296.9L178.3 298L179 298.1L179.7 298.8L180.4 298.6L181.2 298.5L181.9 298.3L182.6 298.4L183.3 298L184.1 298.3L184.8 298.1L185.5 297.4L186.3 294.9L187 293.7L187.7 292.6L188.4 294.7L189.2 296.4L189.9 298.6L190.6 298.7L191.3 298.4L192.1 298.7L192.8 298.6L193.5 297.9L194.2 298.4L195 298.3L195.7 298.1L196.4 298.2L197.1 297.3L197.9 294.9L198.6 293.6L199.3 292.6L200.1 294.2L200.8 296.5L201.5 298.5L202.2 297.9L203 298.3L203.7 298.5L204.4 298.3L205.1 298.6L205.9 297.8L206.6 298.3L207.3 298L208 298.3L208.8 296.4L209.5 292.4L210.2 287.6L211 286.2L211.7 290.3L212.4 293.8L213.1 298.5L213.9 297.8L214.6 298.4L215.3 298.6L216 298L216.8 298.3L217.5 298L218.2 298.4L218.9 298.5L219.7 298.2L220.4 297.4L221.1 295.7L221.8 293.7L222.6 292.1L223.3 294.5L224 296.4L224.8 297.6L225.5 298.3L226.2 298.3L226.9 298L227.7 298.4L228.4 298.6L229.1 298.1L229.8 298.2L230.6 298.1L231.3 298.3L232 297.9L232.7 296.1L233.5 294.2L234.2 292.3L234.9 293.8L235.7 296.2L236.4 298.4L237.1 298L237.8 298.6L238.6 297.9L239.3 298.6L240 298.3L240.7 298.4L241.5 298.5L242.2 298.6L242.9 298.1L243.6 298L244.4 295.6L245.1 294.5L245.8 292.1L246.6 293.8L247.3 295.7L248 297.6L248.7 298L249.5 298.5L250.2 298.5L250.9 298.4L251.6 298L252.4 297.9L253.1 298.2L253.8 298.7L254.5 297.8L255.3 297.4L256 293.3L256.7 289L257.4 285.2L258.2 288.4L258.9 292.8L259.6 296.8L260.4 298.6L261.1 298.4L261.8 298L262.5 298.4L263.3 298.3L264 298.6L264.7 298.1L265.4 297.8L266.2 298L266.9 298.4L267.6 295.8L268.3 294L269.1 292.8L269.8 294L270.5 295.3L271.3 297.6L272 298L272.7 298.6L273.4 298.5L274.2 298.1L274.9 298.7L275.6 298.6L276.3 298.3L277.1 298.6L277.8 298L278.5 297.7L279.2 296.6L280 294.6L280.7 292.5L281.4 293.9L282.2 295.8L282.9 297.1L283.6 298.1L284.3 298.6L285.1 298.1L285.8 298.5L286.5 298L287.2 298.7L288 298.5L288.7 298.3L289.4 298.2L290.1 298.3L290.9 296.3L291.6 295.1L292.3 292.5L293 293.3L293.8 295.2L294.5 296.9L295.2 298.3L296 298.3L296.7 298.1L297.4 298.6L298.1 298.3L298.9 298.7L299.6 297.9L300.3 298.6L301 298.8L301.8 298L302.5 294.3L303.2 290.9L303.9 286.2L304.7 287.1L305.4 291.7L306.1 295.8L306.9 298.7L307.6 298.6L308.3 298.3L309 298.3L309.8 298.5L310.5 298.5L311.2 297.9L311.9 297.9L312.7 297.9L313.4 298.6L314.1 296.9L314.8 295L315.6 293.1L316.3 293.2L317 295.3L317.7 296.8L318.5 298.6L319.2 298.1L319.9 298.1L320.7 298.6L321.4 298.1L322.1 298.2L322.8 298.6L323.6 298.6L324.3 298.1L325 298.1L325.7 296.4L326.5 294.8L327.2 293.3L327.9 293.5L328.6 294.6L329.4 296.4L330.1 298.1L330.8 298L331.6 298.6L332.3 298.5L333 298L333.7 298.1L334.5 298.7L335.2 297.9L335.9 298.7L336.6 298.5L337.4 296.7L338.1 295.7L338.8 293.8L339.5 293.2L340.3 295.2L341 296.7L341.7 298.6L342.5 297.8L343.2 297.9L343.9 298.4L344.6 298.8L345.4 298.2L346.1 298.2L346.8 298.2L347.5 298.5L348.3 298.1L349 295.5L349.7 292.1L350.4 287.5L351.2 285.9L351.9 290.2L352.6 294.3L353.3 297.9L354.1 298L354.8 298.1L355.5 298.5L356.3 298.6L357 298.1L357.7 298.5L358.4 298.6L359.2 298.7L359.9 298.5L360.6 297.3L361.3 295.1L362.1 293.4L362.8 292.7L363.5 294.3L364.2 296.7L365 298.3L365.7 298.1L366.4 298L367.2 298.5L367.9 298.4L368.6 298.6L369.3 298.2L370.1 298.5L370.8 298.1L371.5 298.2L372.2 297.2L373 295.3L373.7 294.3L374.4 292.7L375.1 294.4L375.9 296.6L376.6 297.9L377.3 298.1L378.1 297.9L378.8 298.8L379.5 298L380.2 298.6L381 298.6L381.7 298.4L382.4 298.5L383.1 298.8L383.9 297.6L384.6 295.9L385.3 293.9L386 292.4L386.8 293.9L387.5 296.2L388.2 297.9L388.9 298.8L389.7 298.5L390.4 298.3L391.1 297.9L391.9 297.9L392.6 298.5L393.3 298.6L394 297.9L394.8 298.2L395.5 297.5L396.2 292.7L396.9 288.9L397.7 284.4L398.4 289.1L399.1 293.3L399.8 297.4L400.6 298.4L401.3 298.6L402 298.1L402.8 298.1L403.5 298.2L404.2 298.7L404.9 298.2L405.7 298.7L406.4 298L407.1 298.2L407.8 295.8L408.6 294.7L409.3 292.2L410 294.4L410.7 295.8L411.5 298.1L412.2 298L412.9 298.6L413.6 298.3L414.4 298L415.1 298.3L415.8 298.3L416.6 298.7L417.3 297.9L418 298.2L418.7 298.5L419.5 296.1L420.2 294.2L420.9 292.2L421.6 293.4L422.4 295.8L423.1 297.6L423.8 298.1L424.5 298.4L425.3 298.8L426 298.5" transform="translate(0.3,1.72)" stroke="#000" stroke-opacity="0.1" stroke-width="1.5"/>
<path d="M78 298.5L78.7 298.3L79.5 298.6L80.2 297.6L80.9 295.5L81.6 293.8L82.4 292L83.1 294L83.8 295.6L84.5 298.1L85.3 298.4L86 298.1L86.7 297.9L87.4 298.2L88.2 298.6L88.9 298.7L89.6 298.4L90.4 298.3L91.1 297.8L91.8 297.5L92.5 295.6L93.3 294.5L94 292.6L94.7 294.4L95.4 295.9L96.2 297.5L96.9 298.7L97.6 298.2L98.3 298.2L99.1 298.2L99.8 297.9L100.5 298.8L101.2 298.3L102 298.5L102.7 298.4L103.4 298L104.2 295.7L104.9 294.7L105.6 292.5L106.3 293.6L107.1 296.1L107.8 297.5L108.5 298.5L109.2 298.8L110 298.8L110.7 298.4L111.4 298.3L112.1 298L112.9 298L113.6 298.6L114.3 298.3L115.1 297.2L115.8 293.4L116.5 289.2L117.2 285.2L118 288.8L118.7 292.3L119.4 296.9L120.1 298.5L120.9 298L121.6 298.6L122.3 298.4L123 298.4L123.8 298.1L124.5 298.1L125.2 297.8L125.9 298.8L126.7 298.3L127.4 296.7L128.1 294.3L128.9 293.2L129.6 293.3L130.3 295.1L131 297.3L131.8 298.7L132.5 297.9L133.2 298.1L133.9 298L134.7 298L135.4 298.5L136.1 297.8L136.8 298.7L137.6 298.6L138.3 298.3L139 296.7L139.8 294.9L140.5 293L141.2 293.1L141.9 295.2L142.7 297L143.4 298.3L144.1 297.9L144.8 298.3L145.6 298.8L146.3 298.5L147 298.4L147.7 298.6L148.5 298.2L149.2 298.8L149.9 297.9L150.7 296.9L151.4 294.8L152.1 292.5L152.8 293.4L153.6 295.1L154.3 296.8L155 298.2L155.7 298.5L156.5 298.5L157.2 298L157.9 298.3L158.6 298.8L159.4 298.3L160.1 298.5L160.8 298.6L161.5 298.6L162.3 295.2L163 290.9L163.7 287.1L164.5 287.1L165.2 291.6L165.9 294.7L166.6 298.1L167.4 297.9L168.1 297.9L168.8 298.7L169.5 298.3L170.3 298.8L171 298L171.7 298.4L172.4 298.1L173.2 298.1L173.9 297.2L174.6 295.3L175.4 293.4L176.1 293L176.8 294.9L177.5 296.9L178.3 298L179 298.1L179.7 298.8L180.4 298.6L181.2 298.5L181.9 298.3L182.6 298.4L183.3 298L184.1 298.3L184.8 298.1L185.5 297.4L186.3 294.9L187 293.7L187.7 292.6L188.4 294.7L189.2 296.4L189.9 298.6L190.6 298.7L191.3 298.4L192.1 298.7L192.8 298.6L193.5 297.9L194.2 298.4L195 298.3L195.7 298.1L196.4 298.2L197.1 297.3L197.9 294.9L198.6 293.6L199.3 292.6L200.1 294.2L200.8 296.5L201.5 298.5L202.2 297.9L203 298.3L203.7 298.5L204.4 298.3L205.1 298.6L205.9 297.8L206.6 298.3L207.3 298L208 298.3L208.8 296.4L209.5 292.4L210.2 287.6L211 286.2L211.7 290.3L212.4 293.8L213.1 298.5L213.9 297.8L214.6 298.4L215.3 298.6L216 298L216.8 298.3L217.5 298L218.2 298.4L218.9 298.5L219.7 298.2L220.4 297.4L221.1 295.7L221.8 293.7L222.6 292.1L223.3 294.5L224 296.4L224.8 297.6L225.5 298.3L226.2 298.3L226.9 298L227.7 298.4L228.4 298.6L229.1 298.1L229.8 298.2L230.6 298.1L231.3 298.3L232 297.9L232.7 296.1L233.5 294.2L234.2 292.3L234.9 293.8L235.7 296.2L236.4 298.4L237.1 298L237.8 298.6L238.6 297.9L239.3 298.6L240 298.3L240.7 298.4L241.5 298.5L242.2 298.6L242.9 298.1L243.6 298L244.4 295.6L245.1 294.5L245.8 292.1L246.6 293.8L247.3 295.7L248 297.6L248.7 298L249.5 298.5L250.2 298.5L250.9 298.4L251.6 298L252.4 297.9L253.1 298.2L253.8 298.7L254.5 297.8L255.3 297.4L256 293.3L256.7 289L257.4 285.2L258.2 288.4L258.9 292.8L259.6 296.8L260.4 298.6L261.1 298.4L261.8 298L262.5 298.4L263.3 298.3L264 298.6L264.7 298.1L265.4 297.8L266.2 298L266.9 298.4L267.6 295.8L268.3 294L269.1 292.8L269.8 294L270.5 295.3L271.3 297.6L272 298L272.7 298.6L273.4 298.5L274.2 298.1L274.9 298.7L275.6 298.6L276.3 298.3L277.1 298.6L277.8 298L278.5 297.7L279.2 296.6L280 294.6L280.7 292.5L281.4 293.9L282.2 295.8L282.9 297.1L283.6 298.1L284.3 298.6L285.1 298.1L285.8 298.5L286.5 298L287.2 298.7L288 298.5L288.7 298.3L289.4 298.2L290.1 298.3L290.9 296.3L291.6 295.1L292.3 292.5L293 293.3L293.8 295.2L294.5 296.9L295.2 298.3L296 298.3L296.7 298.1L297.4 298.6L298.1 298.3L298.9 298.7L299.6 297.9L300.3 298.6L301 298.8L301.8 298L302.5 294.3L303.2 290.9L303.9 286.2L304.7 287.1L305.4 291.7L306.1 295.8L306.9 298.7L307.6 298.6L308.3 298.3L309 298.3L309.8 298.5L310.5 298.5L311.2 297.9L311.9 297.9L312.7 297.9L313.4 298.6L314.1 296.9L314.8 295L315.6 293.1L316.3 293.2L317 295.3L317.7 296.8L318.5 298.6L319.2 298.1L319.9 298.1L320.7 298.6L321.4 298.1L322.1 298.2L322.8 298.6L323.6 298.6L324.3 298.1L325 298.1L325.7 296.4L326.5 294.8L327.2 293.3L327.9 293.5L328.6 294.6L329.4 296.4L330.1 298.1L330.8 298L331.6 298.6L332.3 298.5L333 298L333.7 298.1L334.5 298.7L335.2 297.9L335.9 298.7L336.6 298.5L337.4 296.7L338.1 295.7L338.8 293.8L339.5 293.2L340.3 295.2L341 296.7L341.7 298.6L342.5 297.8L343.2 297.9L343.9 298.4L344.6 298.8L345.4 298.2L346.1 298.2L346.8 298.2L347.5 298.5L348.3 298.1L349 295.5L349.7 292.1L350.4 287.5L351.2 285.9L351.9 290.2L352.6 294.3L353.3 297.9L354.1 298L354.8 298.1L355.5 298.5L356.3 298.6L357 298.1L357.7 298.5L358.4 298.6L359.2 298.7L359.9 298.5L360.6 297.3L361.3 295.1L362.1 293.4L362.8 292.7L363.5 294.3L364.2 296.7L365 298.3L365.7 298.1L366.4 298L367.2 298.5L367.9 298.4L368.6 298.6L369.3 298.2L370.1 298.5L370.8 298.1L371.5 298.2L372.2 297.2L373 295.3L373.7 294.3L374.4 292.7L375.1 294.4L375.9 296.6L376.6 297.9L377.3 298.1L378.1 297.9L378.8 298.8L379.5 298L380.2 298.6L381 298.6L381.7 298.4L382.4 298.5L383.1 298.8L383.9 297.6L384.6 295.9L385.3 293.9L386 292.4L386.8 293.9L387.5 296.2L388.2 297.9L388.9 298.8L389.7 298.5L390.4 298.3L391.1 297.9L391.9 297.9L392.6 298.5L393.3 298.6L394 297.9L394.8 298.2L395.5 297.5L396.2 292.7L396.9 288.9L397.7 284.4L398.4 289.1L399.1 293.3L399.8 297.4L400.6 298.4L401.3 298.6L402 298.1L402.8 298.1L403.5 298.2L404.2 298.7L404.9 298.2L405.7 298.7L406.4 298L407.1 298.2L407.8 295.8L408.6 294.7L409.3 292.2L410 294.4L410.7 295.8L411.5 298.1L412.2 298L412.9 298.6L413.6 298.3L414.4 298L415.1 298.3L415.8 298.3L416.6 298.7L417.3 297.9L418 298.2L418.7 298.5L419.5 296.1L420.2 294.2L420.9 292.2L421.6 293.4L422.4 295.8L423.1 297.6L423.8 298.1L424.5 298.4L425.3 298.8L426 298.5" stroke="#9440ed" stroke-width="2"/>
<path d="M78 304.2L78.7 304.5L79.5 304.3L80.2 304.6L80.9 303.6L81.6 301.4L82.4 300.1L83.1 302.1L83.8 303.8L84.5 304.6L85.3 304.6L86 304.2L86.7 304.4L87.4 304.6L88.2 304.2L88.9 304.2L89.6 304.4L90.4 304.3L91.1 304.2L91.8 304.6L92.5 303.9L93.3 302L94 300L94.7 301.9L95.4 303.6L96.2 304.6L96.9 304.6L97.6 304.4L98.3 304.4L99.1 304.6L99.8 304.2L100.5 304.5L101.2 304.4L102 304.4L102.7 304.3L103.4 304.4L104.2 303.7L104.9 301.9L105.6 300L106.3 301.6L107.1 303.4L107.8 304.5L108.5 304.5L109.2 304.6L110 304.4L110.7 304.6L111.4 304.6L112.1 304.3L112.9 304.6L113.6 304.2L114.3 304.5L115.1 304.6L115.8 303.3L116.5 298.3L117.2 292.9L118 297L118.7 302L119.4 304.3L120.1 304.4L120.9 304.2L121.6 304.6L122.3 304.6L123 304.4L123.8 304.6L124.5 304.4L125.2 304.5L125.9 304.5L126.7 304.2L127.4 304.3L128.1 302.3L128.9 300.3L129.6 301.6L130.3 303.1L131 304.2L131.8 304.2L132.5 304.5L133.2 304.4L133.9 304.4L134.7 304.2L135.4 304.3L136.1 304.4L136.8 304.5L137.6 304.5L138.3 304.2L139 304.1L139.8 302.2L140.5 300.4L141.2 301.1L141.9 303.1L142.7 304.6L143.4 304.4L144.1 304.6L144.8 304.5L145.6 304.5L146.3 304.3L147 304.4L147.7 304.2L148.5 304.6L149.2 304.3L149.9 304.2L150.7 304.2L151.4 302.7L152.1 300.7L152.8 301.2L153.6 303L154.3 304.4L155 304.2L155.7 304.3L156.5 304.6L157.2 304.4L157.9 304.3L158.6 304.5L159.4 304.2L160.1 304.4L160.8 304.6L161.5 304.5L162.3 304.5L163 300L163.7 294.6L164.5 295.1L165.2 300.5L165.9 304.6L166.6 304.3L167.4 304.3L168.1 304.4L168.8 304.3L169.5 304.5L170.3 304.2L171 304.5L171.7 304.3L172.4 304.5L173.2 304.6L173.9 304.3L174.6 302.7L175.4 300.8L176.1 300.7L176.8 302.9L177.5 304.4L178.3 304.3L179 304.3L179.7 304.2L180.4 304.2L181.2 304.6L181.9 304.2L182.6 304.2L183.3 304.5L184.1 304.2L184.8 304.2L185.5 304.4L186.3 302.9L187 301.2L187.7 300.7L188.4 302.4L189.2 304.4L189.9 304.6L190.6 304.6L191.3 304.2L192.1 304.2L192.8 304.5L193.5 304.2L194.2 304.6L195 304.5L195.7 304.6L196.4 304.3L197.1 304.3L197.9 303.3L198.6 301L199.3 300.6L200.1 302.3L200.8 304.1L201.5 304.5L202.2 304.2L203 304.6L203.7 304.4L204.4 304.5L205.1 304.2L205.9 304.3L206.6 304.3L207.3 304.5L208 304.5L208.8 304.2L209.5 301.6L210.2 296.4L211 293.8L211.7 298.8L212.4 304.1L213.1 304.6L213.9 304.5L214.6 304.3L215.3 304.5L216 304.5L216.8 304.6L217.5 304.6L218.2 304.6L218.9 304.5L219.7 304.6L220.4 304.2L221.1 303.3L221.8 301.7L222.6 300L223.3 302.1L224 303.8L224.8 304.3L225.5 304.6L226.2 304.6L226.9 304.2L227.7 304.4L228.4 304.5L229.1 304.5L229.8 304.4L230.6 304.4L231.3 304.4L232 304.2L232.7 303.6L233.5 301.8L234.2 300.3L234.9 301.9L235.7 304L236.4 304.4L237.1 304.2L237.8 304.5L238.6 304.4L239.3 304.3L240 304.4L240.7 304.3L241.5 304.4L242.2 304.6L242.9 304.3L243.6 304.5L244.4 303.9L245.1 302L245.8 299.7L246.6 301.9L247.3 303.9L248 304.5L248.7 304.3L249.5 304.4L250.2 304.3L250.9 304.3L251.6 304.3L252.4 304.2L253.1 304.5L253.8 304.2L254.5 304.5L255.3 304.5L256 303L256.7 298.1L257.4 292.8L258.2 297.1L258.9 302.4L259.6 304.4L260.4 304.3L261.1 304.2L261.8 304.4L262.5 304.4L263.3 304.2L264 304.2L264.7 304.3L265.4 304.3L266.2 304.2L266.9 304.5L267.6 303.9L268.3 302.1L269.1 300.1L269.8 301.4L270.5 303.5L271.3 304.3L272 304.2L272.7 304.4L273.4 304.4L274.2 304.2L274.9 304.3L275.6 304.3L276.3 304.2L277.1 304.6L277.8 304.4L278.5 304.6L279.2 304.4L280 302.4L280.7 300.2L281.4 301.5L282.2 303.3L282.9 304.2L283.6 304.2L284.3 304.5L285.1 304.2L285.8 304.2L286.5 304.4L287.2 304.3L288 304.4L288.7 304.5L289.4 304.4L290.1 304.2L290.9 304.2L291.6 302.2L292.3 300.4L293 301L293.8 303.4L294.5 304.5L295.2 304.5L296 304.5L296.7 304.3L297.4 304.4L298.1 304.5L298.9 304.3L299.6 304.6L300.3 304.5L301 304.5L301.8 304.6L302.5 304.6L303.2 299.4L303.9 294.2L304.7 295.7L305.4 300.6L306.1 304.5L306.9 304.5L307.6 304.6L308.3 304.6L309 304.5L309.8 304.6L310.5 304.4L311.2 304.3L311.9 304.3L312.7 304.2L313.4 304.4L314.1 304.2L314.8 302.5L315.6 300.7L316.3 301.1L317 302.8L317.7 304.2L318.5 304.5L319.2 304.6L319.9 304.5L320.7 304.5L321.4 304.2L322.1 304.6L322.8 304.5L323.6 304.3L324.3 304.2L325 304.2L325.7 304.3L326.5 303L327.2 301L327.9 301L328.6 302.8L329.4 304.5L330.1 304.6L330.8 304.3L331.6 304.3L332.3 304.6L333 304.5L333.7 304.3L334.5 304.4L335.2 304.6L335.9 304.6L336.6 304.4L337.4 304.5L338.1 303.1L338.8 301.3L339.5 300.4L340.3 302.6L341 304.2L341.7 304.2L342.5 304.5L343.2 304.3L343.9 304.5L344.6 304.2L345.4 304.6L346.1 304.4L346.8 304.5L347.5 304.4L348.3 304.2L349 304.5L349.7 300.8L350.4 295.7L351.2 293.9L351.9 299.1L352.6 304.1L353.3 304.2L354.1 304.3L354.8 304.3L355.5 304.6L356.3 304.4L357 304.5L357.7 304.5L358.4 304.4L359.2 304.5L359.9 304.3L360.6 304.6L361.3 303.5L362.1 301.5L362.8 300.5L363.5 302.3L364.2 304.1L365 304.5L365.7 304.2L366.4 304.6L367.2 304.4L367.9 304.4L368.6 304.6L369.3 304.3L370.1 304.4L370.8 304.5L371.5 304.5L372.2 304.2L373 303.4L373.7 301.6L374.4 300.4L375.1 302.3L375.9 304.1L376.6 304.2L377.3 304.3L378.1 304.4L378.8 304.5L379.5 304.3L380.2 304.3L381 304.3L381.7 304.2L382.4 304.5L383.1 304.2L383.9 304.6L384.6 303.8L385.3 301.5L386 300.2L386.8 301.8L387.5 303.8L388.2 304.5L388.9 304.4L389.7 304.3L390.4 304.3L391.1 304.2L391.9 304.3L392.6 304.3L393.3 304.4L394 304.4L394.8 304.5L395.5 304.5L396.2 302.6L396.9 297.4L397.7 292.4L398.4 297.5L399.1 302.9L399.8 304.6L400.6 304.4L401.3 304.2L402 304.5L402.8 304.4L403.5 304.5L404.2 304.5L404.9 304.5L405.7 304.3L406.4 304.6L407.1 304.3L407.8 304L408.6 301.9L409.3 299.8L410 301.8L410.7 303.8L411.5 304.5L412.2 304.3L412.9 304.3L413.6 304.2L414.4 304.6L415.1 304.5L415.8 304.6L416.6 304.4L417.3 304.5L418 304.6L418.7 304.6L419.5 304L420.2 302L420.9 300L421.6 301.7L422.4 303.5L423.1 304.5L423.8 304.6L424.5 304.2L425.3 304.3L426 304.6L426 306.7L425.3 306.7L424.5 306.7L423.8 306.7L423.1 306.7L422.4 306.7L421.6 306.7L420.9 306.7L420.2 306.7L419.5 306.7L418.7 306.7L418 306.7L417.3 306.7L416.6 306.7L415.8 306.7L415.1 306.7L414.4 306.7L413.6 306.7L412.9 306.7L412.2 306.7L411.5 306.7L410.7 306.7L410 306.7L409.3 306.7L408.6 306.7L407.8 306.7L407.1 306.7L406.4 306.7L405.7 306.7L404.9 306.7L404.2 306.7L403.5 306.7L402.8 306.7L402 306.7L401.3 306.7L400.6 306.7L399.8 306.7L399.1 306.7L398.4 306.7L397.7 306.7L396.9 306.7L396.2 306.7L395.5 306.7L394.8 306.7L394 306.7L393.3 306.7L392.6 306.7L391.9 306.7L391.1 306.7L390.4 306.7L389.7 306.7L388.9 306.7L388.2 306.7L387.5 306.7L386.8 306.7L386 306.7L385.3 306.7L384.6 306.7L383.9 306.7L383.1 306.7L382.4 306.7L381.7 306.7L381 306.7L380.2 306.7L379.5 306.7L378.8 306.7L378.1 306.7L377.3 306.7L376.6 306.7L375.9 306.7L375.1 306.7L374.4 306.7L373.7 306.7L373 306.7L372.2 306.7L371.5 306.7L370.8 306.7L370.1 306.7L369.3 306.7L368.6 306.7L367.9 306.7L367.2 306.7L366.4 306.7L365.7 306.7L365 306.7L364.2 306.7L363.5 306.7L362.8 306.7L362.1 306.7L361.3 306.7L360.6 306.7L359.9 306.7L359.2 306.7L358.4 306.7L357.7 306.7L357 306.7L356.3 306.7L355.5 306.7L354.8 306.7L354.1 306.7L353.3 306.7L352.6 306.7L351.9 306.7L351.2 306.7L350.4 306.7L349.7 306.7L349 306.7L348.3 306.7L347.5 306.7L346.8 306.7L346.1 306.7L345.4 306.7L344.6 306.7L343.9 306.7L343.2 306.7L342.5 306.7L341.7 306.7L341 306.7L340.3 306.7L339.5 306.7L338.8 306.7L338.1 306.7L337.4 306.7L336.6 306.7L335.9 306.7L335.2 306.7L334.5 306.7L333.7 306.7L333 306.7L332.3 306.7L331.6 306.7L330.8 306.7L330.1 306.7L329.4 306.7L328.6 306.7L327.9 306.7L327.2 306.7L326.5 306.7L325.7 306.7L325 306.7L324.3 306.7L323.6 306.7L322.8 306.7L322.1 306.7L321.4 306.7L320.7 306.7L319.9 306.7L319.2 306.7L318.5 306.7L317.7 306.7L317 306.7L316.3 306.7L315.6 306.7L314.8 306.7L314.1 306.7L313.4 306.7L312.7 306.7L311.9 306.7L311.2 306.7L310.5 306.7L309.8 306.7L309 306.7L308.3 306.7L307.6 306.7L306.9 306.7L306.1 306.7L305.4 306.7L304.7 306.7L303.9 306.7L303.2 306.7L302.5 306.7L301.8 306.7L301 306.7L300.3 306.7L299.6 306.7L298.9 306.7L298.1 306.7L297.4 306.7L296.7 306.7L296 306.7L295.2 306.7L294.5 306.7L293.8 306.7L293 306.7L292.3 306.7L291.6 306.7L290.9 306.7L290.1 306.7L289.4 306.7L288.7 306.7L288 306.7L287.2 306.7L286.5 306.7L285.8 306.7L285.1 306.7L284.3 306.7L283.6 306.7L282.9 306.7L282.2 306.7L281.4 306.7L280.7 306.7L280 306.7L279.2 306.7L278.5 306.7L277.8 306.7L277.1 306.7L276.3 306.7L275.6 306.7L274.9 306.7L274.2 306.7L273.4 306.7L272.7 306.7L272 306.7L271.3 306.7L270.5 306.7L269.8 306.7L269.1 306.7L268.3 306.7L267.6 306.7L266.9 306.7L266.2 306.7L265.4 306.7L264.7 306.7L264 306.7L263.3 306.7L262.5 306.7L261.8 306.7L261.1 306.7L260.4 306.7L259.6 306.7L258.9 306.7L258.2 306.7L257.4 306.7L256.7 306.7L256 306.7L255.3 306.7L254.5 306.7L253.8 306.7L253.1 306.7L252.4 306.7L251.6 306.7L250.9 306.7L250.2 306.7L249.5 306.7L248.7 306.7L248 306.7L247.3 306.7L246.6 306.7L245.8 306.7L245.1 306.7L244.4 306.7L243.6 306.7L242.9 306.7L242.2 306.7L241.5 306.7L240.7 306.7L240 306.7L239.3 306.7L238.6 306.7L237.8 306.7L237.1 306.7L236.4 306.7L235.7 306.7L234.9 306.7L234.2 306.7L233.5 306.7L232.7 306.7L232 306.7L231.3 306.7L230.6 306.7L229.8 306.7L229.1 306.7L228.4 306.7L227.7 306.7L226.9 306.7L226.2 306.7L225.5 306.7L224.8 306.7L224 306.7L223.3 306.7L222.6 306.7L221.8 306.7L221.1 306.7L220.4 306.7L219.7 306.7L218.9 306.7L218.2 306.7L217.5 306.7L216.8 306.7L216 306.7L215.3 306.7L214.6 306.7L213.9 306.7L213.1 306.7L212.4 306.7L211.7 306.7L211 306.7L210.2 306.7L209.5 306.7L208.8 306.7L208 306.7L207.3 306.7L206.6 306.7L205.9 306.7L205.1 306.7L204.4 306.7L203.7 306.7L203 306.7L202.2 306.7L201.5 306.7L200.8 306.7L200.1 306.7L199.3 306.7L198.6 306.7L197.9 306.7L197.1 306.7L196.4 306.7L195.7 306.7L195 306.7L194.2 306.7L193.5 306.7L192.8 306.7L192.1 306.7L191.3 306.7L190.6 306.7L189.9 306.7L189.2 306.7L188.4 306.7L187.7 306.7L187 306.7L186.3 306.7L185.5 306.7L184.8 306.7L184.1 306.7L183.3 306.7L182.6 306.7L181.9 306.7L181.2 306.7L180.4 306.7L179.7 306.7L179 306.7L178.3 306.7L177.5 306.7L176.8 306.7L176.1 306.7L175.4 306.7L174.6 306.7L173.9 306.7L173.2 306.7L172.4 306.7L171.7 306.7L171 306.7L170.3 306.7L169.5 306.7L168.8 306.7L168.1 306.7L167.4 306.7L166.6 306.7L165.9 306.7L165.2 306.7L164.5 306.7L163.7 306.7L163 306.7L162.3 306.7L161.5 306.7L160.8 306.7L160.1 306.7L159.4 306.7L158.6 306.7L157.9 306.7L157.2 306.7L156.5 306.7L155.7 306.7L155 306.7L154.3 306.7L153.6 306.7L152.8 306.7L152.1 306.7L151.4 306.7L150.7 306.7L149.9 306.7L149.2 306.7L148.5 306.7L147.7 306.7L147 306.7L146.3 306.7L145.6 306.7L144.8 306.7L144.1 306.7L143.4 306.7L142.7 306.7L141.9 306.7L141.2 306.7L140.5 306.7L139.8 306.7L139 306.7L138.3 306.7L137.6 306.7L136.8 306.7L136.1 306.7L135.4 306.7L134.7 306.7L133.9 306.7L133.2 306.7L132.5 306.7L131.8 306.7L131 306.7L130.3 306.7L129.6 306.7L128.9 306.7L128.1 306.7L127.4 306.7L126.7 306.7L125.9 306.7L125.2 306.7L124.5 306.7L123.8 306.7L123 306.7L122.3 306.7L121.6 306.7L120.9 306.7L120.1 306.7L119.4 306.7L118.7 306.7L118 306.7L117.2 306.7L116.5 306.7L115.8 306.7L115.1 306.7L114.3 306.7L113.6 306.7L112.9 306.7L112.1 306.7L111.4 306.7L110.7 306.7L110 306.7L109.2 306.7L108.5 306.7L107.8 306.7L107.1 306.7L106.3 306.7L105.6 306.7L104.9 306.7L104.2 306.7L103.4 306.7L102.7 306.7L102 306.7L101.2 306.7L100.5 306.7L99.8 306.7L99.1 306.7L98.3 306.7L97.6 306.7L96.9 306.7L96.2 306.7L95.4 306.7L94.7 306.7L94 306.7L93.3 306.7L92.5 306.7L91.8 306.7L91.1 306.7L90.4 306.7L89.6 306.7L88.9 306.7L88.2 306.7L87.4 306.7L86.7 306.7L86 306.7L85.3 306.7L84.5 306.7L83.8 306.7L83.1 306.7L82.4 306.7L81.6 306.7L80.9 306.7L80.2 306.7L79.5 306.7L78.7 306.7L78 306.7Z" fill="#000000" fill-opacity="0.4" stroke="none"/>
<path d="M78 304.2L78.7 304.5L79.5 304.3L80.2 304.6L80.9 303.6L81.6 301.4L82.4 300.1L83.1 302.1L83.8 303.8L84.5 304.6L85.3 304.6L86 304.2L86.7 304.4L87.4 304.6L88.2 304.2L88.9 304.2L89.6 304.4L90.4 304.3L91.1 304.2L91.8 304.6L92.5 303.9L93.3 302L94 300L94.7 301.9L95.4 303.6L96.2 304.6L96.9 304.6L97.6 304.4L98.3 304.4L99.1 304.6L99.8 304.2L100.5 304.5L101.2 304.4L102 304.4L102.7 304.3L103.4 304.4L104.2 303.7L104.9 301.9L105.6 300L106.3 301.6L107.1 303.4L107.8 304.5L108.5 304.5L109.2 304.6L110 304.4L110.7 304.6L111.4 304.6L112.1 304.3L112.9 304.6L113.6 304.2L114.3 304.5L115.1 304.6L115.8 303.3L116.5 298.3L117.2 292.9L118 297L118.7 302L119.4 304.3L120.1 304.4L120.9 304.2L121.6 304.6L122.3 304.6L123 304.4L123.8 304.6L124.5 304.4L125.2 304.5L125.9 304.5L126.7 304.2L127.4 304.3L128.1 302.3L128.9 300.3L129.6 301.6L130.3 303.1L131 304.2L131.8 304.2L132.5 304.5L133.2 304.4L133.9 304.4L134.7 304.2L135.4 304.3L136.1 304.4L136.8 304.5L137.6 304.5L138.3 304.2L139 304.1L139.8 302.2L140.5 300.4L141.2 301.1L141.9 303.1L142.7 304.6L143.4 304.4L144.1 304.6L144.8 304.5L145.6 304.5L146.3 304.3L147 304.4L147.7 304.2L148.5 304.6L149.2 304.3L149.9 304.2L150.7 304.2L151.4 302.7L152.1 300.7L152.8 301.2L153.6 303L154.3 304.4L155 304.2L155.7 304.3L156.5 304.6L157.2 304.4L157.9 304.3L158.6 304.5L159.4 304.2L160.1 304.4L160.8 304.6L161.5 304.5L162.3 304.5L163 300L163.7 294.6L164.5 295.1L165.2 300.5L165.9 304.6L166.6 304.3L167.4 304.3L168.1 304.4L168.8 304.3L169.5 304.5L170.3 304.2L171 304.5L171.7 304.3L172.4 304.5L173.2 304.6L173.9 304.3L174.6 302.7L175.4 300.8L176.1 300.7L176.8 302.9L177.5 304.4L178.3 304.3L179 304.3L179.7 304.2L180.4 304.2L181.2 304.6L181.9 304.2L182.6 304.2L183.3 304.5L184.1 304.2L184.8 304.2L185.5 304.4L186.3 302.9L187 301.2L187.7 300.7L188.4 302.4L189.2 304.4L189.9 304.6L190.6 304.6L191.3 304.2L192.1 304.2L192.8 304.5L193.5 304.2L194.2 304.6L195 304.5L195.7 304.6L196.4 304.3L197.1 304.3L197.9 303.3L198.6 301L199.3 300.6L200.1 302.3L200.8 304.1L201.5 304.5L202.2 304.2L203 304.6L203.7 304.4L204.4 304.5L205.1 304.2L205.9 304.3L206.6 304.3L207.3 304.5L208 304.5L208.8 304.2L209.5 301.6L210.2 296.4L211 293.8L211.7 298.8L212.4 304.1L213.1 304.6L213.9 304.5L214.6 304.3L215.3 304.5L216 304.5L216.8 304.6L217.5 304.6L218.2 304.6L218.9 304.5L219.7 304.6L220.4 304.2L221.1 303.3L221.8 301.7L222.6 300L223.3 302.1L224 303.8L224.8 304.3L225.5 304.6L226.2 304.6L226.9 304.2L227.7 304.4L228.4 304.5L229.1 304.5L229.8 304.4L230.6 304.4L231.3 304.4L232 304.2L232.7 303.6L233.5 301.8L234.2 300.3L234.9 301.9L235.7 304L236.4 304.4L237.1 304.2L237.8 304.5L238.6 304.4L239.3 304.3L240 304.4L240.7 304.3L241.5 304.4L242.2 304.6L242.9 304.3L243.6 304.5L244.4 303.9L245.1 302L245.8 299.7L246.6 301.9L247.3 303.9L248 304.5L248.7 304.3L249.5 304.4L250.2 304.3L250.9 304.3L251.6 304.3L252.4 304.2L253.1 304.5L253.8 304.2L254.5 304.5L255.3 304.5L256 303L256.7 298.1L257.4 292.8L258.2 297.1L258.9 302.4L259.6 304.4L260.4 304.3L261.1 304.2L261.8 304.4L262.5 304.4L263.3 304.2L264 304.2L264.7 304.3L265.4 304.3L266.2 304.2L266.9 304.5L267.6 303.9L268.3 302.1L269.1 300.1L269.8 301.4L270.5 303.5L271.3 304.3L272 304.2L272.7 304.4L273.4 304.4L274.2 304.2L274.9 304.3L275.6 304.3L276.3 304.2L277.1 304.6L277.8 304.4L278.5 304.6L279.2 304.4L280 302.4L280.7 300.2L281.4 301.5L282.2 303.3L282.9 304.2L283.6 304.2L284.3 304.5L285.1 304.2L285.8 304.2L286.5 304.4L287.2 304.3L288 304.4L288.7 304.5L289.4 304.4L290.1 304.2L290.9 304.2L291.6 302.2L292.3 300.4L293 301L293.8 303.4L294.5 304.5L295.2 304.5L296 304.5L296.7 304.3L297.4 304.4L298.1 304.5L298.9 304.3L299.6 304.6L300.3 304.5L301 304.5L301.8 304.6L302.5 304.6L303.2 299.4L303.9 294.2L304.7 295.7L305.4 300.6L306.1 304.5L306.9 304.5L307.6 304.6L308.3 304.6L309 304.5L309.8 304.6L310.5 304.4L311.2 304.3L311.9 304.3L312.7 304.2L313.4 304.4L314.1 304.2L314.8 302.5L315.6 300.7L316.3 301.1L317 302.8L317.7 304.2L318.5 304.5L319.2 304.6L319.9 304.5L320.7 304.5L321.4 304.2L322.1 304.6L322.8 304.5L323.6 304.3L324.3 304.2L325 304.2L325.7 304.3L326.5 303L327.2 301L327.9 301L328.6 302.8L329.4 304.5L330.1 304.6L330.8 304.3L331.6 304.3L332.3 304.6L333 304.5L333.7 304.3L334.5 304.4L335.2 304.6L335.9 304.6L336.6 304.4L337.4 304.5L338.1 303.1L338.8 301.3L339.5 300.4L340.3 302.6L341 304.2L341.7 304.2L342.5 304.5L343.2 304.3L343.9 304.5L344.6 304.2L345.4 304.6L346.1 304.4L346.8 304.5L347.5 304.4L348.3 304.2L349 304.5L349.7 300.8L350.4 295.7L351.2 293.9L351.9 299.1L352.6 304.1L353.3 304.2L354.1 304.3L354.8 304.3L355.5 304.6L356.3 304.4L357 304.5L357.7 304.5L358.4 304.4L359.2 304.5L359.9 304.3L360.6 304.6L361.3 303.5L362.1 301.5L362.8 300.5L363.5 302.3L364.2 304.1L365 304.5L365.7 304.2L366.4 304.6L367.2 304.4L367.9 304.4L368.6 304.6L369.3 304.3L370.1 304.4L370.8 304.5L371.5 304.5L372.2 304.2L373 303.4L373.7 301.6L374.4 300.4L375.1 302.3L375.9 304.1L376.6 304.2L377.3 304.3L378.1 304.4L378.8 304.5L379.5 304.3L380.2 304.3L381 304.3L381.7 304.2L382.4 304.5L383.1 304.2L383.9 304.6L384.6 303.8L385.3 301.5L386 300.2L386.8 301.8L387.5 303.8L388.2 304.5L388.9 304.4L389.7 304.3L390.4 304.3L391.1 304.2L391.9 304.3L392.6 304.3L393.3 304.4L394 304.4L394.8 304.5L395.5 304.5L396.2 302.6L396.9 297.4L397.7 292.4L398.4 297.5L399.1 302.9L399.8 304.6L400.6 304.4L401.3 304.2L402 304.5L402.8 304.4L403.5 304.5L404.2 304.5L404.9 304.5L405.7 304.3L406.4 304.6L407.1 304.3L407.8 304L408.6 301.9L409.3 299.8L410 301.8L410.7 303.8L411.5 304.5L412.2 304.3L412.9 304.3L413.6 304.2L414.4 304.6L415.1 304.5L415.8 304.6L416.6 304.4L417.3 304.5L418 304.6L418.7 304.6L419.5 304L420.2 302L420.9 300L421.6 301.7L422.4 303.5L423.1 304.5L423.8 304.6L424.5 304.2L425.3 304.3L426 304.6" transform="translate(0.43,2.46)" stroke="#000" stroke-opacity="0.1" stroke-width="3"/>
<path d="M78 304.2L78.7 304.5L79.5 304.3L80.2 304.6L80.9 303.6L81.6 301.4L82.4 300.1L83.1 302.1L83.8 303.8L84.5 304.6L85.3 304.6L86 304.2L86.7 304.4L87.4 304.6L88.2 304.2L88.9 304.2L89.6 304.4L90.4 304.3L91.1 304.2L91.8 304.6L92.5 303.9L93.3 302L94 300L94.7 301.9L95.4 303.6L96.2 304.6L96.9 304.6L97.6 304.4L98.3 304.4L99.1 304.6L99.8 304.2L100.5 304.5L101.2 304.4L102 304.4L102.7 304.3L103.4 304.4L104.2 303.7L104.9 301.9L105.6 300L106.3 301.6L107.1 303.4L107.8 304.5L108.5 304.5L109.2 304.6L110 304.4L110.7 304.6L111.4 304.6L112.1 304.3L112.9 304.6L113.6 304.2L114.3 304.5L115.1 304.6L115.8 303.3L116.5 298.3L117.2 292.9L118 297L118.7 302L119.4 304.3L120.1 304.4L120.9 304.2L121.6 304.6L122.3 304.6L123 304.4L123.8 304.6L124.5 304.4L125.2 304.5L125.9 304.5L126.7 304.2L127.4 304.3L128.1 302.3L128.9 300.3L129.6 301.6L130.3 303.1L131 304.2L131.8 304.2L132.5 304.5L133.2 304.4L133.9 304.4L134.7 304.2L135.4 304.3L136.1 304.4L136.8 304.5L137.6 304.5L138.3 304.2L139 304.1L139.8 302.2L140.5 300.4L141.2 301.1L141.9 303.1L142.7 304.6L143.4 304.4L144.1 304.6L144.8 304.5L145.6 304.5L146.3 304.3L147 304.4L147.7 304.2L148.5 304.6L149.2 304.3L149.9 304.2L150.7 304.2L151.4 302.7L152.1 300.7L152.8 301.2L153.6 303L154.3 304.4L155 304.2L155.7 304.3L156.5 304.6L157.2 304.4L157.9 304.3L158.6 304.5L159.4 304.2L160.1 304.4L160.8 304.6L161.5 304.5L162.3 304.5L163 300L163.7 294.6L164.5 295.1L165.2 300.5L165.9 304.6L166.6 304.3L167.4 304.3L168.1 304.4L168.8 304.3L169.5 304.5L170.3 304.2L171 304.5L171.7 304.3L172.4 304.5L173.2 304.6L173.9 304.3L174.6 302.7L175.4 300.8L176.1 300.7L176.8 302.9L177.5 304.4L178.3 304.3L179 304.3L179.7 304.2L180.4 304.2L181.2 304.6L181.9 304.2L182.6 304.2L183.3 304.5L184.1 304.2L184.8 304.2L185.5 304.4L186.3 302.9L187 301.2L187.7 300.7L188.4 302.4L189.2 304.4L189.9 304.6L190.6 304.6L191.3 304.2L192.1 304.2L192.8 304.5L193.5 304.2L194.2 304.6L195 304.5L195.7 304.6L196.4 304.3L197.1 304.3L197.9 303.3L198.6 301L199.3 300.6L200.1 302.3L200.8 304.1L201.5 304.5L202.2 304.2L203 304.6L203.7 304.4L204.4 304.5L205.1 304.2L205.9 304.3L206.6 304.3L207.3 304.5L208 304.5L208.8 304.2L209.5 301.6L210.2 296.4L211 293.8L211.7 298.8L212.4 304.1L213.1 304.6L213.9 304.5L214.6 304.3L215.3 304.5L216 304.5L216.8 304.6L217.5 304.6L218.2 304.6L218.9 304.5L219.7 304.6L220.4 304.2L221.1 303.3L221.8 301.7L222.6 300L223.3 302.1L224 303.8L224.8 304.3L225.5 304.6L226.2 304.6L226.9 304.2L227.7 304.4L228.4 304.5L229.1 304.5L229.8 304.4L230.6 304.4L231.3 304.4L232 304.2L232.7 303.6L233.5 301.8L234.2 300.3L234.9 301.9L235.7 304L236.4 304.4L237.1 304.2L237.8 304.5L238.6 304.4L239.3 304.3L240 304.4L240.7 304.3L241.5 304.4L242.2 304.6L242.9 304.3L243.6 304.5L244.4 303.9L245.1 302L245.8 299.7L246.6 301.9L247.3 303.9L248 304.5L248.7 304.3L249.5 304.4L250.2 304.3L250.9 304.3L251.6 304.3L252.4 304.2L253.1 304.5L253.8 304.2L254.5 304.5L255.3 304.5L256 303L256.7 298.1L257.4 292.8L258.2 297.1L258.9 302.4L259.6 304.4L260.4 304.3L261.1 304.2L261.8 304.4L262.5 304.4L263.3 304.2L264 304.2L264.7 304.3L265.4 304.3L266.2 304.2L266.9 304.5L267.6 303.9L268.3 302.1L269.1 300.1L269.8 301.4L270.5 303.5L271.3 304.3L272 304.2L272.7 304.4L273.4 304.4L274.2 304.2L274.9 304.3L275.6 304.3L276.3 304.2L277.1 304.6L277.8 304.4L278.5 304.6L279.2 304.4L280 302.4L280.7 300.2L281.4 301.5L282.2 303.3L282.9 304.2L283.6 304.2L284.3 304.5L285.1 304.2L285.8 304.2L286.5 304.4L287.2 304.3L288 304.4L288.7 304.5L289.4 304.4L290.1 304.2L290.9 304.2L291.6 302.2L292.3 300.4L293 301L293.8 303.4L294.5 304.5L295.2 304.5L296 304.5L296.7 304.3L297.4 304.4L298.1 304.5L298.9 304.3L299.6 304.6L300.3 304.5L301 304.5L301.8 304.6L302.5 304.6L303.2 299.4L303.9 294.2L304.7 295.7L305.4 300.6L306.1 304.5L306.9 304.5L307.6 304.6L308.3 304.6L309 304.5L309.8 304.6L310.5 304.4L311.2 304.3L311.9 304.3L312.7 304.2L313.4 304.4L314.1 304.2L314.8 302.5L315.6 300.7L316.3 301.1L317 302.8L317.7 304.2L318.5 304.5L319.2 304.6L319.9 304.5L320.7 304.5L321.4 304.2L322.1 304.6L322.8 304.5L323.6 304.3L324.3 304.2L325 304.2L325.7 304.3L326.5 303L327.2 301L327.9 301L328.6 302.8L329.4 304.5L330.1 304.6L330.8 304.3L331.6 304.3L332.3 304.6L333 304.5L333.7 304.3L334.5 304.4L335.2 304.6L335.9 304.6L336.6 304.4L337.4 304.5L338.1 303.1L338.8 301.3L339.5 300.4L340.3 302.6L341 304.2L341.7 304.2L342.5 304.5L343.2 304.3L343.9 304.5L344.6 304.2L345.4 304.6L346.1 304.4L346.8 304.5L347.5 304.4L348.3 304.2L349 304.5L349.7 300.8L350.4 295.7L351.2 293.9L351.9 299.1L352.6 304.1L353.3 304.2L354.1 304.3L354.8 304.3L355.5 304.6L356.3 304.4L357 304.5L357.7 304.5L358.4 304.4L359.2 304.5L359.9 304.3L360.6 304.6L361.3 303.5L362.1 301.5L362.8 300.5L363.5 302.3L364.2 304.1L365 304.5L365.7 304.2L366.4 304.6L367.2 304.4L367.9 304.4L368.6 304.6L369.3 304.3L370.1 304.4L370.8 304.5L371.5 304.5L372.2 304.2L373 303.4L373.7 301.6L374.4 300.4L375.1 302.3L375.9 304.1L376.6 304.2L377.3 304.3L378.1 304.4L378.8 304.5L379.5 304.3L380.2 304.3L381 304.3L381.7 304.2L382.4 304.5L383.1 304.2L383.9 304.6L384.6 303.8L385.3 301.5L386 300.2L386.8 301.8L387.5 303.8L388.2 304.5L388.9 304.4L389.7 304.3L390.4 304.3L391.1 304.2L391.9 304.3L392.6 304.3L393.3 304.4L394 304.4L394.8 304.5L395.5 304.5L396.2 302.6L396.9 297.4L397.7 292.4L398.4 297.5L399.1 302.9L399.8 304.6L400.6 304.4L401.3 304.2L402 304.5L402.8 304.4L403.5 304.5L404.2 304.5L404.9 304.5L405.7 304.3L406.4 304.6L407.1 304.3L407.8 304L408.6 301.9L409.3 299.8L410 301.8L410.7 303.8L411.5 304.5L412.2 304.3L412.9 304.3L413.6 304.2L414.4 304.6L415.1 304.5L415.8 304.6L416.6 304.4L417.3 304.5L418 304.6L418.7 304.6L419.5 304L420.2 302L420.9 300L421.6 301.7L422.4 303.5L423.1 304.5L423.8 304.6L424.5 304.2L425.3 304.3L426 304.6" transform="translate(0.3,1.72)" stroke="#000" stroke-opacity="0.1" stroke-width="1.5"/>
<path d="M78 304.2L78.7 304.5L79.5 304.3L80.2 304.6L80.9 303.6L81.6 301.4L82.4 300.1L83.1 302.1L83.8 303.8L84.5 304.6L85.3 304.6L86 304.2L86.7 304.4L87.4 304.6L88.2 304.2L88.9 304.2L89.6 304.4L90.4 304.3L91.1 304.2L91.8 304.6L92.5 303.9L93.3 302L94 300L94.7 301.9L95.4 303.6L96.2 304.6L96.9 304.6L97.6 304.4L98.3 304.4L99.1 304.6L99.8 304.2L100.5 304.5L101.2 304.4L102 304.4L102.7 304.3L103.4 304.4L104.2 303.7L104.9 301.9L105.6 300L106.3 301.6L107.1 303.4L107.8 304.5L108.5 304.5L109.2 304.6L110 304.4L110.7 304.6L111.4 304.6L112.1 304.3L112.9 304.6L113.6 304.2L114.3 304.5L115.1 304.6L115.8 303.3L116.5 298.3L117.2 292.9L118 297L118.7 302L119.4 304.3L120.1 304.4L120.9 304.2L121.6 304.6L122.3 304.6L123 304.4L123.8 304.6L124.5 304.4L125.2 304.5L125.9 304.5L126.7 304.2L127.4 304.3L128.1 302.3L128.9 300.3L129.6 301.6L130.3 303.1L131 304.2L131.8 304.2L132.5 304.5L133.2 304.4L133.9 304.4L134.7 304.2L135.4 304.3L136.1 304.4L136.8 304.5L137.6 304.5L138.3 304.2L139 304.1L139.8 302.2L140.5 300.4L141.2 301.1L141.9 303.1L142.7 304.6L143.4 304.4L144.1 304.6L144.8 304.5L145.6 304.5L146.3 304.3L147 304.4L147.7 304.2L148.5 304.6L149.2 304.3L149.9 304.2L150.7 304.2L151.4 302.7L152.1 300.7L152.8 301.2L153.6 303L154.3 304.4L155 304.2L155.7 304.3L156.5 304.6L157.2 304.4L157.9 304.3L158.6 304.5L159.4 304.2L160.1 304.4L160.8 304.6L161.5 304.5L162.3 304.5L163 300L163.7 294.6L164.5 295.1L165.2 300.5L165.9 304.6L166.6 304.3L167.4 304.3L168.1 304.4L168.8 304.3L169.5 304.5L170.3 304.2L171 304.5L171.7 304.3L172.4 304.5L173.2 304.6L173.9 304.3L174.6 302.7L175.4 300.8L176.1 300.7L176.8 302.9L177.5 304.4L178.3 304.3L179 304.3L179.7 304.2L180.4 304.2L181.2 304.6L181.9 304.2L182.6 304.2L183.3 304.5L184.1 304.2L184.8 304.2L185.5 304.4L186.3 302.9L187 301.2L187.7 300.7L188.4 302.4L189.2 304.4L189.9 304.6L190.6 304.6L191.3 304.2L192.1 304.2L192.8 304.5L193.5 304.2L194.2 304.6L195 304.5L195.7 304.6L196.4 304.3L197.1 304.3L197.9 303.3L198.6 301L199.3 300.6L200.1 302.3L200.8 304.1L201.5 304.5L202.2 304.2L203 304.6L203.7 304.4L204.4 304.5L205.1 304.2L205.9 304.3L206.6 304.3L207.3 304.5L208 304.5L208.8 304.2L209.5 301.6L210.2 296.4L211 293.8L211.7 298.8L212.4 304.1L213.1 304.6L213.9 304.5L214.6 304.3L215.3 304.5L216 304.5L216.8 304.6L217.5 304.6L218.2 304.6L218.9 304.5L219.7 304.6L220.4 304.2L221.1 303.3L221.8 301.7L222.6 300L223.3 302.1L224 303.8L224.8 304.3L225.5 304.6L226.2 304.6L226.9 304.2L227.7 304.4L228.4 304.5L229.1 304.5L229.8 304.4L230.6 304.4L231.3 304.4L232 304.2L232.7 303.6L233.5 301.8L234.2 300.3L234.9 301.9L235.7 304L236.4 304.4L237.1 304.2L237.8 304.5L238.6 304.4L239.3 304.3L240 304.4L240.7 304.3L241.5 304.4L242.2 304.6L242.9 304.3L243.6 304.5L244.4 303.9L245.1 302L245.8 299.7L246.6 301.9L247.3 303.9L248 304.5L248.7 304.3L249.5 304.4L250.2 304.3L250.9 304.3L251.6 304.3L252.4 304.2L253.1 304.5L253.8 304.2L254.5 304.5L255.3 304.5L256 303L256.7 298.1L257.4 292.8L258.2 297.1L258.9 302.4L259.6 304.4L260.4 304.3L261.1 304.2L261.8 304.4L262.5 304.4L263.3 304.2L264 304.2L264.7 304.3L265.4 304.3L266.2 304.2L266.9 304.5L267.6 303.9L268.3 302.1L269.1 300.1L269.8 301.4L270.5 303.5L271.3 304.3L272 304.2L272.7 304.4L273.4 304.4L274.2 304.2L274.9 304.3L275.6 304.3L276.3 304.2L277.1 304.6L277.8 304.4L278.5 304.6L279.2 304.4L280 302.4L280.7 300.2L281.4 301.5L282.2 303.3L282.9 304.2L283.6 304.2L284.3 304.5L285.1 304.2L285.8 304.2L286.5 304.4L287.2 304.3L288 304.4L288.7 304.5L289.4 304.4L290.1 304.2L290.9 304.2L291.6 302.2L292.3 300.4L293 301L293.8 303.4L294.5 304.5L295.2 304.5L296 304.5L296.7 304.3L297.4 304.4L298.1 304.5L298.9 304.3L299.6 304.6L300.3 304.5L301 304.5L301.8 304.6L302.5 304.6L303.2 299.4L303.9 294.2L304.7 295.7L305.4 300.6L306.1 304.5L306.9 304.5L307.6 304.6L308.3 304.6L309 304.5L309.8 304.6L310.5 304.4L311.2 304.3L311.9 304.3L312.7 304.2L313.4 304.4L314.1 304.2L314.8 302.5L315.6 300.7L316.3 301.1L317 302.8L317.7 304.2L318.5 304.5L319.2 304.6L319.9 304.5L320.7 304.5L321.4 304.2L322.1 304.6L322.8 304.5L323.6 304.3L324.3 304.2L325 304.2L325.7 304.3L326.5 303L327.2 301L327.9 301L328.6 302.8L329.4 304.5L330.1 304.6L330.8 304.3L331.6 304.3L332.3 304.6L333 304.5L333.7 304.3L334.5 304.4L335.2 304.6L335.9 304.6L336.6 304.4L337.4 304.5L338.1 303.1L338.8 301.3L339.5 300.4L340.3 302.6L341 304.2L341.7 304.2L342.5 304.5L343.2 304.3L343.9 304.5L344.6 304.2L345.4 304.6L346.1 304.4L346.8 304.5L347.5 304.4L348.3 304.2L349 304.5L349.7 300.8L350.4 295.7L351.2 293.9L351.9 299.1L352.6 304.1L353.3 304.2L354.1 304.3L354.8 304.3L355.5 304.6L356.3 304.4L357 304.5L357.7 304.5L358.4 304.4L359.2 304.5L359.9 304.3L360.6 304.6L361.3 303.5L362.1 301.5L362.8 300.5L363.5 302.3L364.2 304.1L365 304.5L365.7 304.2L366.4 304.6L367.2 304.4L367.9 304.4L368.6 304.6L369.3 304.3L370.1 304.4L370.8 304.5L371.5 304.5L372.2 304.2L373 303.4L373.7 301.6L374.4 300.4L375.1 302.3L375.9 304.1L376.6 304.2L377.3 304.3L378.1 304.4L378.8 304.5L379.5 304.3L380.2 304.3L381 304.3L381.7 304.2L382.4 304.5L383.1 304.2L383.9 304.6L384.6 303.8L385.3 301.5L386 300.2L386.8 301.8L387.5 303.8L388.2 304.5L388.9 304.4L389.7 304.3L390.4 304.3L391.1 304.2L391.9 304.3L392.6 304.3L393.3 304.4L394 304.4L394.8 304.5L395.5 304.5L396.2 302.6L396.9 297.4L397.7 292.4L398.4 297.5L399.1 302.9L399.8 304.6L400.6 304.4L401.3 304.2L402 304.5L402.8 304.4L403.5 304.5L404.2 304.5L404.9 304.5L405.7 304.3L406.4 304.6L407.1 304.3L407.8 304L408.6 301.9L409.3 299.8L410 301.8L410.7 303.8L411.5 304.5L412.2 304.3L412.9 304.3L413.6 304.2L414.4 304.6L415.1 304.5L415.8 304.6L416.6 304.4L417.3 304.5L418 304.6L418.7 304.6L419.5 304L420.2 302L420.9 300L421.6 301.7L422.4 303.5L423.1 304.5L423.8 304.6L424.5 304.2L425.3 304.3L426 304.6" stroke="#000000" stroke-width="2"/>
<path d="M78 306.7L78.7 306.7L79.5 306.7L80.2 306.7L80.9 306.7L81.6 306.7L82.4 306.7L83.1 306.7L83.8 306.7L84.5 306.7L85.3 306.7L86 306.7L86.7 306.7L87.4 306.7L88.2 306.7L88.9 306.7L89.6 306.7L90.4 306.7L91.1 306.7L91.8 306.7L92.5 306.7L93.3 306.7L94 306.7L94.7 306.7L95.4 306.7L96.2 306.7L96.9 306.7L97.6 306.7L98.3 306.7L99.1 306.7L99.8 306.7L100.5 306.7L101.2 306.7L102 306.7L102.7 306.7L103.4 306.7L104.2 306.7L104.9 306.7L105.6 306.7L106.3 306.7L107.1 306.7L107.8 306.7L108.5 306.7L109.2 306.7L110 306.7L110.7 306.7L111.4 306.7L112.1 306.7L112.9 306.7L113.6 306.7L114.3 306.7L115.1 306.7L115.8 306.7L116.5 306.7L117.2 306.7L118 306.7L118.7 306.7L119.4 306.7L120.1 306.7L120.9 306.7L121.6 306.7L122.3 306.7L123 306.7L123.8 306.7L124.5 306.7L125.2 306.7L125.9 306.7L126.7 306.7L127.4 306.7L128.1 306.7L128.9 306.7L129.6 306.7L130.3 306.7L131 306.7L131.8 306.7L132.5 306.7L133.2 306.7L133.9 306.7L134.7 306.7L135.4 306.7L136.1 306.7L136.8 306.7L137.6 306.7L138.3 306.7L139 306.7L139.8 306.7L140.5 306.7L141.2 306.7L141.9 306.7L142.7 306.7L143.4 306.7L144.1 306.7L144.8 306.7L145.6 306.7L146.3 306.7L147 306.7L147.7 306.7L148.5 306.7L149.2 306.7L149.9 306.7L150.7 306.7L151.4 306.7L152.1 306.7L152.8 306.7L153.6 306.7L154.3 306.7L155 306.7L155.7 306.7L156.5 306.7L157.2 306.7L157.9 306.7L158.6 306.7L159.4 306.7L160.1 306.7L160.8 306.7L161.5 306.7L162.3 306.7L163 306.7L163.7 306.7L164.5 306.7L165.2 306.7L165.9 306.7L166.6 306.7L167.4 306.7L168.1 306.7L168.8 306.7L169.5 306.7L170.3 306.7L171 306.7L171.7 306.7L172.4 306.7L173.2 306.7L173.9 306.7L174.6 306.7L175.4 306.7L176.1 306.7L176.8 306.7L177.5 306.7L178.3 306.7L179 306.7L179.7 306.7L180.4 306.7L181.2 306.7L181.9 306.7L182.6 306.7L183.3 306.7L184.1 306.7L184.8 306.7L185.5 306.7L186.3 306.7L187 306.7L187.7 306.7L188.4 306.7L189.2 306.7L189.9 306.7L190.6 306.7L191.3 306.7L192.1 306.7L192.8 306.7L193.5 306.7L194.2 306.7L195 306.7L195.7 306.7L196.4 306.7L197.1 306.7L197.9 306.7L198.6 306.7L199.3 306.7L200.1 306.7L200.8 306.7L201.5 306.7L202.2 306.7L203 306.7L203.7 306.7L204.4 306.7L205.1 306.7L205.9 306.7L206.6 306.7L207.3 306.7L208 306.7L208.8 306.7L209.5 306.7L210.2 306.7L211 306.7L211.7 306.7L212.4 306.7L213.1 306.7L213.9 306.7L214.6 306.7L215.3 306.7L216 306.7L216.8 306.7L217.5 306.7L218.2 306.7L218.9 306.7L219.7 306.7L220.4 306.7L221.1 306.7L221.8 306.7L222.6 306.7L223.3 306.7L224 306.7L224.8 306.7L225.5 306.7L226.2 306.7L226.9 306.7L227.7 306.7L228.4 306.7L229.1 306.7L229.8 306.7L230.6 306.7L231.3 306.7L232 306.7L232.7 306.7L233.5 306.7L234.2 306.7L234.9 306.7L235.7 306.7L236.4 306.7L237.1 306.7L237.8 306.7L238.6 306.7L239.3 306.7L240 306.7L240.7 306.7L241.5 306.7L242.2 306.7L242.9 306.7L243.6 306.7L244.4 306.7L245.1 306.7L245.8 306.7L246.6 306.7L247.3 306.7L248 306.7L248.7 306.7L249.5 306.7L250.2 306.7L250.9 306.7L251.6 306.7L252.4 306.7L253.1 306.7L253.8 306.7L254.5 306.7L255.3 306.7L256 306.7L256.7 306.7L257.4 306.7L258.2 306.7L258.9 306.7L259.6 306.7L260.4 306.7L261.1 306.7L261.8 306.7L262.5 306.7L263.3 306.7L264 306.7L264.7 306.7L265.4 306.7L266.2 306.7L266.9 306.7L267.6 306.7L268.3 306.7L269.1 306.7L269.8 306.7L270.5 306.7L271.3 306.7L272 306.7L272.7 306.7L273.4 306.7L274.2 306.7L274.9 306.7L275.6 306.7L276.3 306.7L277.1 306.7L277.8 306.7L278.5 306.7L279.2 306.7L280 306.7L280.7 306.7L281.4 306.7L282.2 306.7L282.9 306.7L283.6 306.7L284.3 306.7L285.1 306.7L285.8 306.7L286.5 306.7L287.2 306.7L288 306.7L288.7 306.7L289.4 306.7L290.1 306.7L290.9 306.7L291.6 306.7L292.3 306.7L293 306.7L293.8 306.7L294.5 306.7L295.2 306.7L296 306.7L296.7 306.7L297.4 306.7L298.1 306.7L298.9 306.7L299.6 306.7L300.3 306.7L301 306.7L301.8 306.7L302.5 306.7L303.2 306.7L303.9 306.7L304.7 306.7L305.4 306.7L306.1 306.7L306.9 306.7L307.6 306.7L308.3 306.7L309 306.7L309.8 306.7L310.5 306.7L311.2 306.7L311.9 306.7L312.7 306.7L313.4 306.7L314.1 306.7L314.8 306.7L315.6 306.7L316.3 306.7L317 306.7L317.7 306.7L318.5 306.7L319.2 306.7L319.9 306.7L320.7 306.7L321.4 306.7L322.1 306.7L322.8 306.7L323.6 306.7L324.3 306.7L325 306.7L325.7 306.7L326.5 306.7L327.2 306.7L327.9 306.7L328.6 306.7L329.4 306.7L330.1 306.7L330.8 306.7L331.6 306.7L332.3 306.7L333 306.7L333.7 306.7L334.5 306.7L335.2 306.7L335.9 306.7L336.6 306.7L337.4 306.7L338.1 306.7L338.8 306.7L339.5 306.7L340.3 306.7L341 306.7L341.7 306.7L342.5 306.7L343.2 306.7L343.9 306.7L344.6 306.7L345.4 306.7L346.1 306.7L346.8 306.7L347.5 306.7L348.3 306.7L349 306.7L349.7 306.7L350.4 306.7L351.2 306.7L351.9 306.7L352.6 306.7L353.3 306.7L354.1 306.7L354.8 306.7L355.5 306.7L356.3 306.7L357 306.7L357.7 306.7L358.4 306.7L359.2 306.7L359.9 306.7L360.6 306.7L361.3 306.7L362.1 306.7L362.8 306.7L363.5 306.7L364.2 306.7L365 306.7L365.7 306.7L366.4 306.7L367.2 306.7L367.9 306.7L368.6 306.7L369.3 306.7L370.1 306.7L370.8 306.7L371.5 306.7L372.2 306.7L373 306.7L373.7 306.7L374.4 306.7L375.1 306.7L375.9 306.7L376.6 306.7L377.3 306.7L378.1 306.7L378.8 306.7L379.5 306.7L380.2 306.7L381 306.7L381.7 306.7L382.4 306.7L383.1 306.7L383.9 306.7L384.6 306.7L385.3 306.7L386 306.7L386.8 306.7L387.5 306.7L388.2 306.7L388.9 306.7L389.7 306.7L390.4 306.7L391.1 306.7L391.9 306.7L392.6 306.7L393.3 306.7L394 306.7L394.8 306.7L395.5 306.7L396.2 306.7L396.9 306.7L397.7 306.7L398.4 306.7L399.1 306.7L399.8 306.7L400.6 306.7L401.3 306.7L402 306.7L402.8 306.7L403.5 306.7L404.2 306.7L404.9 306.7L405.7 306.7L406.4 306.7L407.1 306.7L407.8 306.7L408.6 306.7L409.3 306.7L410 306.7L410.7 306.7L411.5 306.7L412.2 306.7L412.9 306.7L413.6 306.7L414.4 306.7L415.1 306.7L415.8 306.7L416.6 306.7L417.3 306.7L418 306.7L418.7 306.7L419.5 306.7L420.2 306.7L420.9 306.7L421.6 306.7L422.4 306.7L423.1 306.7L423.8 306.7L424.5 306.7L425.3 306.7L426 306.7L426 308L425.3 308L424.5 308L423.8 308L423.1 308L422.4 308L421.6 308L420.9 308L420.2 308L419.5 308L418.7 308L418 308L417.3 308L416.6 308L415.8 308L415.1 308L414.4 308L413.6 308L412.9 308L412.2 308L411.5 308L410.7 308L410 308L409.3 308L408.6 308L407.8 308L407.1 308L406.4 308L405.7 308L404.9 308L404.2 308L403.5 308L402.8 308L402 308L401.3 308L400.6 308L399.8 308L399.1 308L398.4 308L397.7 308L396.9 308L396.2 308L395.5 308L394.8 308L394 308L393.3 308L392.6 308L391.9 308L391.1 308L390.4 308L389.7 308L388.9 308L388.2 308L387.5 308L386.8 308L386 308L385.3 308L384.6 308L383.9 308L383.1 308L382.4 308L381.7 308L381 308L380.2 308L379.5 308L378.8 308L378.1 308L377.3 308L376.6 308L375.9 308L375.1 308L374.4 308L373.7 308L373 308L372.2 308L371.5 308L370.8 308L370.1 308L369.3 308L368.6 308L367.9 308L367.2 308L366.4 308L365.7 308L365 308L364.2 308L363.5 308L362.8 308L362.1 308L361.3 308L360.6 308L359.9 308L359.2 308L358.4 308L357.7 308L357 308L356.3 308L355.5 308L354.8 308L354.1 308L353.3 308L352.6 308L351.9 308L351.2 308L350.4 308L349.7 308L349 308L348.3 308L347.5 308L346.8 308L346.1 308L345.4 308L344.6 308L343.9 308L343.2 308L342.5 308L341.7 308L341 308L340.3 308L339.5 308L338.8 308L338.1 308L337.4 308L336.6 308L335.9 308L335.2 308L334.5 308L333.7 308L333 308L332.3 308L331.6 308L330.8 308L330.1 308L329.4 308L328.6 308L327.9 308L327.2 308L326.5 308L325.7 308L325 308L324.3 308L323.6 308L322.8 308L322.1 308L321.4 308L320.7 308L319.9 308L319.2 308L318.5 308L317.7 308L317 308L316.3 308L315.6 308L314.8 308L314.1 308L313.4 308L312.7 308L311.9 308L311.2 308L310.5 308L309.8 308L309 308L308.3 308L307.6 308L306.9 308L306.1 308L305.4 308L304.7 308L303.9 308L303.2 308L302.5 308L301.8 308L301 308L300.3 308L299.6 308L298.9 308L298.1 308L297.4 308L296.7 308L296 308L295.2 308L294.5 308L293.8 308L293 308L292.3 308L291.6 308L290.9 308L290.1 308L289.4 308L288.7 308L288 308L287.2 308L286.5 308L285.8 308L285.1 308L284.3 308L283.6 308L282.9 308L282.2 308L281.4 308L280.7 308L280 308L279.2 308L278.5 308L277.8 308L277.1 308L276.3 308L275.6 308L274.9 308L274.2 308L273.4 308L272.7 308L272 308L271.3 308L270.5 308L269.8 308L269.1 308L268.3 308L267.6 308L266.9 308L266.2 308L265.4 308L264.7 308L264 308L263.3 308L262.5 308L261.8 308L261.1 308L260.4 308L259.6 308L258.9 308L258.2 308L257.4 308L256.7 308L256 308L255.3 308L254.5 308L253.8 308L253.1 308L252.4 308L251.6 308L250.9 308L250.2 308L249.5 308L248.7 308L248 308L247.3 308L246.6 308L245.8 308L245.1 308L244.4 308L243.6 308L242.9 308L242.2 308L241.5 308L240.7 308L240 308L239.3 308L238.6 308L237.8 308L237.1 308L236.4 308L235.7 308L234.9 308L234.2 308L233.5 308L232.7 308L232 308L231.3 308L230.6 308L229.8 308L229.1 308L228.4 308L227.7 308L226.9 308L226.2 308L225.5 308L224.8 308L224 308L223.3 308L222.6 308L221.8 308L221.1 308L220.4 308L219.7 308L218.9 308L218.2 308L217.5 308L216.8 308L216 308L215.3 308L214.6 308L213.9 308L213.1 308L212.4 308L211.7 308L211 308L210.2 308L209.5 308L208.8 308L208 308L207.3 308L206.6 308L205.9 308L205.1 308L204.4 308L203.7 308L203 308L202.2 308L201.5 308L200.8 308L200.1 308L199.3 308L198.6 308L197.9 308L197.1 308L196.4 308L195.7 308L195 308L194.2 308L193.5 308L192.8 308L192.1 308L191.3 308L190.6 308L189.9 308L189.2 308L188.4 308L187.7 308L187 308L186.3 308L185.5 308L184.8 308L184.1 308L183.3 308L182.6 308L181.9 308L181.2 308L180.4 308L179.7 308L179 308L178.3 308L177.5 308L176.8 308L176.1 308L175.4 308L174.6 308L173.9 308L173.2 308L172.4 308L171.7 308L171 308L170.3 308L169.5 308L168.8 308L168.1 308L167.4 308L166.6 308L165.9 308L165.2 308L164.5 308L163.7 308L163 308L162.3 308L161.5 308L160.8 308L160.1 308L159.4 308L158.6 308L157.9 308L157.2 308L156.5 308L155.7 308L155 308L154.3 308L153.6 308L152.8 308L152.1 308L151.4 308L150.7 308L149.9 308L149.2 308L148.5 308L147.7 308L147 308L146.3 308L145.6 308L144.8 308L144.1 308L143.4 308L142.7 308L141.9 308L141.2 308L140.5 308L139.8 308L139 308L138.3 308L137.6 308L136.8 308L136.1 308L135.4 308L134.7 308L133.9 308L133.2 308L132.5 308L131.8 308L131 308L130.3 308L129.6 308L128.9 308L128.1 308L127.4 308L126.7 308L125.9 308L125.2 308L124.5 308L123.8 308L123 308L122.3 308L121.6 308L120.9 308L120.1 308L119.4 308L118.7 308L118 308L117.2 308L116.5 308L115.8 308L115.1 308L114.3 308L113.6 308L112.9 308L112.1 308L111.4 308L110.7 308L110 308L109.2 308L108.5 308L107.8 308L107.1 308L106.3 308L105.6 308L104.9 308L104.2 308L103.4 308L102.7 308L102 308L101.2 308L100.5 308L99.8 308L99.1 308L98.3 308L97.6 308L96.9 308L96.2 308L95.4 308L94.7 308L94 308L93.3 308L92.5 308L91.8 308L91.1 308L90.4 308L89.6 308L88.9 308L88.2 308L87.4 308L86.7 308L86 308L85.3 308L84.5 308L83.8 308L83.1 308L82.4 308L81.6 308L80.9 308L80.2 308L79.5 308L78.7 308L78 308Z" fill="#a09b00" fill-opacity="0.4" stroke="none"/>
<path d="M78 306.7L78.7 306.7L79.5 306.7L80.2 306.7L80.9 306.7L81.6 306.7L82.4 306.7L83.1 306.7L83.8 306.7L84.5 306.7L85.3 306.7L86 306.7L86.7 306.7L87.4 306.7L88.2 306.7L88.9 306.7L89.6 306.7L90.4 306.7L91.1 306.7L91.8 306.7L92.5 306.7L93.3 306.7L94 306.7L94.7 306.7L95.4 306.7L96.2 306.7L96.9 306.7L97.6 306.7L98.3 306.7L99.1 306.7L99.8 306.7L100.5 306.7L101.2 306.7L102 306.7L102.7 306.7L103.4 306.7L104.2 306.7L104.9 306.7L105.6 306.7L106.3 306.7L107.1 306.7L107.8 306.7L108.5 306.7L109.2 306.7L110 306.7L110.7 306.7L111.4 306.7L112.1 306.7L112.9 306.7L113.6 306.7L114.3 306.7L115.1 306.7L115.8 306.7L116.5 306.7L117.2 306.7L118 306.7L118.7 306.7L119.4 306.7L120.1 306.7L120.9 306.7L121.6 306.7L122.3 306.7L123 306.7L123.8 306.7L124.5 306.7L125.2 306.7L125.9 306.7L126.7 306.7L127.4 306.7L128.1 306.7L128.9 306.7L129.6 306.7L130.3 306.7L131 306.7L131.8 306.7L132.5 306.7L133.2 306.7L133.9 306.7L134.7 306.7L135.4 306.7L136.1 306.7L136.8 306.7L137.6 306.7L138.3 306.7L139 306.7L139.8 306.7L140.5 306.7L141.2 306.7L141.9 306.7L142.7 306.7L143.4 306.7L144.1 306.7L144.8 306.7L145.6 306.7L146.3 306.7L147 306.7L147.7 306.7L148.5 306.7L149.2 306.7L149.9 306.7L150.7 306.7L151.4 306.7L152.1 306.7L152.8 306.7L153.6 306.7L154.3 306.7L155 306.7L155.7 306.7L156.5 306.7L157.2 306.7L157.9 306.7L158.6 306.7L159.4 306.7L160.1 306.7L160.8 306.7L161.5 306.7L162.3 306.7L163 306.7L163.7 306.7L164.5 306.7L165.2 306.7L165.9 306.7L166.6 306.7L167.4 306.7L168.1 306.7L168.8 306.7L169.5 306.7L170.3 306.7L171 306.7L171.7 306.7L172.4 306.7L173.2 306.7L173.9 306.7L174.6 306.7L175.4 306.7L176.1 306.7L176.8 306.7L177.5 306.7L178.3 306.7L179 306.7L179.7 306.7L180.4 306.7L181.2 306.7L181.9 306.7L182.6 306.7L183.3 306.7L184.1 306.7L184.8 306.7L185.5 306.7L186.3 306.7L187 306.7L187.7 306.7L188.4 306.7L189.2 306.7L189.9 306.7L190.6 306.7L191.3 306.7L192.1 306.7L192.8 306.7L193.5 306.7L194.2 306.7L195 306.7L195.7 306.7L196.4 306.7L197.1 306.7L197.9 306.7L198.6 306.7L199.3 306.7L200.1 306.7L200.8 306.7L201.5 306.7L202.2 306.7L203 306.7L203.7 306.7L204.4 306.7L205.1 306.7L205.9 306.7L206.6 306.7L207.3 306.7L208 306.7L208.8 306.7L209.5 306.7L210.2 306.7L211 306.7L211.7 306.7L212.4 306.7L213.1 306.7L213.9 306.7L214.6 306.7L215.3 306.7L216 306.7L216.8 306.7L217.5 306.7L218.2 306.7L218.9 306.7L219.7 306.7L220.4 306.7L221.1 306.7L221.8 306.7L222.6 306.7L223.3 306.7L224 306.7L224.8 306.7L225.5 306.7L226.2 306.7L226.9 306.7L227.7 306.7L228.4 306.7L229.1 306.7L229.8 306.7L230.6 306.7L231.3 306.7L232 306.7L232.7 306.7L233.5 306.7L234.2 306.7L234.9 306.7L235.7 306.7L236.4 306.7L237.1 306.7L237.8 306.7L238.6 306.7L239.3 306.7L240 306.7L240.7 306.7L241.5 306.7L242.2 306.7L242.9 306.7L243.6 306.7L244.4 306.7L245.1 306.7L245.8 306.7L246.6 306.7L247.3 306.7L248 306.7L248.7 306.7L249.5 306.7L250.2 306.7L250.9 306.7L251.6 306.7L252.4 306.7L253.1 306.7L253.8 306.7L254.5 306.7L255.3 306.7L256 306.7L256.7 306.7L257.4 306.7L258.2 306.7L258.9 306.7L259.6 306.7L260.4 306.7L261.1 306.7L261.8 306.7L262.5 306.7L263.3 306.7L264 306.7L264.7 306.7L265.4 306.7L266.2 306.7L266.9 306.7L267.6 306.7L268.3 306.7L269.1 306.7L269.8 306.7L270.5 306.7L271.3 306.7L272 306.7L272.7 306.7L273.4 306.7L274.2 306.7L274.9 306.7L275.6 306.7L276.3 306.7L277.1 306.7L277.8 306.7L278.5 306.7L279.2 306.7L280 306.7L280.7 306.7L281.4 306.7L282.2 306.7L282.9 306.7L283.6 306.7L284.3 306.7L285.1 306.7L285.8 306.7L286.5 306.7L287.2 306.7L288 306.7L288.7 306.7L289.4 306.7L290.1 306.7L290.9 306.7L291.6 306.7L292.3 306.7L293 306.7L293.8 306.7L294.5 306.7L295.2 306.7L296 306.7L296.7 306.7L297.4 306.7L298.1 306.7L298.9 306.7L299.6 306.7L300.3 306.7L301 306.7L301.8 306.7L302.5 306.7L303.2 306.7L303.9 306.7L304.7 306.7L305.4 306.7L306.1 306.7L306.9 306.7L307.6 306.7L308.3 306.7L309 306.7L309.8 306.7L310.5 306.7L311.2 306.7L311.9 306.7L312.7 306.7L313.4 306.7L314.1 306.7L314.8 306.7L315.6 306.7L316.3 306.7L317 306.7L317.7 306.7L318.5 306.7L319.2 306.7L319.9 306.7L320.7 306.7L321.4 306.7L322.1 306.7L322.8 306.7L323.6 306.7L324.3 306.7L325 306.7L325.7 306.7L326.5 306.7L327.2 306.7L327.9 306.7L328.6 306.7L329.4 306.7L330.1 306.7L330.8 306.7L331.6 306.7L332.3 306.7L333 306.7L333.7 306.7L334.5 306.7L335.2 306.7L335.9 306.7L336.6 306.7L337.4 306.7L338.1 306.7L338.8 306.7L339.5 306.7L340.3 306.7L341 306.7L341.7 306.7L342.5 306.7L343.2 306.7L343.9 306.7L344.6 306.7L345.4 306.7L346.1 306.7L346.8 306.7L347.5 306.7L348.3 306.7L349 306.7L349.7 306.7L350.4 306.7L351.2 306.7L351.9 306.7L352.6 306.7L353.3 306.7L354.1 306.7L354.8 306.7L355.5 306.7L356.3 306.7L357 306.7L357.7 306.7L358.4 306.7L359.2 306.7L359.9 306.7L360.6 306.7L361.3 306.7L362.1 306.7L362.8 306.7L363.5 306.7L364.2 306.7L365 306.7L365.7 306.7L366.4 306.7L367.2 306.7L367.9 306.7L368.6 306.7L369.3 306.7L370.1 306.7L370.8 306.7L371.5 306.7L372.2 306.7L373 306.7L373.7 306.7L374.4 306.7L375.1 306.7L375.9 306.7L376.6 306.7L377.3 306.7L378.1 306.7L378.8 306.7L379.5 306.7L380.2 306.7L381 306.7L381.7 306.7L382.4 306.7L383.1 306.7L383.9 306.7L384.6 306.7L385.3 306.7L386 306.7L386.8 306.7L387.5 306.7L388.2 306.7L388.9 306.7L389.7 306.7L390.4 306.7L391.1 306.7L391.9 306.7L392.6 306.7L393.3 306.7L394 306.7L394.8 306.7L395.5 306.7L396.2 306.7L396.9 306.7L397.7 306.7L398.4 306.7L399.1 306.7L399.8 306.7L400.6 306.7L401.3 306.7L402 306.7L402.8 306.7L403.5 306.7L404.2 306.7L404.9 306.7L405.7 306.7L406.4 306.7L407.1 306.7L407.8 306.7L408.6 306.7L409.3 306.7L410 306.7L410.7 306.7L411.5 306.7L412.2 306.7L412.9 306.7L413.6 306.7L414.4 306.7L415.1 306.7L415.8 306.7L416.6 306.7L417.3 306.7L418 306.7L418.7 306.7L419.5 306.7L420.2 306.7L420.9 306.7L421.6 306.7L422.4 306.7L423.1 306.7L423.8 306.7L424.5 306.7L425.3 306.7L426 306.7" transform="translate(0.43,2.46)" stroke="#000" stroke-opacity="0.1" stroke-width="3"/>
<path d="M78 306.7L78.7 306.7L79.5 306.7L80.2 306.7L80.9 306.7L81.6 306.7L82.4 306.7L83.1 306.7L83.8 306.7L84.5 306.7L85.3 306.7L86 306.7L86.7 306.7L87.4 306.7L88.2 306.7L88.9 306.7L89.6 306.7L90.4 306.7L91.1 306.7L91.8 306.7L92.5 306.7L93.3 306.7L94 306.7L94.7 306.7L95.4 306.7L96.2 306.7L96.9 306.7L97.6 306.7L98.3 306.7L99.1 306.7L99.8 306.7L100.5 306.7L101.2 306.7L102 306.7L102.7 306.7L103.4 306.7L104.2 306.7L104.9 306.7L105.6 306.7L106.3 306.7L107.1 306.7L107.8 306.7L108.5 306.7L109.2 306.7L110 306.7L110.7 306.7L111.4 306.7L112.1 306.7L112.9 306.7L113.6 306.7L114.3 306.7L115.1 306.7L115.8 306.7L116.5 306.7L117.2 306.7L118 306.7L118.7 306.7L119.4 306.7L120.1 306.7L120.9 306.7L121.6 306.7L122.3 306.7L123 306.7L123.8 306.7L124.5 306.7L125.2 306.7L125.9 306.7L126.7 306.7L127.4 306.7L128.1 306.7L128.9 306.7L129.6 306.7L130.3 306.7L131 306.7L131.8 306.7L132.5 306.7L133.2 306.7L133.9 306.7L134.7 306.7L135.4 306.7L136.1 306.7L136.8 306.7L137.6 306.7L138.3 306.7L139 306.7L139.8 306.7L140.5 306.7L141.2 306.7L141.9 306.7L142.7 306.7L143.4 306.7L144.1 306.7L144.8 306.7L145.6 306.7L146.3 306.7L147 306.7L147.7 306.7L148.5 306.7L149.2 306.7L149.9 306.7L150.7 306.7L151.4 306.7L152.1 306.7L152.8 306.7L153.6 306.7L154.3 306.7L155 306.7L155.7 306.7L156.5 306.7L157.2 306.7L157.9 306.7L158.6 306.7L159.4 306.7L160.1 306.7L160.8 306.7L161.5 306.7L162.3 306.7L163 306.7L163.7 306.7L164.5 306.7L165.2 306.7L165.9 306.7L166.6 306.7L167.4 306.7L168.1 306.7L168.8 306.7L169.5 306.7L170.3 306.7L171 306.7L171.7 306.7L172.4 306.7L173.2 306.7L173.9 306.7L174.6 306.7L175.4 306.7L176.1 306.7L176.8 306.7L177.5 306.7L178.3 306.7L179 306.7L179.7 306.7L180.4 306.7L181.2 306.7L181.9 306.7L182.6 306.7L183.3 306.7L184.1 306.7L184.8 306.7L185.5 306.7L186.3 306.7L187 306.7L187.7 306.7L188.4 306.7L189.2 306.7L189.9 306.7L190.6 306.7L191.3 306.7L192.1 306.7L192.8 306.7L193.5 306.7L194.2 306.7L195 306.7L195.7 306.7L196.4 306.7L197.1 306.7L197.9 306.7L198.6 306.7L199.3 306.7L200.1 306.7L200.8 306.7L201.5 306.7L202.2 306.7L203 306.7L203.7 306.7L204.4 306.7L205.1 306.7L205.9 306.7L206.6 306.7L207.3 306.7L208 306.7L208.8 306.7L209.5 306.7L210.2 306.7L211 306.7L211.7 306.7L212.4 306.7L213.1 306.7L213.9 306.7L214.6 306.7L215.3 306.7L216 306.7L216.8 306.7L217.5 306.7L218.2 306.7L218.9 306.7L219.7 306.7L220.4 306.7L221.1 306.7L221.8 306.7L222.6 306.7L223.3 306.7L224 306.7L224.8 306.7L225.5 306.7L226.2 306.7L226.9 306.7L227.7 306.7L228.4 306.7L229.1 306.7L229.8 306.7L230.6 306.7L231.3 306.7L232 306.7L232.7 306.7L233.5 306.7L234.2 306.7L234.9 306.7L235.7 306.7L236.4 306.7L237.1 306.7L237.8 306.7L238.6 306.7L239.3 306.7L240 306.7L240.7 306.7L241.5 306.7L242.2 306.7L242.9 306.7L243.6 306.7L244.4 306.7L245.1 306.7L245.8 306.7L246.6 306.7L247.3 306.7L248 306.7L248.7 306.7L249.5 306.7L250.2 306.7L250.9 306.7L251.6 306.7L252.4 306.7L253.1 306.7L253.8 306.7L254.5 306.7L255.3 306.7L256 306.7L256.7 306.7L257.4 306.7L258.2 306.7L258.9 306.7L259.6 306.7L260.4 306.7L261.1 306.7L261.8 306.7L262.5 306.7L263.3 306.7L264 306.7L264.7 306.7L265.4 306.7L266.2 306.7L266.9 306.7L267.6 306.7L268.3 306.7L269.1 306.7L269.8 306.7L270.5 306.7L271.3 306.7L272 306.7L272.7 306.7L273.4 306.7L274.2 306.7L274.9 306.7L275.6 306.7L276.3 306.7L277.1 306.7L277.8 306.7L278.5 306.7L279.2 306.7L280 306.7L280.7 306.7L281.4 306.7L282.2 306.7L282.9 306.7L283.6 306.7L284.3 306.7L285.1 306.7L285.8 306.7L286.5 306.7L287.2 306.7L288 306.7L288.7 306.7L289.4 306.7L290.1 306.7L290.9 306.7L291.6 306.7L292.3 306.7L293 306.7L293.8 306.7L294.5 306.7L295.2 306.7L296 306.7L296.7 306.7L297.4 306.7L298.1 306.7L298.9 306.7L299.6 306.7L300.3 306.7L301 306.7L301.8 306.7L302.5 306.7L303.2 306.7L303.9 306.7L304.7 306.7L305.4 306.7L306.1 306.7L306.9 306.7L307.6 306.7L308.3 306.7L309 306.7L309.8 306.7L310.5 306.7L311.2 306.7L311.9 306.7L312.7 306.7L313.4 306.7L314.1 306.7L314.8 306.7L315.6 306.7L316.3 306.7L317 306.7L317.7 306.7L318.5 306.7L319.2 306.7L319.9 306.7L320.7 306.7L321.4 306.7L322.1 306.7L322.8 306.7L323.6 306.7L324.3 306.7L325 306.7L325.7 306.7L326.5 306.7L327.2 306.7L327.9 306.7L328.6 306.7L329.4 306.7L330.1 306.7L330.8 306.7L331.6 306.7L332.3 306.7L333 306.7L333.7 306.7L334.5 306.7L335.2 306.7L335.9 306.7L336.6 306.7L337.4 306.7L338.1 306.7L338.8 306.7L339.5 306.7L340.3 306.7L341 306.7L341.7 306.7L342.5 306.7L343.2 306.7L343.9 306.7L344.6 306.7L345.4 306.7L346.1 306.7L346.8 306.7L347.5 306.7L348.3 306.7L349 306.7L349.7 306.7L350.4 306.7L351.2 306.7L351.9 306.7L352.6 306.7L353.3 306.7L354.1 306.7L354.8 306.7L355.5 306.7L356.3 306.7L357 306.7L357.7 306.7L358.4 306.7L359.2 306.7L359.9 306.7L360.6 306.7L361.3 306.7L362.1 306.7L362.8 306.7L363.5 306.7L364.2 306.7L365 306.7L365.7 306.7L366.4 306.7L367.2 306.7L367.9 306.7L368.6 306.7L369.3 306.7L370.1 306.7L370.8 306.7L371.5 306.7L372.2 306.7L373 306.7L373.7 306.7L374.4 306.7L375.1 306.7L375.9 306.7L376.6 306.7L377.3 306.7L378.1 306.7L378.8 306.7L379.5 306.7L380.2 306.7L381 306.7L381.7 306.7L382.4 306.7L383.1 306.7L383.9 306.7L384.6 306.7L385.3 306.7L386 306.7L386.8 306.7L387.5 306.7L388.2 306.7L388.9 306.7L389.7 306.7L390.4 306.7L391.1 306.7L391.9 306.7L392.6 306.7L393.3 306.7L394 306.7L394.8 306.7L395.5 306.7L396.2 306.7L396.9 306.7L397.7 306.7L398.4 306.7L399.1 306.7L399.8 306.7L400.6 306.7L401.3 306.7L402 306.7L402.8 306.7L403.5 306.7L404.2 306.7L404.9 306.7L405.7 306.7L406.4 306.7L407.1 306.7L407.8 306.7L408.6 306.7L409.3 306.7L410 306.7L410.7 306.7L411.5 306.7L412.2 306.7L412.9 306.7L413.6 306.7L414.4 306.7L415.1 306.7L415.8 306.7L416.6 306.7L417.3 306.7L418 306.7L418.7 306.7L419.5 306.7L420.2 306.7L420.9 306.7L421.6 306.7L422.4 306.7L423.1 306.7L423.8 306.7L424.5 306.7L425.3 306.7L426 306.7" transform="translate(0.3,1.72)" stroke="#000" stroke-opacity="0.1" stroke-width="1.5"/>
<path d="M78 306.7L78.7 306.7L79.5 306.7L80.2 306.7L80.9 306.7L81.6 306.7L82.4 306.7L83.1 306.7L83.8 306.7L84.5 306.7L85.3 306.7L86 306.7L86.7 306.7L87.4 306.7L88.2 306.7L88.9 306.7L89.6 306.7L90.4 306.7L91.1 306.7L91.8 306.7L92.5 306.7L93.3 306.7L94 306.7L94.7 306.7L95.4 306.7L96.2 306.7L96.9 306.7L97.6 306.7L98.3 306.7L99.1 306.7L99.8 306.7L100.5 306.7L101.2 306.7L102 306.7L102.7 306.7L103.4 306.7L104.2 306.7L104.9 306.7L105.6 306.7L106.3 306.7L107.1 306.7L107.8 306.7L108.5 306.7L109.2 306.7L110 306.7L110.7 306.7L111.4 306.7L112.1 306.7L112.9 306.7L113.6 306.7L114.3 306.7L115.1 306.7L115.8 306.7L116.5 306.7L117.2 306.7L118 306.7L118.7 306.7L119.4 306.7L120.1 306.7L120.9 306.7L121.6 306.7L122.3 306.7L123 306.7L123.8 306.7L124.5 306.7L125.2 306.7L125.9 306.7L126.7 306.7L127.4 306.7L128.1 306.7L128.9 306.7L129.6 306.7L130.3 306.7L131 306.7L131.8 306.7L132.5 306.7L133.2 306.7L133.9 306.7L134.7 306.7L135.4 306.7L136.1 306.7L136.8 306.7L137.6 306.7L138.3 306.7L139 306.7L139.8 306.7L140.5 306.7L141.2 306.7L141.9 306.7L142.7 306.7L143.4 306.7L144.1 306.7L144.8 306.7L145.6 306.7L146.3 306.7L147 306.7L147.7 306.7L148.5 306.7L149.2 306.7L149.9 306.7L150.7 306.7L151.4 306.7L152.1 306.7L152.8 306.7L153.6 306.7L154.3 306.7L155 306.7L155.7 306.7L156.5 306.7L157.2 306.7L157.9 306.7L158.6 306.7L159.4 306.7L160.1 306.7L160.8 306.7L161.5 306.7L162.3 306.7L163 306.7L163.7 306.7L164.5 306.7L165.2 306.7L165.9 306.7L166.6 306.7L167.4 306.7L168.1 306.7L168.8 306.7L169.5 306.7L170.3 306.7L171 306.7L171.7 306.7L172.4 306.7L173.2 306.7L173.9 306.7L174.6 306.7L175.4 306.7L176.1 306.7L176.8 306.7L177.5 306.7L178.3 306.7L179 306.7L179.7 306.7L180.4 306.7L181.2 306.7L181.9 306.7L182.6 306.7L183.3 306.7L184.1 306.7L184.8 306.7L185.5 306.7L186.3 306.7L187 306.7L187.7 306.7L188.4 306.7L189.2 306.7L189.9 306.7L190.6 306.7L191.3 306.7L192.1 306.7L192.8 306.7L193.5 306.7L194.2 306.7L195 306.7L195.7 306.7L196.4 306.7L197.1 306.7L197.9 306.7L198.6 306.7L199.3 306.7L200.1 306.7L200.8 306.7L201.5 306.7L202.2 306.7L203 306.7L203.7 306.7L204.4 306.7L205.1 306.7L205.9 306.7L206.6 306.7L207.3 306.7L208 306.7L208.8 306.7L209.5 306.7L210.2 306.7L211 306.7L211.7 306.7L212.4 306.7L213.1 306.7L213.9 306.7L214.6 306.7L215.3 306.7L216 306.7L216.8 306.7L217.5 306.7L218.2 306.7L218.9 306.7L219.7 306.7L220.4 306.7L221.1 306.7L221.8 306.7L222.6 306.7L223.3 306.7L224 306.7L224.8 306.7L225.5 306.7L226.2 306.7L226.9 306.7L227.7 306.7L228.4 306.7L229.1 306.7L229.8 306.7L230.6 306.7L231.3 306.7L232 306.7L232.7 306.7L233.5 306.7L234.2 306.7L234.9 306.7L235.7 306.7L236.4 306.7L237.1 306.7L237.8 306.7L238.6 306.7L239.3 306.7L240 306.7L240.7 306.7L241.5 306.7L242.2 306.7L242.9 306.7L243.6 306.7L244.4 306.7L245.1 306.7L245.8 306.7L246.6 306.7L247.3 306.7L248 306.7L248.7 306.7L249.5 306.7L250.2 306.7L250.9 306.7L251.6 306.7L252.4 306.7L253.1 306.7L253.8 306.7L254.5 306.7L255.3 306.7L256 306.7L256.7 306.7L257.4 306.7L258.2 306.7L258.9 306.7L259.6 306.7L260.4 306.7L261.1 306.7L261.8 306.7L262.5 306.7L263.3 306.7L264 306.7L264.7 306.7L265.4 306.7L266.2 306.7L266.9 306.7L267.6 306.7L268.3 306.7L269.1 306.7L269.8 306.7L270.5 306.7L271.3 306.7L272 306.7L272.7 306.7L273.4 306.7L274.2 306.7L274.9 306.7L275.6 306.7L276.3 306.7L277.1 306.7L277.8 306.7L278.5 306.7L279.2 306.7L280 306.7L280.7 306.7L281.4 306.7L282.2 306.7L282.9 306.7L283.6 306.7L284.3 306.7L285.1 306.7L285.8 306.7L286.5 306.7L287.2 306.7L288 306.7L288.7 306.7L289.4 306.7L290.1 306.7L290.9 306.7L291.6 306.7L292.3 306.7L293 306.7L293.8 306.7L294.5 306.7L295.2 306.7L296 306.7L296.7 306.7L297.4 306.7L298.1 306.7L298.9 306.7L299.6 306.7L300.3 306.7L301 306.7L301.8 306.7L302.5 306.7L303.2 306.7L303.9 306.7L304.7 306.7L305.4 306.7L306.1 306.7L306.9 306.7L307.6 306.7L308.3 306.7L309 306.7L309.8 306.7L310.5 306.7L311.2 306.7L311.9 306.7L312.7 306.7L313.4 306.7L314.1 306.7L314.8 306.7L315.6 306.7L316.3 306.7L317 306.7L317.7 306.7L318.5 306.7L319.2 306.7L319.9 306.7L320.7 306.7L321.4 306.7L322.1 306.7L322.8 306.7L323.6 306.7L324.3 306.7L325 306.7L325.7 306.7L326.5 306.7L327.2 306.7L327.9 306.7L328.6 306.7L329.4 306.7L330.1 306.7L330.8 306.7L331.6 306.7L332.3 306.7L333 306.7L333.7 306.7L334.5 306.7L335.2 306.7L335.9 306.7L336.6 306.7L337.4 306.7L338.1 306.7L338.8 306.7L339.5 306.7L340.3 306.7L341 306.7L341.7 306.7L342.5 306.7L343.2 306.7L343.9 306.7L344.6 306.7L345.4 306.7L346.1 306.7L346.8 306.7L347.5 306.7L348.3 306.7L349 306.7L349.7 306.7L350.4 306.7L351.2 306.7L351.9 306.7L352.6 306.7L353.3 306.7L354.1 306.7L354.8 306.7L355.5 306.7L356.3 306.7L357 306.7L357.7 306.7L358.4 306.7L359.2 306.7L359.9 306.7L360.6 306.7L361.3 306.7L362.1 306.7L362.8 306.7L363.5 306.7L364.2 306.7L365 306.7L365.7 306.7L366.4 306.7L367.2 306.7L367.9 306.7L368.6 306.7L369.3 306.7L370.1 306.7L370.8 306.7L371.5 306.7L372.2 306.7L373 306.7L373.7 306.7L374.4 306.7L375.1 306.7L375.9 306.7L376.6 306.7L377.3 306.7L378.1 306.7L378.8 306.7L379.5 306.7L380.2 306.7L381 306.7L381.7 306.7L382.4 306.7L383.1 306.7L383.9 306.7L384.6 306.7L385.3 306.7L386 306.7L386.8 306.7L387.5 306.7L388.2 306.7L388.9 306.7L389.7 306.7L390.4 306.7L391.1 306.7L391.9 306.7L392.6 306.7L393.3 306.7L394 306.7L394.8 306.7L395.5 306.7L396.2 306.7L396.9 306.7L397.7 306.7L398.4 306.7L399.1 306.7L399.8 306.7L400.6 306.7L401.3 306.7L402 306.7L402.8 306.7L403.5 306.7L404.2 306.7L404.9 306.7L405.7 306.7L406.4 306.7L407.1 306.7L407.8 306.7L408.6 306.7L409.3 306.7L410 306.7L410.7 306.7L411.5 306.7L412.2 306.7L412.9 306.7L413.6 306.7L414.4 306.7L415.1 306.7L415.8 306.7L416.6 306.7L417.3 306.7L418 306.7L418.7 306.7L419.5 306.7L420.2 306.7L420.9 306.7L421.6 306.7L422.4 306.7L423.1 306.7L423.8 306.7L424.5 306.7L425.3 306.7L426 306.7" stroke="#a09b00" stroke-width="2"/>
</g>
<g class="tk">
<text x="64" y="313" text-anchor="end">0</text>
<text x="64" y="282" text-anchor="end" textLength="20.5" lengthAdjust="spacingAndGlyphs">200</text>
<text x="64" y="251" text-anchor="end" textLength="20.5" lengthAdjust="spacingAndGlyphs">400</text>
<text x="64" y="220" text-anchor="end" textLength="20.5" lengthAdjust="spacingAndGlyphs">600</text>
<text x="64" y="189" text-anchor="end" textLength="20.5" lengthAdjust="spacingAndGlyphs">800</text>
<text x="64" y="158" text-anchor="end" textLength="14.3" lengthAdjust="spacingAndGlyphs">1K</text>
<text x="64" y="127" text-anchor="end" textLength="24.3" lengthAdjust="spacingAndGlyphs">1.2K</text>
<text x="64" y="96" text-anchor="end" textLength="24.3" lengthAdjust="spacingAndGlyphs">1.4K</text>
<text x="64" y="65" text-anchor="end" textLength="24.3" lengthAdjust="spacingAndGlyphs">1.6K</text>
<text x="132.7" y="334.6" text-anchor="middle" textLength="28.6" lengthAdjust="spacingAndGlyphs">4 AM</text>
<text x="219.7" y="334.6" text-anchor="middle" textLength="28.6" lengthAdjust="spacingAndGlyphs">5 AM</text>
<text x="307.7" y="334.6" text-anchor="middle" textLength="28.6" lengthAdjust="spacingAndGlyphs">6 AM</text>
<text x="394.7" y="334.6" text-anchor="middle" textLength="28.6" lengthAdjust="spacingAndGlyphs">7 AM</text>
</g>
</svg>
<div class="legend">
<div class="lr"><span class="sw"><i style="background:#edc240"></i></span><span class="ll" style="letter-spacing:0.301px">compactions</span></div>
<div class="lr"><span class="sw"><i style="background:#afd8f8"></i></span><span class="ll">freezer</span></div>
<div class="lr"><span class="sw"><i style="background:#cb4b4b"></i></span><span class="ll" style="letter-spacing:0.308px">preintersection</span></div>
<div class="lr"><span class="sw"><i style="background:#4da74d"></i></span><span class="ll" style="letter-spacing:0.304px">purging</span></div>
<div class="lr"><span class="sw"><i style="background:#9440ed"></i></span><span class="ll" style="letter-spacing:0.265px">uploads</span></div>
<div class="lr"><span class="sw"><i style="background:#000000"></i></span><span class="ll" style="letter-spacing:0.346px">histogram builder</span></div>
<div class="lr"><span class="sw"><i style="background:#a09b00"></i></span><span class="ll" style="letter-spacing:0.227px">alert evaluation</span></div>
</div>
</section>
<section class="panel" style="left:470px;top:474px">
<h2 style="letter-spacing:0.67px">Distributed Queries</h2>
<svg class="plot" width="470" height="345" viewBox="0 0 470 345">
<g shape-rendering="crispEdges" fill="none">
<path d="M65 308.5 H426" stroke="#000" stroke-opacity="0.22"/>
<path d="M65 258.5 H426" stroke="#000" stroke-opacity="0.22"/>
<path d="M65 209.5 H426" stroke="#000" stroke-opacity="0.22"/>
<path d="M65 159.5 H426" stroke="#000" stroke-opacity="0.22"/>
<path d="M65 110.5 H426" stroke="#000" stroke-opacity="0.22"/>
<path d="M65 60.5 H426" stroke="#000" stroke-opacity="0.22"/>
<path d="M132.5 60 V321" stroke="#000" stroke-opacity="0.22"/>
<path d="M219.5 60 V321" stroke="#000" stroke-opacity="0.22"/>
<path d="M307.5 60 V321" stroke="#000" stroke-opacity="0.22"/>
<path d="M394.5 60 V321" stroke="#000" stroke-opacity="0.22"/>
<rect x="77.5" y="59.5" width="349" height="249" stroke="#000"/>
<path d="M69 298.5 H77" stroke="#000"/>
<path d="M69 288.5 H77" stroke="#000"/>
<path d="M69 278.5 H77" stroke="#000"/>
<path d="M69 268.5 H77" stroke="#000"/>
<path d="M69 248.5 H77" stroke="#000"/>
<path d="M69 239.5 H77" stroke="#000"/>
<path d="M69 229.5 H77" stroke="#000"/>
<path d="M69 219.5 H77" stroke="#000"/>
<path d="M69 199.5 H77" stroke="#000"/>
<path d="M69 189.5 H77" stroke="#000"/>
<path d="M69 179.5 H77" stroke="#000"/>
<path d="M69 169.5 H77" stroke="#000"/>
<path d="M69 149.5 H77" stroke="#000"/>
<path d="M69 139.5 H77" stroke="#000"/>
<path d="M69 129.5 H77" stroke="#000"/>
<path d="M69 120.5 H77" stroke="#000"/>
<path d="M69 100.5 H77" stroke="#000"/>
<path d="M69 90.5 H77" stroke="#000"/>
<path d="M69 80.5 H77" stroke="#000"/>
<path d="M69 70.5 H77" stroke="#000"/>
<path d="M88.5 309 V317" stroke="#000"/>
<path d="M103.5 309 V313" stroke="#000"/>
<path d="M117.5 309 V313" stroke="#000"/>
<path d="M146.5 309 V313" stroke="#000"/>
<path d="M161.5 309 V313" stroke="#000"/>
<path d="M175.5 309 V317" stroke="#000"/>
<path d="M190.5 309 V313" stroke="#000"/>
<path d="M205.5 309 V313" stroke="#000"/>
<path d="M234.5 309 V313" stroke="#000"/>
<path d="M248.5 309 V313" stroke="#000"/>
<path d="M263.5 309 V317" stroke="#000"/>
<path d="M278.5 309 V313" stroke="#000"/>
<path d="M292.5 309 V313" stroke="#000"/>
<path d="M321.5 309 V313" stroke="#000"/>
<path d="M336.5 309 V313" stroke="#000"/>
<path d="M351.5 309 V317" stroke="#000"/>
<path d="M365.5 309 V313" stroke="#000"/>
<path d="M380.5 309 V313" stroke="#000"/>
<path d="M409.5 309 V313" stroke="#000"/>
<path d="M424.5 309 V313" stroke="#000"/>
</g>
<g fill="none" stroke-linejoin="round" stroke-linecap="butt">
<path d="M78 308L383 308L385.2 103.1L387.9 308L420 308L423 281.2L425.6 308L426 308" transform="translate(0.43,2.46)" stroke="#000" stroke-opacity="0.1" stroke-width="3"/>
<path d="M78 308L383 308L385.2 103.1L387.9 308L420 308L423 281.2L425.6 308L426 308" transform="translate(0.3,1.72)" stroke="#000" stroke-opacity="0.1" stroke-width="1.5"/>
<path d="M78 308L383 308L385.2 103.1L387.9 308L420 308L423 281.2L425.6 308L426 308" stroke="#edc240" stroke-width="2"/>
<path d="M78 308L383.2 308L385.3 264.8L387.6 308L426 308" transform="translate(0.43,2.46)" stroke="#000" stroke-opacity="0.1" stroke-width="3"/>
<path d="M78 308L383.2 308L385.3 264.8L387.6 308L426 308" transform="translate(0.3,1.72)" stroke="#000" stroke-opacity="0.1" stroke-width="1.5"/>
<path d="M78 308L383.2 308L385.3 264.8L387.6 308L426 308" stroke="#afd8f8" stroke-width="2"/>
<path d="M78 308L426 308" transform="translate(0.43,2.46)" stroke="#000" stroke-opacity="0.1" stroke-width="3"/>
<path d="M78 308L426 308" transform="translate(0.3,1.72)" stroke="#000" stroke-opacity="0.1" stroke-width="1.5"/>
<path d="M78 308L426 308" stroke="#cb4b4b" stroke-width="2"/>
</g>
<g class="tk">
<text x="64" y="313.3" text-anchor="end">0</text>
<text x="64" y="263.3" text-anchor="end" textLength="23.8" lengthAdjust="spacingAndGlyphs">0.02</text>
<text x="64" y="214.3" text-anchor="end" textLength="23.8" lengthAdjust="spacingAndGlyphs">0.04</text>
<text x="64" y="164.3" text-anchor="end" textLength="23.8" lengthAdjust="spacingAndGlyphs">0.06</text>
<text x="64" y="115.3" text-anchor="end" textLength="23.8" lengthAdjust="spacingAndGlyphs">0.08</text>
<text x="64" y="65.3" text-anchor="end">0.1</text>
<text x="132.7" y="334.6" text-anchor="middle" textLength="28.6" lengthAdjust="spacingAndGlyphs">4 AM</text>
<text x="219.7" y="334.6" text-anchor="middle" textLength="28.6" lengthAdjust="spacingAndGlyphs">5 AM</text>
<text x="307.7" y="334.6" text-anchor="middle" textLength="28.6" lengthAdjust="spacingAndGlyphs">6 AM</text>
<text x="394.7" y="334.6" text-anchor="middle" textLength="28.6" lengthAdjust="spacingAndGlyphs">7 AM</text>
</g>
</svg>
<div class="legend">
<div class="lr"><span class="sw"><i style="background:#edc240"></i></span><span class="ll" style="letter-spacing:0.17px">Initiated failover (events / second)</span></div>
<div class="lr"><span class="sw"><i style="background:#afd8f8"></i></span><span class="ll" style="letter-spacing:0.042px">Used failover (events / second)</span></div>
<div class="lr"><span class="sw"><i style="background:#cb4b4b"></i></span><span class="ll" style="letter-spacing:0.02px">Slave errors (events / second)</span></div>
</div>
</section>
</body>
</html>
